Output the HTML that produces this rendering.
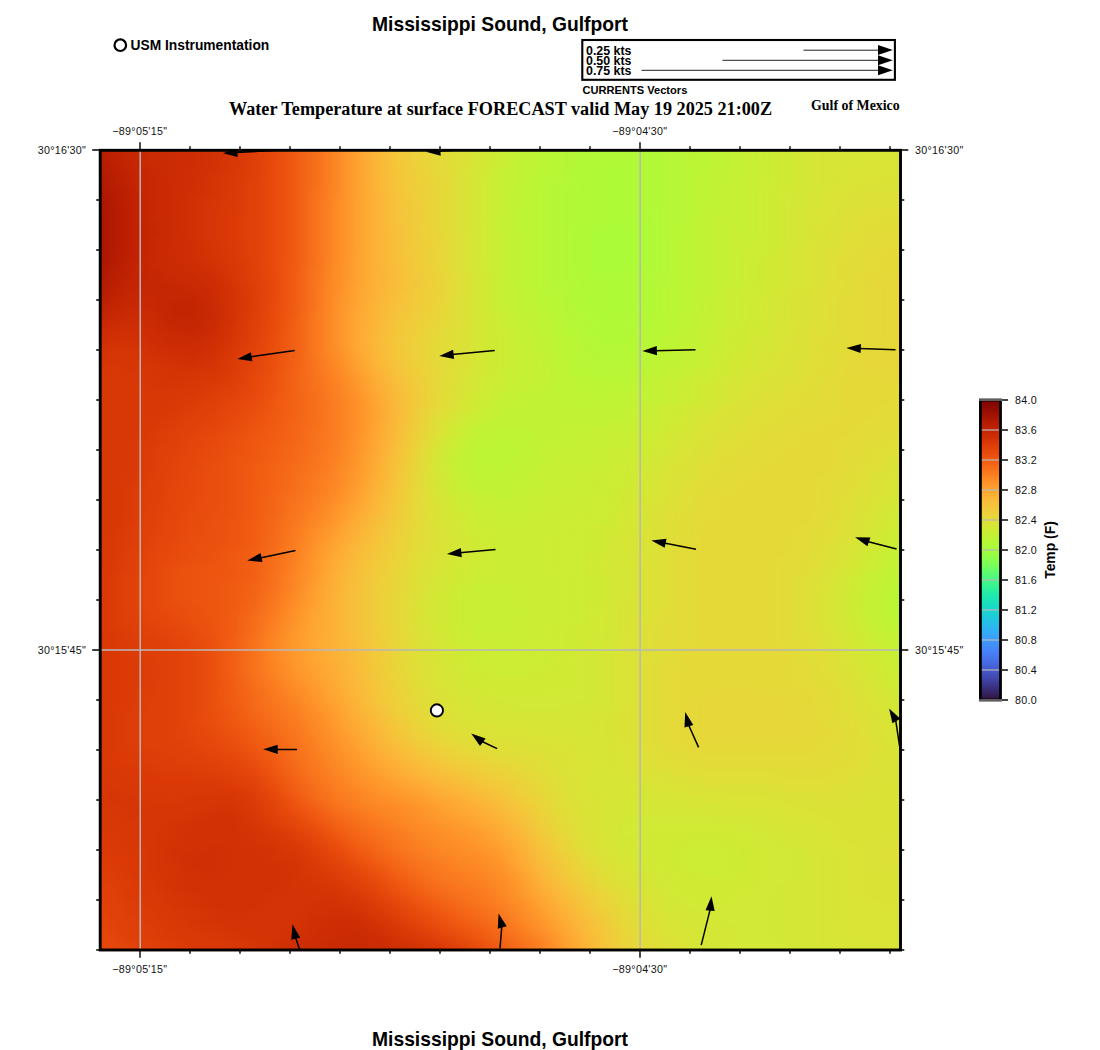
<!DOCTYPE html>
<html><head><meta charset="utf-8"><title>Mississippi Sound, Gulfport</title>
<style>
html,body{margin:0;padding:0;background:#fff}
body{width:1100px;height:1050px;overflow:hidden;position:relative;font-family:"Liberation Sans",sans-serif}
svg{position:absolute;left:0;top:0;display:block}
text{font-family:"Liberation Sans",sans-serif;fill:#000}
.ttl{font-weight:bold;font-size:19.3px;text-anchor:middle}
.usm{font-weight:bold;font-size:13.8px}
.kts{font-weight:bold;font-size:12.4px}
.cur{font-weight:bold;font-size:11.1px}
.sub{font-family:"Liberation Serif",serif;font-weight:bold;font-size:18.2px}
.gom{font-family:"Liberation Serif",serif;font-weight:bold;font-size:13.9px}
.ax{font-size:10.7px;fill:#111;letter-spacing:.3px}
.tmp{font-weight:bold;font-size:13.9px;text-anchor:middle}
</style></head>
<body>
<svg width="1100" height="1050" viewBox="0 0 1100 1050">
<defs>
<clipPath id="mc"><rect x="100" y="150" width="800.5" height="800"/></clipPath>
<filter id="vb" x="0" y="0" width="100%" height="100%" filterUnits="objectBoundingBox" color-interpolation-filters="sRGB"><feGaussianBlur stdDeviation="0 3"/></filter>
<linearGradient id="cbg" x1="0" y1="0" x2="0" y2="1"><stop offset="0" stop-color="#7a0403"/><stop offset="0.025" stop-color="#8e0a01"/><stop offset="0.05" stop-color="#a11201"/><stop offset="0.075" stop-color="#b41b01"/><stop offset="0.1" stop-color="#c32503"/><stop offset="0.125" stop-color="#d02f05"/><stop offset="0.15" stop-color="#dd3d08"/><stop offset="0.175" stop-color="#e7490c"/><stop offset="0.2" stop-color="#f05b12"/><stop offset="0.225" stop-color="#f66c19"/><stop offset="0.25" stop-color="#fb7e21"/><stop offset="0.275" stop-color="#fe932a"/><stop offset="0.3" stop-color="#fea431"/><stop offset="0.325" stop-color="#fbb637"/><stop offset="0.35" stop-color="#f6c33a"/><stop offset="0.375" stop-color="#eecf3a"/><stop offset="0.4" stop-color="#e1dd37"/><stop offset="0.425" stop-color="#d4e735"/><stop offset="0.45" stop-color="#c3f134"/><stop offset="0.475" stop-color="#b4f836"/><stop offset="0.5" stop-color="#a4fc3c"/><stop offset="0.525" stop-color="#8fff49"/><stop offset="0.55" stop-color="#79fe59"/><stop offset="0.575" stop-color="#5dfc6f"/><stop offset="0.6" stop-color="#46f884"/><stop offset="0.625" stop-color="#32f298"/><stop offset="0.65" stop-color="#20eaac"/><stop offset="0.675" stop-color="#19e2bb"/><stop offset="0.7" stop-color="#19d5cd"/><stop offset="0.725" stop-color="#1fc9dd"/><stop offset="0.75" stop-color="#28bceb"/><stop offset="0.775" stop-color="#35abf8"/><stop offset="0.8" stop-color="#3e9bfe"/><stop offset="0.825" stop-color="#458afc"/><stop offset="0.85" stop-color="#477bf2"/><stop offset="0.875" stop-color="#466be3"/><stop offset="0.9" stop-color="#4559cb"/><stop offset="0.925" stop-color="#4249b1"/><stop offset="0.95" stop-color="#3d358b"/><stop offset="0.975" stop-color="#372466"/><stop offset="1" stop-color="#30123b"/></linearGradient>
<linearGradient id="g0"><stop offset="0" stop-color="#af1801"/><stop offset="0.025" stop-color="#c12302"/><stop offset="0.05" stop-color="#c82803"/><stop offset="0.075" stop-color="#ca2a04"/><stop offset="0.1" stop-color="#cc2b04"/><stop offset="0.125" stop-color="#ce2d04"/><stop offset="0.15" stop-color="#d02f05"/><stop offset="0.175" stop-color="#d83706"/><stop offset="0.2" stop-color="#df3f08"/><stop offset="0.225" stop-color="#e7490c"/><stop offset="0.25" stop-color="#f05b12"/><stop offset="0.275" stop-color="#f76f1a"/><stop offset="0.3" stop-color="#fc8725"/><stop offset="0.325" stop-color="#fea130"/><stop offset="0.35" stop-color="#fbb838"/><stop offset="0.375" stop-color="#f2c93a"/><stop offset="0.4" stop-color="#ebd339"/><stop offset="0.425" stop-color="#e5d938"/><stop offset="0.45" stop-color="#dde037"/><stop offset="0.475" stop-color="#d4e735"/><stop offset="0.5" stop-color="#cdec34"/><stop offset="0.525" stop-color="#c3f134"/><stop offset="0.55" stop-color="#bef434"/><stop offset="0.575" stop-color="#b7f735"/><stop offset="0.6" stop-color="#b4f836"/><stop offset="0.625" stop-color="#b1f936"/><stop offset="0.65" stop-color="#b1f936"/><stop offset="0.675" stop-color="#b1f936"/><stop offset="0.7" stop-color="#b4f836"/><stop offset="0.725" stop-color="#b9f635"/><stop offset="0.75" stop-color="#bcf534"/><stop offset="0.775" stop-color="#c1f334"/><stop offset="0.8" stop-color="#c6f034"/><stop offset="0.825" stop-color="#cbed34"/><stop offset="0.85" stop-color="#d0ea34"/><stop offset="0.875" stop-color="#d4e735"/><stop offset="0.9" stop-color="#d7e535"/><stop offset="0.925" stop-color="#d7e535"/><stop offset="0.95" stop-color="#d7e535"/><stop offset="0.975" stop-color="#d7e535"/><stop offset="1" stop-color="#d9e436"/></linearGradient>
<linearGradient id="g1"><stop offset="0" stop-color="#af1801"/><stop offset="0.025" stop-color="#be2102"/><stop offset="0.05" stop-color="#c52603"/><stop offset="0.075" stop-color="#ca2a04"/><stop offset="0.1" stop-color="#cc2b04"/><stop offset="0.125" stop-color="#ce2d04"/><stop offset="0.15" stop-color="#d23105"/><stop offset="0.175" stop-color="#d83706"/><stop offset="0.2" stop-color="#df3f08"/><stop offset="0.225" stop-color="#e7490c"/><stop offset="0.25" stop-color="#f05b12"/><stop offset="0.275" stop-color="#f76f1a"/><stop offset="0.3" stop-color="#fc8725"/><stop offset="0.325" stop-color="#fea130"/><stop offset="0.35" stop-color="#fbb838"/><stop offset="0.375" stop-color="#f4c73a"/><stop offset="0.4" stop-color="#ecd13a"/><stop offset="0.425" stop-color="#e5d938"/><stop offset="0.45" stop-color="#dde037"/><stop offset="0.475" stop-color="#d4e735"/><stop offset="0.5" stop-color="#cbed34"/><stop offset="0.525" stop-color="#c3f134"/><stop offset="0.55" stop-color="#bcf534"/><stop offset="0.575" stop-color="#b7f735"/><stop offset="0.6" stop-color="#b4f836"/><stop offset="0.625" stop-color="#b1f936"/><stop offset="0.65" stop-color="#b1f936"/><stop offset="0.675" stop-color="#b1f936"/><stop offset="0.7" stop-color="#b4f836"/><stop offset="0.725" stop-color="#b9f635"/><stop offset="0.75" stop-color="#bcf534"/><stop offset="0.775" stop-color="#c1f334"/><stop offset="0.8" stop-color="#c6f034"/><stop offset="0.825" stop-color="#cbed34"/><stop offset="0.85" stop-color="#d0ea34"/><stop offset="0.875" stop-color="#d4e735"/><stop offset="0.9" stop-color="#d7e535"/><stop offset="0.925" stop-color="#d7e535"/><stop offset="0.95" stop-color="#d7e535"/><stop offset="0.975" stop-color="#d7e535"/><stop offset="1" stop-color="#d9e436"/></linearGradient>
<linearGradient id="g2"><stop offset="0" stop-color="#ac1701"/><stop offset="0.025" stop-color="#bc2002"/><stop offset="0.05" stop-color="#c52603"/><stop offset="0.075" stop-color="#ca2a04"/><stop offset="0.1" stop-color="#cc2b04"/><stop offset="0.125" stop-color="#ce2d04"/><stop offset="0.15" stop-color="#d23105"/><stop offset="0.175" stop-color="#d83706"/><stop offset="0.2" stop-color="#df3f08"/><stop offset="0.225" stop-color="#e84b0c"/><stop offset="0.25" stop-color="#f05b12"/><stop offset="0.275" stop-color="#f76f1a"/><stop offset="0.3" stop-color="#fc8725"/><stop offset="0.325" stop-color="#fea130"/><stop offset="0.35" stop-color="#fbb637"/><stop offset="0.375" stop-color="#f4c73a"/><stop offset="0.4" stop-color="#ecd13a"/><stop offset="0.425" stop-color="#e5d938"/><stop offset="0.45" stop-color="#dde037"/><stop offset="0.475" stop-color="#d4e735"/><stop offset="0.5" stop-color="#cbed34"/><stop offset="0.525" stop-color="#c1f334"/><stop offset="0.55" stop-color="#bcf534"/><stop offset="0.575" stop-color="#b7f735"/><stop offset="0.6" stop-color="#b1f936"/><stop offset="0.625" stop-color="#b1f936"/><stop offset="0.65" stop-color="#affa37"/><stop offset="0.675" stop-color="#b1f936"/><stop offset="0.7" stop-color="#b4f836"/><stop offset="0.725" stop-color="#b9f635"/><stop offset="0.75" stop-color="#bcf534"/><stop offset="0.775" stop-color="#c1f334"/><stop offset="0.8" stop-color="#c6f034"/><stop offset="0.825" stop-color="#cbed34"/><stop offset="0.85" stop-color="#d0ea34"/><stop offset="0.875" stop-color="#d4e735"/><stop offset="0.9" stop-color="#d7e535"/><stop offset="0.925" stop-color="#d7e535"/><stop offset="0.95" stop-color="#d9e436"/><stop offset="0.975" stop-color="#d9e436"/><stop offset="1" stop-color="#d9e436"/></linearGradient>
<linearGradient id="g3"><stop offset="0" stop-color="#a91601"/><stop offset="0.025" stop-color="#b91e02"/><stop offset="0.05" stop-color="#c32503"/><stop offset="0.075" stop-color="#c82803"/><stop offset="0.1" stop-color="#cc2b04"/><stop offset="0.125" stop-color="#d02f05"/><stop offset="0.15" stop-color="#d23105"/><stop offset="0.175" stop-color="#d83706"/><stop offset="0.2" stop-color="#df3f08"/><stop offset="0.225" stop-color="#e84b0c"/><stop offset="0.25" stop-color="#f05b12"/><stop offset="0.275" stop-color="#f76f1a"/><stop offset="0.3" stop-color="#fc8725"/><stop offset="0.325" stop-color="#fea130"/><stop offset="0.35" stop-color="#fbb637"/><stop offset="0.375" stop-color="#f5c53a"/><stop offset="0.4" stop-color="#ecd13a"/><stop offset="0.425" stop-color="#e5d938"/><stop offset="0.45" stop-color="#dde037"/><stop offset="0.475" stop-color="#d4e735"/><stop offset="0.5" stop-color="#c8ef34"/><stop offset="0.525" stop-color="#c1f334"/><stop offset="0.55" stop-color="#bcf534"/><stop offset="0.575" stop-color="#b7f735"/><stop offset="0.6" stop-color="#b1f936"/><stop offset="0.625" stop-color="#affa37"/><stop offset="0.65" stop-color="#affa37"/><stop offset="0.675" stop-color="#b1f936"/><stop offset="0.7" stop-color="#b4f836"/><stop offset="0.725" stop-color="#b9f635"/><stop offset="0.75" stop-color="#bef434"/><stop offset="0.775" stop-color="#c3f134"/><stop offset="0.8" stop-color="#c6f034"/><stop offset="0.825" stop-color="#cbed34"/><stop offset="0.85" stop-color="#d0ea34"/><stop offset="0.875" stop-color="#d4e735"/><stop offset="0.9" stop-color="#d7e535"/><stop offset="0.925" stop-color="#d9e436"/><stop offset="0.95" stop-color="#d9e436"/><stop offset="0.975" stop-color="#d9e436"/><stop offset="1" stop-color="#d9e436"/></linearGradient>
<linearGradient id="g4"><stop offset="0" stop-color="#a71401"/><stop offset="0.025" stop-color="#b71d02"/><stop offset="0.05" stop-color="#c12302"/><stop offset="0.075" stop-color="#c82803"/><stop offset="0.1" stop-color="#cc2b04"/><stop offset="0.125" stop-color="#d02f05"/><stop offset="0.15" stop-color="#d43305"/><stop offset="0.175" stop-color="#da3907"/><stop offset="0.2" stop-color="#df3f08"/><stop offset="0.225" stop-color="#e84b0c"/><stop offset="0.25" stop-color="#f05b12"/><stop offset="0.275" stop-color="#f76f1a"/><stop offset="0.3" stop-color="#fc8725"/><stop offset="0.325" stop-color="#fea130"/><stop offset="0.35" stop-color="#fbb637"/><stop offset="0.375" stop-color="#f5c53a"/><stop offset="0.4" stop-color="#eecf3a"/><stop offset="0.425" stop-color="#e7d739"/><stop offset="0.45" stop-color="#dde037"/><stop offset="0.475" stop-color="#d2e935"/><stop offset="0.5" stop-color="#c8ef34"/><stop offset="0.525" stop-color="#c1f334"/><stop offset="0.55" stop-color="#b9f635"/><stop offset="0.575" stop-color="#b7f735"/><stop offset="0.6" stop-color="#b1f936"/><stop offset="0.625" stop-color="#affa37"/><stop offset="0.65" stop-color="#affa37"/><stop offset="0.675" stop-color="#b1f936"/><stop offset="0.7" stop-color="#b4f836"/><stop offset="0.725" stop-color="#b9f635"/><stop offset="0.75" stop-color="#bef434"/><stop offset="0.775" stop-color="#c3f134"/><stop offset="0.8" stop-color="#c8ef34"/><stop offset="0.825" stop-color="#cbed34"/><stop offset="0.85" stop-color="#d0ea34"/><stop offset="0.875" stop-color="#d4e735"/><stop offset="0.9" stop-color="#d7e535"/><stop offset="0.925" stop-color="#d9e436"/><stop offset="0.95" stop-color="#d9e436"/><stop offset="0.975" stop-color="#dbe236"/><stop offset="1" stop-color="#dbe236"/></linearGradient>
<linearGradient id="g5"><stop offset="0" stop-color="#a71401"/><stop offset="0.025" stop-color="#b71d02"/><stop offset="0.05" stop-color="#c12302"/><stop offset="0.075" stop-color="#c82803"/><stop offset="0.1" stop-color="#cc2b04"/><stop offset="0.125" stop-color="#d02f05"/><stop offset="0.15" stop-color="#d43305"/><stop offset="0.175" stop-color="#da3907"/><stop offset="0.2" stop-color="#e14109"/><stop offset="0.225" stop-color="#e84b0c"/><stop offset="0.25" stop-color="#f05b12"/><stop offset="0.275" stop-color="#f76f1a"/><stop offset="0.3" stop-color="#fc8725"/><stop offset="0.325" stop-color="#fea130"/><stop offset="0.35" stop-color="#fbb637"/><stop offset="0.375" stop-color="#f5c53a"/><stop offset="0.4" stop-color="#eecf3a"/><stop offset="0.425" stop-color="#e7d739"/><stop offset="0.45" stop-color="#dde037"/><stop offset="0.475" stop-color="#d2e935"/><stop offset="0.5" stop-color="#c8ef34"/><stop offset="0.525" stop-color="#c1f334"/><stop offset="0.55" stop-color="#b9f635"/><stop offset="0.575" stop-color="#b4f836"/><stop offset="0.6" stop-color="#b1f936"/><stop offset="0.625" stop-color="#affa37"/><stop offset="0.65" stop-color="#affa37"/><stop offset="0.675" stop-color="#b1f936"/><stop offset="0.7" stop-color="#b4f836"/><stop offset="0.725" stop-color="#b9f635"/><stop offset="0.75" stop-color="#bef434"/><stop offset="0.775" stop-color="#c3f134"/><stop offset="0.8" stop-color="#c8ef34"/><stop offset="0.825" stop-color="#cdec34"/><stop offset="0.85" stop-color="#d0ea34"/><stop offset="0.875" stop-color="#d4e735"/><stop offset="0.9" stop-color="#d7e535"/><stop offset="0.925" stop-color="#d9e436"/><stop offset="0.95" stop-color="#dbe236"/><stop offset="0.975" stop-color="#dbe236"/><stop offset="1" stop-color="#dbe236"/></linearGradient>
<linearGradient id="g6"><stop offset="0" stop-color="#a41301"/><stop offset="0.025" stop-color="#b41b01"/><stop offset="0.05" stop-color="#be2102"/><stop offset="0.075" stop-color="#c82803"/><stop offset="0.1" stop-color="#cc2b04"/><stop offset="0.125" stop-color="#d02f05"/><stop offset="0.15" stop-color="#d43305"/><stop offset="0.175" stop-color="#da3907"/><stop offset="0.2" stop-color="#e14109"/><stop offset="0.225" stop-color="#e84b0c"/><stop offset="0.25" stop-color="#f05b12"/><stop offset="0.275" stop-color="#f8721c"/><stop offset="0.3" stop-color="#fc8725"/><stop offset="0.325" stop-color="#fea130"/><stop offset="0.35" stop-color="#fcb336"/><stop offset="0.375" stop-color="#f6c33a"/><stop offset="0.4" stop-color="#eecf3a"/><stop offset="0.425" stop-color="#e7d739"/><stop offset="0.45" stop-color="#dde037"/><stop offset="0.475" stop-color="#d2e935"/><stop offset="0.5" stop-color="#c8ef34"/><stop offset="0.525" stop-color="#bef434"/><stop offset="0.55" stop-color="#b9f635"/><stop offset="0.575" stop-color="#b4f836"/><stop offset="0.6" stop-color="#b1f936"/><stop offset="0.625" stop-color="#affa37"/><stop offset="0.65" stop-color="#affa37"/><stop offset="0.675" stop-color="#b1f936"/><stop offset="0.7" stop-color="#b4f836"/><stop offset="0.725" stop-color="#b9f635"/><stop offset="0.75" stop-color="#bef434"/><stop offset="0.775" stop-color="#c3f134"/><stop offset="0.8" stop-color="#c8ef34"/><stop offset="0.825" stop-color="#cdec34"/><stop offset="0.85" stop-color="#d2e935"/><stop offset="0.875" stop-color="#d4e735"/><stop offset="0.9" stop-color="#d9e436"/><stop offset="0.925" stop-color="#dbe236"/><stop offset="0.95" stop-color="#dde037"/><stop offset="0.975" stop-color="#dde037"/><stop offset="1" stop-color="#dde037"/></linearGradient>
<linearGradient id="g7"><stop offset="0" stop-color="#a11201"/><stop offset="0.025" stop-color="#b21a01"/><stop offset="0.05" stop-color="#be2102"/><stop offset="0.075" stop-color="#c82803"/><stop offset="0.1" stop-color="#cc2b04"/><stop offset="0.125" stop-color="#d23105"/><stop offset="0.15" stop-color="#d63506"/><stop offset="0.175" stop-color="#da3907"/><stop offset="0.2" stop-color="#e14109"/><stop offset="0.225" stop-color="#e84b0c"/><stop offset="0.25" stop-color="#f05b12"/><stop offset="0.275" stop-color="#f8721c"/><stop offset="0.3" stop-color="#fd8a26"/><stop offset="0.325" stop-color="#fea130"/><stop offset="0.35" stop-color="#fcb336"/><stop offset="0.375" stop-color="#f6c33a"/><stop offset="0.4" stop-color="#efcd3a"/><stop offset="0.425" stop-color="#e7d739"/><stop offset="0.45" stop-color="#dde037"/><stop offset="0.475" stop-color="#d2e935"/><stop offset="0.5" stop-color="#c8ef34"/><stop offset="0.525" stop-color="#bef434"/><stop offset="0.55" stop-color="#b9f635"/><stop offset="0.575" stop-color="#b4f836"/><stop offset="0.6" stop-color="#b1f936"/><stop offset="0.625" stop-color="#affa37"/><stop offset="0.65" stop-color="#affa37"/><stop offset="0.675" stop-color="#b1f936"/><stop offset="0.7" stop-color="#b4f836"/><stop offset="0.725" stop-color="#b9f635"/><stop offset="0.75" stop-color="#bef434"/><stop offset="0.775" stop-color="#c3f134"/><stop offset="0.8" stop-color="#c8ef34"/><stop offset="0.825" stop-color="#cdec34"/><stop offset="0.85" stop-color="#d2e935"/><stop offset="0.875" stop-color="#d4e735"/><stop offset="0.9" stop-color="#d9e436"/><stop offset="0.925" stop-color="#dbe236"/><stop offset="0.95" stop-color="#dde037"/><stop offset="0.975" stop-color="#dde037"/><stop offset="1" stop-color="#dde037"/></linearGradient>
<linearGradient id="g8"><stop offset="0" stop-color="#a11201"/><stop offset="0.025" stop-color="#b21a01"/><stop offset="0.05" stop-color="#be2102"/><stop offset="0.075" stop-color="#c82803"/><stop offset="0.1" stop-color="#cc2b04"/><stop offset="0.125" stop-color="#d23105"/><stop offset="0.15" stop-color="#d63506"/><stop offset="0.175" stop-color="#da3907"/><stop offset="0.2" stop-color="#e14109"/><stop offset="0.225" stop-color="#e84b0c"/><stop offset="0.25" stop-color="#f05b12"/><stop offset="0.275" stop-color="#f8721c"/><stop offset="0.3" stop-color="#fd8a26"/><stop offset="0.325" stop-color="#fea130"/><stop offset="0.35" stop-color="#fcb336"/><stop offset="0.375" stop-color="#f6c33a"/><stop offset="0.4" stop-color="#efcd3a"/><stop offset="0.425" stop-color="#e7d739"/><stop offset="0.45" stop-color="#dde037"/><stop offset="0.475" stop-color="#d2e935"/><stop offset="0.5" stop-color="#c8ef34"/><stop offset="0.525" stop-color="#bef434"/><stop offset="0.55" stop-color="#b9f635"/><stop offset="0.575" stop-color="#b4f836"/><stop offset="0.6" stop-color="#b1f936"/><stop offset="0.625" stop-color="#affa37"/><stop offset="0.65" stop-color="#affa37"/><stop offset="0.675" stop-color="#b1f936"/><stop offset="0.7" stop-color="#b4f836"/><stop offset="0.725" stop-color="#b9f635"/><stop offset="0.75" stop-color="#c1f334"/><stop offset="0.775" stop-color="#c3f134"/><stop offset="0.8" stop-color="#c8ef34"/><stop offset="0.825" stop-color="#cdec34"/><stop offset="0.85" stop-color="#d2e935"/><stop offset="0.875" stop-color="#d7e535"/><stop offset="0.9" stop-color="#d9e436"/><stop offset="0.925" stop-color="#dde037"/><stop offset="0.95" stop-color="#dfdf37"/><stop offset="0.975" stop-color="#dfdf37"/><stop offset="1" stop-color="#dfdf37"/></linearGradient>
<linearGradient id="g9"><stop offset="0" stop-color="#9e1001"/><stop offset="0.025" stop-color="#b21a01"/><stop offset="0.05" stop-color="#be2102"/><stop offset="0.075" stop-color="#c82803"/><stop offset="0.1" stop-color="#cc2b04"/><stop offset="0.125" stop-color="#d23105"/><stop offset="0.15" stop-color="#d63506"/><stop offset="0.175" stop-color="#dc3b07"/><stop offset="0.2" stop-color="#e14109"/><stop offset="0.225" stop-color="#e84b0c"/><stop offset="0.25" stop-color="#f05b12"/><stop offset="0.275" stop-color="#f8721c"/><stop offset="0.3" stop-color="#fd8a26"/><stop offset="0.325" stop-color="#fea130"/><stop offset="0.35" stop-color="#fcb336"/><stop offset="0.375" stop-color="#f6c33a"/><stop offset="0.4" stop-color="#efcd3a"/><stop offset="0.425" stop-color="#e7d739"/><stop offset="0.45" stop-color="#dde037"/><stop offset="0.475" stop-color="#d2e935"/><stop offset="0.5" stop-color="#c6f034"/><stop offset="0.525" stop-color="#bef434"/><stop offset="0.55" stop-color="#b9f635"/><stop offset="0.575" stop-color="#b4f836"/><stop offset="0.6" stop-color="#b1f936"/><stop offset="0.625" stop-color="#affa37"/><stop offset="0.65" stop-color="#affa37"/><stop offset="0.675" stop-color="#affa37"/><stop offset="0.7" stop-color="#b4f836"/><stop offset="0.725" stop-color="#b9f635"/><stop offset="0.75" stop-color="#c1f334"/><stop offset="0.775" stop-color="#c6f034"/><stop offset="0.8" stop-color="#c8ef34"/><stop offset="0.825" stop-color="#cdec34"/><stop offset="0.85" stop-color="#d2e935"/><stop offset="0.875" stop-color="#d7e535"/><stop offset="0.9" stop-color="#d9e436"/><stop offset="0.925" stop-color="#dde037"/><stop offset="0.95" stop-color="#dfdf37"/><stop offset="0.975" stop-color="#e1dd37"/><stop offset="1" stop-color="#e1dd37"/></linearGradient>
<linearGradient id="g10"><stop offset="0" stop-color="#9e1001"/><stop offset="0.025" stop-color="#b21a01"/><stop offset="0.05" stop-color="#be2102"/><stop offset="0.075" stop-color="#c52603"/><stop offset="0.1" stop-color="#cc2b04"/><stop offset="0.125" stop-color="#d23105"/><stop offset="0.15" stop-color="#d63506"/><stop offset="0.175" stop-color="#dc3b07"/><stop offset="0.2" stop-color="#e14109"/><stop offset="0.225" stop-color="#e84b0c"/><stop offset="0.25" stop-color="#f05b12"/><stop offset="0.275" stop-color="#f8721c"/><stop offset="0.3" stop-color="#fd8a26"/><stop offset="0.325" stop-color="#fea130"/><stop offset="0.35" stop-color="#fcb336"/><stop offset="0.375" stop-color="#f7c13a"/><stop offset="0.4" stop-color="#efcd3a"/><stop offset="0.425" stop-color="#e7d739"/><stop offset="0.45" stop-color="#dde037"/><stop offset="0.475" stop-color="#d2e935"/><stop offset="0.5" stop-color="#c6f034"/><stop offset="0.525" stop-color="#bef434"/><stop offset="0.55" stop-color="#b9f635"/><stop offset="0.575" stop-color="#b4f836"/><stop offset="0.6" stop-color="#b1f936"/><stop offset="0.625" stop-color="#affa37"/><stop offset="0.65" stop-color="#acfb38"/><stop offset="0.675" stop-color="#affa37"/><stop offset="0.7" stop-color="#b4f836"/><stop offset="0.725" stop-color="#b9f635"/><stop offset="0.75" stop-color="#c1f334"/><stop offset="0.775" stop-color="#c6f034"/><stop offset="0.8" stop-color="#c8ef34"/><stop offset="0.825" stop-color="#cdec34"/><stop offset="0.85" stop-color="#d2e935"/><stop offset="0.875" stop-color="#d7e535"/><stop offset="0.9" stop-color="#dbe236"/><stop offset="0.925" stop-color="#dde037"/><stop offset="0.95" stop-color="#e1dd37"/><stop offset="0.975" stop-color="#e1dd37"/><stop offset="1" stop-color="#e1dd37"/></linearGradient>
<linearGradient id="g11"><stop offset="0" stop-color="#9e1001"/><stop offset="0.025" stop-color="#b21a01"/><stop offset="0.05" stop-color="#be2102"/><stop offset="0.075" stop-color="#c52603"/><stop offset="0.1" stop-color="#cc2b04"/><stop offset="0.125" stop-color="#d23105"/><stop offset="0.15" stop-color="#d63506"/><stop offset="0.175" stop-color="#dc3b07"/><stop offset="0.2" stop-color="#e14109"/><stop offset="0.225" stop-color="#e84b0c"/><stop offset="0.25" stop-color="#f05b12"/><stop offset="0.275" stop-color="#f8721c"/><stop offset="0.3" stop-color="#fd8a26"/><stop offset="0.325" stop-color="#fea130"/><stop offset="0.35" stop-color="#fcb336"/><stop offset="0.375" stop-color="#f7c13a"/><stop offset="0.4" stop-color="#efcd3a"/><stop offset="0.425" stop-color="#e9d539"/><stop offset="0.45" stop-color="#dde037"/><stop offset="0.475" stop-color="#d2e935"/><stop offset="0.5" stop-color="#c8ef34"/><stop offset="0.525" stop-color="#bef434"/><stop offset="0.55" stop-color="#b9f635"/><stop offset="0.575" stop-color="#b4f836"/><stop offset="0.6" stop-color="#affa37"/><stop offset="0.625" stop-color="#acfb38"/><stop offset="0.65" stop-color="#acfb38"/><stop offset="0.675" stop-color="#affa37"/><stop offset="0.7" stop-color="#b4f836"/><stop offset="0.725" stop-color="#bcf534"/><stop offset="0.75" stop-color="#c1f334"/><stop offset="0.775" stop-color="#c6f034"/><stop offset="0.8" stop-color="#c8ef34"/><stop offset="0.825" stop-color="#cdec34"/><stop offset="0.85" stop-color="#d2e935"/><stop offset="0.875" stop-color="#d7e535"/><stop offset="0.9" stop-color="#dbe236"/><stop offset="0.925" stop-color="#dfdf37"/><stop offset="0.95" stop-color="#e1dd37"/><stop offset="0.975" stop-color="#e3db38"/><stop offset="1" stop-color="#e3db38"/></linearGradient>
<linearGradient id="g12"><stop offset="0" stop-color="#9e1001"/><stop offset="0.025" stop-color="#b21a01"/><stop offset="0.05" stop-color="#be2102"/><stop offset="0.075" stop-color="#c82803"/><stop offset="0.1" stop-color="#cc2b04"/><stop offset="0.125" stop-color="#d02f05"/><stop offset="0.15" stop-color="#d63506"/><stop offset="0.175" stop-color="#da3907"/><stop offset="0.2" stop-color="#e14109"/><stop offset="0.225" stop-color="#e84b0c"/><stop offset="0.25" stop-color="#f05b12"/><stop offset="0.275" stop-color="#f8721c"/><stop offset="0.3" stop-color="#fd8a26"/><stop offset="0.325" stop-color="#fea130"/><stop offset="0.35" stop-color="#fcb336"/><stop offset="0.375" stop-color="#f7c13a"/><stop offset="0.4" stop-color="#f1cb3a"/><stop offset="0.425" stop-color="#e9d539"/><stop offset="0.45" stop-color="#dfdf37"/><stop offset="0.475" stop-color="#d2e935"/><stop offset="0.5" stop-color="#c8ef34"/><stop offset="0.525" stop-color="#bef434"/><stop offset="0.55" stop-color="#b9f635"/><stop offset="0.575" stop-color="#b4f836"/><stop offset="0.6" stop-color="#affa37"/><stop offset="0.625" stop-color="#acfb38"/><stop offset="0.65" stop-color="#acfb38"/><stop offset="0.675" stop-color="#affa37"/><stop offset="0.7" stop-color="#b4f836"/><stop offset="0.725" stop-color="#bcf534"/><stop offset="0.75" stop-color="#c1f334"/><stop offset="0.775" stop-color="#c6f034"/><stop offset="0.8" stop-color="#c8ef34"/><stop offset="0.825" stop-color="#cdec34"/><stop offset="0.85" stop-color="#d2e935"/><stop offset="0.875" stop-color="#d7e535"/><stop offset="0.9" stop-color="#dbe236"/><stop offset="0.925" stop-color="#dfdf37"/><stop offset="0.95" stop-color="#e1dd37"/><stop offset="0.975" stop-color="#e3db38"/><stop offset="1" stop-color="#e5d938"/></linearGradient>
<linearGradient id="g13"><stop offset="0" stop-color="#9e1001"/><stop offset="0.025" stop-color="#b21a01"/><stop offset="0.05" stop-color="#be2102"/><stop offset="0.075" stop-color="#c82803"/><stop offset="0.1" stop-color="#cc2b04"/><stop offset="0.125" stop-color="#d02f05"/><stop offset="0.15" stop-color="#d43305"/><stop offset="0.175" stop-color="#da3907"/><stop offset="0.2" stop-color="#e14109"/><stop offset="0.225" stop-color="#e84b0c"/><stop offset="0.25" stop-color="#f05b12"/><stop offset="0.275" stop-color="#f8721c"/><stop offset="0.3" stop-color="#fd8a26"/><stop offset="0.325" stop-color="#fea130"/><stop offset="0.35" stop-color="#fcb336"/><stop offset="0.375" stop-color="#f7c13a"/><stop offset="0.4" stop-color="#f1cb3a"/><stop offset="0.425" stop-color="#e9d539"/><stop offset="0.45" stop-color="#dfdf37"/><stop offset="0.475" stop-color="#d2e935"/><stop offset="0.5" stop-color="#c8ef34"/><stop offset="0.525" stop-color="#bef434"/><stop offset="0.55" stop-color="#b9f635"/><stop offset="0.575" stop-color="#b4f836"/><stop offset="0.6" stop-color="#affa37"/><stop offset="0.625" stop-color="#acfb38"/><stop offset="0.65" stop-color="#acfb38"/><stop offset="0.675" stop-color="#affa37"/><stop offset="0.7" stop-color="#b4f836"/><stop offset="0.725" stop-color="#bcf534"/><stop offset="0.75" stop-color="#c1f334"/><stop offset="0.775" stop-color="#c6f034"/><stop offset="0.8" stop-color="#cbed34"/><stop offset="0.825" stop-color="#cdec34"/><stop offset="0.85" stop-color="#d4e735"/><stop offset="0.875" stop-color="#d9e436"/><stop offset="0.9" stop-color="#dde037"/><stop offset="0.925" stop-color="#dfdf37"/><stop offset="0.95" stop-color="#e3db38"/><stop offset="0.975" stop-color="#e5d938"/><stop offset="1" stop-color="#e5d938"/></linearGradient>
<linearGradient id="g14"><stop offset="0" stop-color="#9e1001"/><stop offset="0.025" stop-color="#b21a01"/><stop offset="0.05" stop-color="#be2102"/><stop offset="0.075" stop-color="#c82803"/><stop offset="0.1" stop-color="#cc2b04"/><stop offset="0.125" stop-color="#d02f05"/><stop offset="0.15" stop-color="#d43305"/><stop offset="0.175" stop-color="#da3907"/><stop offset="0.2" stop-color="#e14109"/><stop offset="0.225" stop-color="#e84b0c"/><stop offset="0.25" stop-color="#f05b12"/><stop offset="0.275" stop-color="#f8721c"/><stop offset="0.3" stop-color="#fd8a26"/><stop offset="0.325" stop-color="#fea130"/><stop offset="0.35" stop-color="#fcb336"/><stop offset="0.375" stop-color="#f7c13a"/><stop offset="0.4" stop-color="#f1cb3a"/><stop offset="0.425" stop-color="#e9d539"/><stop offset="0.45" stop-color="#dfdf37"/><stop offset="0.475" stop-color="#d2e935"/><stop offset="0.5" stop-color="#c8ef34"/><stop offset="0.525" stop-color="#bef434"/><stop offset="0.55" stop-color="#b9f635"/><stop offset="0.575" stop-color="#b4f836"/><stop offset="0.6" stop-color="#affa37"/><stop offset="0.625" stop-color="#acfb38"/><stop offset="0.65" stop-color="#acfb38"/><stop offset="0.675" stop-color="#affa37"/><stop offset="0.7" stop-color="#b4f836"/><stop offset="0.725" stop-color="#bcf534"/><stop offset="0.75" stop-color="#c1f334"/><stop offset="0.775" stop-color="#c6f034"/><stop offset="0.8" stop-color="#cbed34"/><stop offset="0.825" stop-color="#d0ea34"/><stop offset="0.85" stop-color="#d4e735"/><stop offset="0.875" stop-color="#d9e436"/><stop offset="0.9" stop-color="#dde037"/><stop offset="0.925" stop-color="#e1dd37"/><stop offset="0.95" stop-color="#e3db38"/><stop offset="0.975" stop-color="#e5d938"/><stop offset="1" stop-color="#e5d938"/></linearGradient>
<linearGradient id="g15"><stop offset="0" stop-color="#a11201"/><stop offset="0.025" stop-color="#b41b01"/><stop offset="0.05" stop-color="#c12302"/><stop offset="0.075" stop-color="#c82803"/><stop offset="0.1" stop-color="#ca2a04"/><stop offset="0.125" stop-color="#ce2d04"/><stop offset="0.15" stop-color="#d23105"/><stop offset="0.175" stop-color="#d83706"/><stop offset="0.2" stop-color="#df3f08"/><stop offset="0.225" stop-color="#e84b0c"/><stop offset="0.25" stop-color="#f05b12"/><stop offset="0.275" stop-color="#f8721c"/><stop offset="0.3" stop-color="#fd8d27"/><stop offset="0.325" stop-color="#fea130"/><stop offset="0.35" stop-color="#fcb336"/><stop offset="0.375" stop-color="#f8be39"/><stop offset="0.4" stop-color="#f1cb3a"/><stop offset="0.425" stop-color="#e9d539"/><stop offset="0.45" stop-color="#dfdf37"/><stop offset="0.475" stop-color="#d2e935"/><stop offset="0.5" stop-color="#c8ef34"/><stop offset="0.525" stop-color="#bef434"/><stop offset="0.55" stop-color="#b9f635"/><stop offset="0.575" stop-color="#b4f836"/><stop offset="0.6" stop-color="#affa37"/><stop offset="0.625" stop-color="#acfb38"/><stop offset="0.65" stop-color="#acfb38"/><stop offset="0.675" stop-color="#affa37"/><stop offset="0.7" stop-color="#b4f836"/><stop offset="0.725" stop-color="#bcf534"/><stop offset="0.75" stop-color="#c1f334"/><stop offset="0.775" stop-color="#c6f034"/><stop offset="0.8" stop-color="#cbed34"/><stop offset="0.825" stop-color="#d0ea34"/><stop offset="0.85" stop-color="#d4e735"/><stop offset="0.875" stop-color="#d9e436"/><stop offset="0.9" stop-color="#dde037"/><stop offset="0.925" stop-color="#e1dd37"/><stop offset="0.95" stop-color="#e3db38"/><stop offset="0.975" stop-color="#e5d938"/><stop offset="1" stop-color="#e5d938"/></linearGradient>
<linearGradient id="g16"><stop offset="0" stop-color="#a41301"/><stop offset="0.025" stop-color="#b71d02"/><stop offset="0.05" stop-color="#c12302"/><stop offset="0.075" stop-color="#c52603"/><stop offset="0.1" stop-color="#ca2a04"/><stop offset="0.125" stop-color="#cc2b04"/><stop offset="0.15" stop-color="#d02f05"/><stop offset="0.175" stop-color="#d83706"/><stop offset="0.2" stop-color="#df3f08"/><stop offset="0.225" stop-color="#e84b0c"/><stop offset="0.25" stop-color="#f15d13"/><stop offset="0.275" stop-color="#f9751d"/><stop offset="0.3" stop-color="#fd8d27"/><stop offset="0.325" stop-color="#fea130"/><stop offset="0.35" stop-color="#fcb336"/><stop offset="0.375" stop-color="#f8be39"/><stop offset="0.4" stop-color="#f2c93a"/><stop offset="0.425" stop-color="#ebd339"/><stop offset="0.45" stop-color="#dfdf37"/><stop offset="0.475" stop-color="#d4e735"/><stop offset="0.5" stop-color="#c8ef34"/><stop offset="0.525" stop-color="#bef434"/><stop offset="0.55" stop-color="#b9f635"/><stop offset="0.575" stop-color="#b4f836"/><stop offset="0.6" stop-color="#b1f936"/><stop offset="0.625" stop-color="#acfb38"/><stop offset="0.65" stop-color="#affa37"/><stop offset="0.675" stop-color="#b1f936"/><stop offset="0.7" stop-color="#b4f836"/><stop offset="0.725" stop-color="#bcf534"/><stop offset="0.75" stop-color="#c1f334"/><stop offset="0.775" stop-color="#c6f034"/><stop offset="0.8" stop-color="#cbed34"/><stop offset="0.825" stop-color="#d0ea34"/><stop offset="0.85" stop-color="#d4e735"/><stop offset="0.875" stop-color="#d9e436"/><stop offset="0.9" stop-color="#dde037"/><stop offset="0.925" stop-color="#e1dd37"/><stop offset="0.95" stop-color="#e5d938"/><stop offset="0.975" stop-color="#e5d938"/><stop offset="1" stop-color="#e7d739"/></linearGradient>
<linearGradient id="g17"><stop offset="0" stop-color="#a71401"/><stop offset="0.025" stop-color="#b91e02"/><stop offset="0.05" stop-color="#c32503"/><stop offset="0.075" stop-color="#c52603"/><stop offset="0.1" stop-color="#c82803"/><stop offset="0.125" stop-color="#ca2a04"/><stop offset="0.15" stop-color="#ce2d04"/><stop offset="0.175" stop-color="#d63506"/><stop offset="0.2" stop-color="#df3f08"/><stop offset="0.225" stop-color="#e7490c"/><stop offset="0.25" stop-color="#f15d13"/><stop offset="0.275" stop-color="#f9751d"/><stop offset="0.3" stop-color="#fd8d27"/><stop offset="0.325" stop-color="#fea130"/><stop offset="0.35" stop-color="#fcb336"/><stop offset="0.375" stop-color="#f8be39"/><stop offset="0.4" stop-color="#f2c93a"/><stop offset="0.425" stop-color="#ebd339"/><stop offset="0.45" stop-color="#dfdf37"/><stop offset="0.475" stop-color="#d4e735"/><stop offset="0.5" stop-color="#c8ef34"/><stop offset="0.525" stop-color="#bef434"/><stop offset="0.55" stop-color="#b9f635"/><stop offset="0.575" stop-color="#b4f836"/><stop offset="0.6" stop-color="#b1f936"/><stop offset="0.625" stop-color="#affa37"/><stop offset="0.65" stop-color="#affa37"/><stop offset="0.675" stop-color="#b1f936"/><stop offset="0.7" stop-color="#b7f735"/><stop offset="0.725" stop-color="#bcf534"/><stop offset="0.75" stop-color="#c1f334"/><stop offset="0.775" stop-color="#c6f034"/><stop offset="0.8" stop-color="#cbed34"/><stop offset="0.825" stop-color="#d0ea34"/><stop offset="0.85" stop-color="#d4e735"/><stop offset="0.875" stop-color="#d9e436"/><stop offset="0.9" stop-color="#dde037"/><stop offset="0.925" stop-color="#e1dd37"/><stop offset="0.95" stop-color="#e5d938"/><stop offset="0.975" stop-color="#e7d739"/><stop offset="1" stop-color="#e7d739"/></linearGradient>
<linearGradient id="g18"><stop offset="0" stop-color="#a91601"/><stop offset="0.025" stop-color="#bc2002"/><stop offset="0.05" stop-color="#c32503"/><stop offset="0.075" stop-color="#c52603"/><stop offset="0.1" stop-color="#c52603"/><stop offset="0.125" stop-color="#c82803"/><stop offset="0.15" stop-color="#cc2b04"/><stop offset="0.175" stop-color="#d43305"/><stop offset="0.2" stop-color="#dd3d08"/><stop offset="0.225" stop-color="#e7490c"/><stop offset="0.25" stop-color="#f15d13"/><stop offset="0.275" stop-color="#f9751d"/><stop offset="0.3" stop-color="#fd8d27"/><stop offset="0.325" stop-color="#fea431"/><stop offset="0.35" stop-color="#fcb336"/><stop offset="0.375" stop-color="#f8be39"/><stop offset="0.4" stop-color="#f2c93a"/><stop offset="0.425" stop-color="#ebd339"/><stop offset="0.45" stop-color="#dfdf37"/><stop offset="0.475" stop-color="#d4e735"/><stop offset="0.5" stop-color="#c8ef34"/><stop offset="0.525" stop-color="#c1f334"/><stop offset="0.55" stop-color="#b9f635"/><stop offset="0.575" stop-color="#b7f735"/><stop offset="0.6" stop-color="#b1f936"/><stop offset="0.625" stop-color="#affa37"/><stop offset="0.65" stop-color="#affa37"/><stop offset="0.675" stop-color="#b1f936"/><stop offset="0.7" stop-color="#b7f735"/><stop offset="0.725" stop-color="#bcf534"/><stop offset="0.75" stop-color="#c1f334"/><stop offset="0.775" stop-color="#c8ef34"/><stop offset="0.8" stop-color="#cdec34"/><stop offset="0.825" stop-color="#d0ea34"/><stop offset="0.85" stop-color="#d7e535"/><stop offset="0.875" stop-color="#dbe236"/><stop offset="0.9" stop-color="#dfdf37"/><stop offset="0.925" stop-color="#e1dd37"/><stop offset="0.95" stop-color="#e5d938"/><stop offset="0.975" stop-color="#e7d739"/><stop offset="1" stop-color="#e7d739"/></linearGradient>
<linearGradient id="g19"><stop offset="0" stop-color="#af1801"/><stop offset="0.025" stop-color="#be2102"/><stop offset="0.05" stop-color="#c52603"/><stop offset="0.075" stop-color="#c82803"/><stop offset="0.1" stop-color="#c52603"/><stop offset="0.125" stop-color="#c52603"/><stop offset="0.15" stop-color="#cc2b04"/><stop offset="0.175" stop-color="#d43305"/><stop offset="0.2" stop-color="#dd3d08"/><stop offset="0.225" stop-color="#e7490c"/><stop offset="0.25" stop-color="#f15d13"/><stop offset="0.275" stop-color="#f9751d"/><stop offset="0.3" stop-color="#fe9029"/><stop offset="0.325" stop-color="#fea431"/><stop offset="0.35" stop-color="#fcb336"/><stop offset="0.375" stop-color="#f7c13a"/><stop offset="0.4" stop-color="#f1cb3a"/><stop offset="0.425" stop-color="#ebd339"/><stop offset="0.45" stop-color="#dfdf37"/><stop offset="0.475" stop-color="#d4e735"/><stop offset="0.5" stop-color="#c8ef34"/><stop offset="0.525" stop-color="#c1f334"/><stop offset="0.55" stop-color="#bcf534"/><stop offset="0.575" stop-color="#b7f735"/><stop offset="0.6" stop-color="#b1f936"/><stop offset="0.625" stop-color="#affa37"/><stop offset="0.65" stop-color="#affa37"/><stop offset="0.675" stop-color="#b1f936"/><stop offset="0.7" stop-color="#b7f735"/><stop offset="0.725" stop-color="#bcf534"/><stop offset="0.75" stop-color="#c3f134"/><stop offset="0.775" stop-color="#c8ef34"/><stop offset="0.8" stop-color="#cdec34"/><stop offset="0.825" stop-color="#d2e935"/><stop offset="0.85" stop-color="#d7e535"/><stop offset="0.875" stop-color="#dbe236"/><stop offset="0.9" stop-color="#dfdf37"/><stop offset="0.925" stop-color="#e3db38"/><stop offset="0.95" stop-color="#e5d938"/><stop offset="0.975" stop-color="#e7d739"/><stop offset="1" stop-color="#e7d739"/></linearGradient>
<linearGradient id="g20"><stop offset="0" stop-color="#b41b01"/><stop offset="0.025" stop-color="#c32503"/><stop offset="0.05" stop-color="#c82803"/><stop offset="0.075" stop-color="#c82803"/><stop offset="0.1" stop-color="#c32503"/><stop offset="0.125" stop-color="#c32503"/><stop offset="0.15" stop-color="#ca2a04"/><stop offset="0.175" stop-color="#d43305"/><stop offset="0.2" stop-color="#dd3d08"/><stop offset="0.225" stop-color="#e84b0c"/><stop offset="0.25" stop-color="#f15d13"/><stop offset="0.275" stop-color="#f9751d"/><stop offset="0.3" stop-color="#fe9029"/><stop offset="0.325" stop-color="#fea431"/><stop offset="0.35" stop-color="#fbb637"/><stop offset="0.375" stop-color="#f7c13a"/><stop offset="0.4" stop-color="#f1cb3a"/><stop offset="0.425" stop-color="#e9d539"/><stop offset="0.45" stop-color="#dfdf37"/><stop offset="0.475" stop-color="#d4e735"/><stop offset="0.5" stop-color="#c8ef34"/><stop offset="0.525" stop-color="#c1f334"/><stop offset="0.55" stop-color="#bcf534"/><stop offset="0.575" stop-color="#b7f735"/><stop offset="0.6" stop-color="#b1f936"/><stop offset="0.625" stop-color="#affa37"/><stop offset="0.65" stop-color="#affa37"/><stop offset="0.675" stop-color="#b1f936"/><stop offset="0.7" stop-color="#b7f735"/><stop offset="0.725" stop-color="#bcf534"/><stop offset="0.75" stop-color="#c3f134"/><stop offset="0.775" stop-color="#c8ef34"/><stop offset="0.8" stop-color="#cdec34"/><stop offset="0.825" stop-color="#d2e935"/><stop offset="0.85" stop-color="#d7e535"/><stop offset="0.875" stop-color="#dbe236"/><stop offset="0.9" stop-color="#dfdf37"/><stop offset="0.925" stop-color="#e3db38"/><stop offset="0.95" stop-color="#e5d938"/><stop offset="0.975" stop-color="#e7d739"/><stop offset="1" stop-color="#e7d739"/></linearGradient>
<linearGradient id="g21"><stop offset="0" stop-color="#b91e02"/><stop offset="0.025" stop-color="#c52603"/><stop offset="0.05" stop-color="#ca2a04"/><stop offset="0.075" stop-color="#ca2a04"/><stop offset="0.1" stop-color="#c32503"/><stop offset="0.125" stop-color="#c32503"/><stop offset="0.15" stop-color="#ca2a04"/><stop offset="0.175" stop-color="#d43305"/><stop offset="0.2" stop-color="#dd3d08"/><stop offset="0.225" stop-color="#e84b0c"/><stop offset="0.25" stop-color="#f15d13"/><stop offset="0.275" stop-color="#f9781e"/><stop offset="0.3" stop-color="#fe9029"/><stop offset="0.325" stop-color="#fea732"/><stop offset="0.35" stop-color="#fbb637"/><stop offset="0.375" stop-color="#f6c33a"/><stop offset="0.4" stop-color="#efcd3a"/><stop offset="0.425" stop-color="#e9d539"/><stop offset="0.45" stop-color="#dfdf37"/><stop offset="0.475" stop-color="#d4e735"/><stop offset="0.5" stop-color="#cbed34"/><stop offset="0.525" stop-color="#c3f134"/><stop offset="0.55" stop-color="#bef434"/><stop offset="0.575" stop-color="#b7f735"/><stop offset="0.6" stop-color="#b4f836"/><stop offset="0.625" stop-color="#affa37"/><stop offset="0.65" stop-color="#affa37"/><stop offset="0.675" stop-color="#b4f836"/><stop offset="0.7" stop-color="#b7f735"/><stop offset="0.725" stop-color="#bef434"/><stop offset="0.75" stop-color="#c3f134"/><stop offset="0.775" stop-color="#c8ef34"/><stop offset="0.8" stop-color="#cdec34"/><stop offset="0.825" stop-color="#d2e935"/><stop offset="0.85" stop-color="#d7e535"/><stop offset="0.875" stop-color="#dbe236"/><stop offset="0.9" stop-color="#dfdf37"/><stop offset="0.925" stop-color="#e3db38"/><stop offset="0.95" stop-color="#e5d938"/><stop offset="0.975" stop-color="#e7d739"/><stop offset="1" stop-color="#e7d739"/></linearGradient>
<linearGradient id="g22"><stop offset="0" stop-color="#be2102"/><stop offset="0.025" stop-color="#ca2a04"/><stop offset="0.05" stop-color="#ce2d04"/><stop offset="0.075" stop-color="#ca2a04"/><stop offset="0.1" stop-color="#c52603"/><stop offset="0.125" stop-color="#c52603"/><stop offset="0.15" stop-color="#ca2a04"/><stop offset="0.175" stop-color="#d43305"/><stop offset="0.2" stop-color="#df3f08"/><stop offset="0.225" stop-color="#e84b0c"/><stop offset="0.25" stop-color="#f26014"/><stop offset="0.275" stop-color="#f9781e"/><stop offset="0.3" stop-color="#fe9029"/><stop offset="0.325" stop-color="#fea732"/><stop offset="0.35" stop-color="#fbb838"/><stop offset="0.375" stop-color="#f5c53a"/><stop offset="0.4" stop-color="#eecf3a"/><stop offset="0.425" stop-color="#e7d739"/><stop offset="0.45" stop-color="#dfdf37"/><stop offset="0.475" stop-color="#d4e735"/><stop offset="0.5" stop-color="#cbed34"/><stop offset="0.525" stop-color="#c3f134"/><stop offset="0.55" stop-color="#bef434"/><stop offset="0.575" stop-color="#b9f635"/><stop offset="0.6" stop-color="#b4f836"/><stop offset="0.625" stop-color="#b1f936"/><stop offset="0.65" stop-color="#b1f936"/><stop offset="0.675" stop-color="#b4f836"/><stop offset="0.7" stop-color="#b9f635"/><stop offset="0.725" stop-color="#bef434"/><stop offset="0.75" stop-color="#c3f134"/><stop offset="0.775" stop-color="#c8ef34"/><stop offset="0.8" stop-color="#cdec34"/><stop offset="0.825" stop-color="#d2e935"/><stop offset="0.85" stop-color="#d7e535"/><stop offset="0.875" stop-color="#dbe236"/><stop offset="0.9" stop-color="#dfdf37"/><stop offset="0.925" stop-color="#e3db38"/><stop offset="0.95" stop-color="#e5d938"/><stop offset="0.975" stop-color="#e7d739"/><stop offset="1" stop-color="#e7d739"/></linearGradient>
<linearGradient id="g23"><stop offset="0" stop-color="#c32503"/><stop offset="0.025" stop-color="#ce2d04"/><stop offset="0.05" stop-color="#d02f05"/><stop offset="0.075" stop-color="#cc2b04"/><stop offset="0.1" stop-color="#c82803"/><stop offset="0.125" stop-color="#c52603"/><stop offset="0.15" stop-color="#cc2b04"/><stop offset="0.175" stop-color="#d63506"/><stop offset="0.2" stop-color="#df3f08"/><stop offset="0.225" stop-color="#e84b0c"/><stop offset="0.25" stop-color="#f26014"/><stop offset="0.275" stop-color="#f9781e"/><stop offset="0.3" stop-color="#fe9029"/><stop offset="0.325" stop-color="#fea732"/><stop offset="0.35" stop-color="#fbb838"/><stop offset="0.375" stop-color="#f5c53a"/><stop offset="0.4" stop-color="#eecf3a"/><stop offset="0.425" stop-color="#e5d938"/><stop offset="0.45" stop-color="#dde037"/><stop offset="0.475" stop-color="#d4e735"/><stop offset="0.5" stop-color="#cdec34"/><stop offset="0.525" stop-color="#c6f034"/><stop offset="0.55" stop-color="#c1f334"/><stop offset="0.575" stop-color="#b9f635"/><stop offset="0.6" stop-color="#b4f836"/><stop offset="0.625" stop-color="#b1f936"/><stop offset="0.65" stop-color="#b1f936"/><stop offset="0.675" stop-color="#b4f836"/><stop offset="0.7" stop-color="#b9f635"/><stop offset="0.725" stop-color="#bef434"/><stop offset="0.75" stop-color="#c6f034"/><stop offset="0.775" stop-color="#cbed34"/><stop offset="0.8" stop-color="#d0ea34"/><stop offset="0.825" stop-color="#d4e735"/><stop offset="0.85" stop-color="#d9e436"/><stop offset="0.875" stop-color="#dde037"/><stop offset="0.9" stop-color="#dfdf37"/><stop offset="0.925" stop-color="#e3db38"/><stop offset="0.95" stop-color="#e5d938"/><stop offset="0.975" stop-color="#e7d739"/><stop offset="1" stop-color="#e7d739"/></linearGradient>
<linearGradient id="g24"><stop offset="0" stop-color="#c82803"/><stop offset="0.025" stop-color="#d02f05"/><stop offset="0.05" stop-color="#d23105"/><stop offset="0.075" stop-color="#ce2d04"/><stop offset="0.1" stop-color="#ca2a04"/><stop offset="0.125" stop-color="#ca2a04"/><stop offset="0.15" stop-color="#ce2d04"/><stop offset="0.175" stop-color="#d63506"/><stop offset="0.2" stop-color="#df3f08"/><stop offset="0.225" stop-color="#ea4e0d"/><stop offset="0.25" stop-color="#f26014"/><stop offset="0.275" stop-color="#f9781e"/><stop offset="0.3" stop-color="#fe9029"/><stop offset="0.325" stop-color="#fea732"/><stop offset="0.35" stop-color="#faba39"/><stop offset="0.375" stop-color="#f4c73a"/><stop offset="0.4" stop-color="#ecd13a"/><stop offset="0.425" stop-color="#e5d938"/><stop offset="0.45" stop-color="#dde037"/><stop offset="0.475" stop-color="#d4e735"/><stop offset="0.5" stop-color="#cdec34"/><stop offset="0.525" stop-color="#c6f034"/><stop offset="0.55" stop-color="#c1f334"/><stop offset="0.575" stop-color="#bcf534"/><stop offset="0.6" stop-color="#b7f735"/><stop offset="0.625" stop-color="#b1f936"/><stop offset="0.65" stop-color="#b1f936"/><stop offset="0.675" stop-color="#b7f735"/><stop offset="0.7" stop-color="#bcf534"/><stop offset="0.725" stop-color="#c1f334"/><stop offset="0.75" stop-color="#c6f034"/><stop offset="0.775" stop-color="#cbed34"/><stop offset="0.8" stop-color="#d0ea34"/><stop offset="0.825" stop-color="#d4e735"/><stop offset="0.85" stop-color="#d9e436"/><stop offset="0.875" stop-color="#dde037"/><stop offset="0.9" stop-color="#e1dd37"/><stop offset="0.925" stop-color="#e3db38"/><stop offset="0.95" stop-color="#e5d938"/><stop offset="0.975" stop-color="#e7d739"/><stop offset="1" stop-color="#e7d739"/></linearGradient>
<linearGradient id="g25"><stop offset="0" stop-color="#cc2b04"/><stop offset="0.025" stop-color="#d43305"/><stop offset="0.05" stop-color="#d43305"/><stop offset="0.075" stop-color="#d02f05"/><stop offset="0.1" stop-color="#cc2b04"/><stop offset="0.125" stop-color="#cc2b04"/><stop offset="0.15" stop-color="#d02f05"/><stop offset="0.175" stop-color="#d83706"/><stop offset="0.2" stop-color="#e14109"/><stop offset="0.225" stop-color="#ea4e0d"/><stop offset="0.25" stop-color="#f26014"/><stop offset="0.275" stop-color="#f9781e"/><stop offset="0.3" stop-color="#fe9029"/><stop offset="0.325" stop-color="#fea732"/><stop offset="0.35" stop-color="#fbb838"/><stop offset="0.375" stop-color="#f4c73a"/><stop offset="0.4" stop-color="#ecd13a"/><stop offset="0.425" stop-color="#e3db38"/><stop offset="0.45" stop-color="#dde037"/><stop offset="0.475" stop-color="#d4e735"/><stop offset="0.5" stop-color="#cdec34"/><stop offset="0.525" stop-color="#c8ef34"/><stop offset="0.55" stop-color="#c1f334"/><stop offset="0.575" stop-color="#bcf534"/><stop offset="0.6" stop-color="#b7f735"/><stop offset="0.625" stop-color="#b4f836"/><stop offset="0.65" stop-color="#b4f836"/><stop offset="0.675" stop-color="#b7f735"/><stop offset="0.7" stop-color="#bcf534"/><stop offset="0.725" stop-color="#c1f334"/><stop offset="0.75" stop-color="#c6f034"/><stop offset="0.775" stop-color="#cbed34"/><stop offset="0.8" stop-color="#d0ea34"/><stop offset="0.825" stop-color="#d4e735"/><stop offset="0.85" stop-color="#d9e436"/><stop offset="0.875" stop-color="#dde037"/><stop offset="0.9" stop-color="#e1dd37"/><stop offset="0.925" stop-color="#e3db38"/><stop offset="0.95" stop-color="#e5d938"/><stop offset="0.975" stop-color="#e7d739"/><stop offset="1" stop-color="#e7d739"/></linearGradient>
<linearGradient id="g26"><stop offset="0" stop-color="#d02f05"/><stop offset="0.025" stop-color="#d63506"/><stop offset="0.05" stop-color="#d63506"/><stop offset="0.075" stop-color="#d23105"/><stop offset="0.1" stop-color="#d02f05"/><stop offset="0.125" stop-color="#ce2d04"/><stop offset="0.15" stop-color="#d23105"/><stop offset="0.175" stop-color="#da3907"/><stop offset="0.2" stop-color="#e2430a"/><stop offset="0.225" stop-color="#eb500e"/><stop offset="0.25" stop-color="#f26014"/><stop offset="0.275" stop-color="#f9781e"/><stop offset="0.3" stop-color="#fd8d27"/><stop offset="0.325" stop-color="#fea431"/><stop offset="0.35" stop-color="#fbb838"/><stop offset="0.375" stop-color="#f4c73a"/><stop offset="0.4" stop-color="#ecd13a"/><stop offset="0.425" stop-color="#e3db38"/><stop offset="0.45" stop-color="#dde037"/><stop offset="0.475" stop-color="#d4e735"/><stop offset="0.5" stop-color="#cdec34"/><stop offset="0.525" stop-color="#c8ef34"/><stop offset="0.55" stop-color="#c3f134"/><stop offset="0.575" stop-color="#bcf534"/><stop offset="0.6" stop-color="#b7f735"/><stop offset="0.625" stop-color="#b4f836"/><stop offset="0.65" stop-color="#b4f836"/><stop offset="0.675" stop-color="#b9f635"/><stop offset="0.7" stop-color="#bef434"/><stop offset="0.725" stop-color="#c3f134"/><stop offset="0.75" stop-color="#c8ef34"/><stop offset="0.775" stop-color="#cdec34"/><stop offset="0.8" stop-color="#d2e935"/><stop offset="0.825" stop-color="#d7e535"/><stop offset="0.85" stop-color="#dbe236"/><stop offset="0.875" stop-color="#dde037"/><stop offset="0.9" stop-color="#e1dd37"/><stop offset="0.925" stop-color="#e3db38"/><stop offset="0.95" stop-color="#e7d739"/><stop offset="0.975" stop-color="#e7d739"/><stop offset="1" stop-color="#e7d739"/></linearGradient>
<linearGradient id="g27"><stop offset="0" stop-color="#d23105"/><stop offset="0.025" stop-color="#d63506"/><stop offset="0.05" stop-color="#d63506"/><stop offset="0.075" stop-color="#d43305"/><stop offset="0.1" stop-color="#d23105"/><stop offset="0.125" stop-color="#d02f05"/><stop offset="0.15" stop-color="#d43305"/><stop offset="0.175" stop-color="#dc3b07"/><stop offset="0.2" stop-color="#e2430a"/><stop offset="0.225" stop-color="#eb500e"/><stop offset="0.25" stop-color="#f26014"/><stop offset="0.275" stop-color="#f9751d"/><stop offset="0.3" stop-color="#fd8a26"/><stop offset="0.325" stop-color="#fea130"/><stop offset="0.35" stop-color="#fbb637"/><stop offset="0.375" stop-color="#f5c53a"/><stop offset="0.4" stop-color="#ecd13a"/><stop offset="0.425" stop-color="#e5d938"/><stop offset="0.45" stop-color="#dde037"/><stop offset="0.475" stop-color="#d4e735"/><stop offset="0.5" stop-color="#cdec34"/><stop offset="0.525" stop-color="#c8ef34"/><stop offset="0.55" stop-color="#c3f134"/><stop offset="0.575" stop-color="#bef434"/><stop offset="0.6" stop-color="#b9f635"/><stop offset="0.625" stop-color="#b7f735"/><stop offset="0.65" stop-color="#b7f735"/><stop offset="0.675" stop-color="#b9f635"/><stop offset="0.7" stop-color="#bef434"/><stop offset="0.725" stop-color="#c3f134"/><stop offset="0.75" stop-color="#c8ef34"/><stop offset="0.775" stop-color="#d0ea34"/><stop offset="0.8" stop-color="#d4e735"/><stop offset="0.825" stop-color="#d7e535"/><stop offset="0.85" stop-color="#dbe236"/><stop offset="0.875" stop-color="#dfdf37"/><stop offset="0.9" stop-color="#e1dd37"/><stop offset="0.925" stop-color="#e5d938"/><stop offset="0.95" stop-color="#e7d739"/><stop offset="0.975" stop-color="#e7d739"/><stop offset="1" stop-color="#e5d938"/></linearGradient>
<linearGradient id="g28"><stop offset="0" stop-color="#d43305"/><stop offset="0.025" stop-color="#d83706"/><stop offset="0.05" stop-color="#d63506"/><stop offset="0.075" stop-color="#d63506"/><stop offset="0.1" stop-color="#d43305"/><stop offset="0.125" stop-color="#d43305"/><stop offset="0.15" stop-color="#d63506"/><stop offset="0.175" stop-color="#dc3b07"/><stop offset="0.2" stop-color="#e4450a"/><stop offset="0.225" stop-color="#eb500e"/><stop offset="0.25" stop-color="#f36315"/><stop offset="0.275" stop-color="#f9751d"/><stop offset="0.3" stop-color="#fc8725"/><stop offset="0.325" stop-color="#fe9e2f"/><stop offset="0.35" stop-color="#fcb336"/><stop offset="0.375" stop-color="#f6c33a"/><stop offset="0.4" stop-color="#eecf3a"/><stop offset="0.425" stop-color="#e5d938"/><stop offset="0.45" stop-color="#dde037"/><stop offset="0.475" stop-color="#d4e735"/><stop offset="0.5" stop-color="#cdec34"/><stop offset="0.525" stop-color="#c8ef34"/><stop offset="0.55" stop-color="#c3f134"/><stop offset="0.575" stop-color="#bef434"/><stop offset="0.6" stop-color="#b9f635"/><stop offset="0.625" stop-color="#b7f735"/><stop offset="0.65" stop-color="#b9f635"/><stop offset="0.675" stop-color="#bcf534"/><stop offset="0.7" stop-color="#c1f334"/><stop offset="0.725" stop-color="#c6f034"/><stop offset="0.75" stop-color="#cbed34"/><stop offset="0.775" stop-color="#d0ea34"/><stop offset="0.8" stop-color="#d4e735"/><stop offset="0.825" stop-color="#d9e436"/><stop offset="0.85" stop-color="#dbe236"/><stop offset="0.875" stop-color="#dfdf37"/><stop offset="0.9" stop-color="#e1dd37"/><stop offset="0.925" stop-color="#e5d938"/><stop offset="0.95" stop-color="#e7d739"/><stop offset="0.975" stop-color="#e7d739"/><stop offset="1" stop-color="#e5d938"/></linearGradient>
<linearGradient id="g29"><stop offset="0" stop-color="#d63506"/><stop offset="0.025" stop-color="#d83706"/><stop offset="0.05" stop-color="#d83706"/><stop offset="0.075" stop-color="#d63506"/><stop offset="0.1" stop-color="#d43305"/><stop offset="0.125" stop-color="#d63506"/><stop offset="0.15" stop-color="#d83706"/><stop offset="0.175" stop-color="#dd3d08"/><stop offset="0.2" stop-color="#e5470b"/><stop offset="0.225" stop-color="#ec530f"/><stop offset="0.25" stop-color="#f36315"/><stop offset="0.275" stop-color="#f8721c"/><stop offset="0.3" stop-color="#fc8423"/><stop offset="0.325" stop-color="#fe992c"/><stop offset="0.35" stop-color="#fdae35"/><stop offset="0.375" stop-color="#f7c13a"/><stop offset="0.4" stop-color="#efcd3a"/><stop offset="0.425" stop-color="#e5d938"/><stop offset="0.45" stop-color="#dbe236"/><stop offset="0.475" stop-color="#d2e935"/><stop offset="0.5" stop-color="#cbed34"/><stop offset="0.525" stop-color="#c6f034"/><stop offset="0.55" stop-color="#c3f134"/><stop offset="0.575" stop-color="#bef434"/><stop offset="0.6" stop-color="#bcf534"/><stop offset="0.625" stop-color="#b9f635"/><stop offset="0.65" stop-color="#b9f635"/><stop offset="0.675" stop-color="#bef434"/><stop offset="0.7" stop-color="#c3f134"/><stop offset="0.725" stop-color="#c8ef34"/><stop offset="0.75" stop-color="#cdec34"/><stop offset="0.775" stop-color="#d2e935"/><stop offset="0.8" stop-color="#d7e535"/><stop offset="0.825" stop-color="#dbe236"/><stop offset="0.85" stop-color="#dde037"/><stop offset="0.875" stop-color="#dfdf37"/><stop offset="0.9" stop-color="#e3db38"/><stop offset="0.925" stop-color="#e5d938"/><stop offset="0.95" stop-color="#e5d938"/><stop offset="0.975" stop-color="#e7d739"/><stop offset="1" stop-color="#e5d938"/></linearGradient>
<linearGradient id="g30"><stop offset="0" stop-color="#d83706"/><stop offset="0.025" stop-color="#d83706"/><stop offset="0.05" stop-color="#d83706"/><stop offset="0.075" stop-color="#d63506"/><stop offset="0.1" stop-color="#d63506"/><stop offset="0.125" stop-color="#d83706"/><stop offset="0.15" stop-color="#dc3b07"/><stop offset="0.175" stop-color="#df3f08"/><stop offset="0.2" stop-color="#e5470b"/><stop offset="0.225" stop-color="#ec530f"/><stop offset="0.25" stop-color="#f36315"/><stop offset="0.275" stop-color="#f8721c"/><stop offset="0.3" stop-color="#fb8122"/><stop offset="0.325" stop-color="#fe962b"/><stop offset="0.35" stop-color="#fdac34"/><stop offset="0.375" stop-color="#f8be39"/><stop offset="0.4" stop-color="#efcd3a"/><stop offset="0.425" stop-color="#e5d938"/><stop offset="0.45" stop-color="#dbe236"/><stop offset="0.475" stop-color="#d2e935"/><stop offset="0.5" stop-color="#cbed34"/><stop offset="0.525" stop-color="#c6f034"/><stop offset="0.55" stop-color="#c3f134"/><stop offset="0.575" stop-color="#bef434"/><stop offset="0.6" stop-color="#bcf534"/><stop offset="0.625" stop-color="#bcf534"/><stop offset="0.65" stop-color="#bcf534"/><stop offset="0.675" stop-color="#c1f334"/><stop offset="0.7" stop-color="#c6f034"/><stop offset="0.725" stop-color="#cbed34"/><stop offset="0.75" stop-color="#d0ea34"/><stop offset="0.775" stop-color="#d4e735"/><stop offset="0.8" stop-color="#d9e436"/><stop offset="0.825" stop-color="#dbe236"/><stop offset="0.85" stop-color="#dde037"/><stop offset="0.875" stop-color="#dfdf37"/><stop offset="0.9" stop-color="#e3db38"/><stop offset="0.925" stop-color="#e5d938"/><stop offset="0.95" stop-color="#e5d938"/><stop offset="0.975" stop-color="#e5d938"/><stop offset="1" stop-color="#e3db38"/></linearGradient>
<linearGradient id="g31"><stop offset="0" stop-color="#d83706"/><stop offset="0.025" stop-color="#d83706"/><stop offset="0.05" stop-color="#d83706"/><stop offset="0.075" stop-color="#d83706"/><stop offset="0.1" stop-color="#d83706"/><stop offset="0.125" stop-color="#da3907"/><stop offset="0.15" stop-color="#dd3d08"/><stop offset="0.175" stop-color="#e14109"/><stop offset="0.2" stop-color="#e7490c"/><stop offset="0.225" stop-color="#ed5510"/><stop offset="0.25" stop-color="#f36315"/><stop offset="0.275" stop-color="#f76f1a"/><stop offset="0.3" stop-color="#fb8122"/><stop offset="0.325" stop-color="#fe932a"/><stop offset="0.35" stop-color="#fea933"/><stop offset="0.375" stop-color="#f9bc39"/><stop offset="0.4" stop-color="#f1cb3a"/><stop offset="0.425" stop-color="#e5d938"/><stop offset="0.45" stop-color="#dbe236"/><stop offset="0.475" stop-color="#d0ea34"/><stop offset="0.5" stop-color="#c8ef34"/><stop offset="0.525" stop-color="#c3f134"/><stop offset="0.55" stop-color="#c1f334"/><stop offset="0.575" stop-color="#bef434"/><stop offset="0.6" stop-color="#bef434"/><stop offset="0.625" stop-color="#bcf534"/><stop offset="0.65" stop-color="#bef434"/><stop offset="0.675" stop-color="#c1f334"/><stop offset="0.7" stop-color="#c6f034"/><stop offset="0.725" stop-color="#cbed34"/><stop offset="0.75" stop-color="#d0ea34"/><stop offset="0.775" stop-color="#d4e735"/><stop offset="0.8" stop-color="#d9e436"/><stop offset="0.825" stop-color="#dde037"/><stop offset="0.85" stop-color="#dfdf37"/><stop offset="0.875" stop-color="#e1dd37"/><stop offset="0.9" stop-color="#e3db38"/><stop offset="0.925" stop-color="#e5d938"/><stop offset="0.95" stop-color="#e5d938"/><stop offset="0.975" stop-color="#e5d938"/><stop offset="1" stop-color="#e3db38"/></linearGradient>
<linearGradient id="g32"><stop offset="0" stop-color="#d83706"/><stop offset="0.025" stop-color="#d83706"/><stop offset="0.05" stop-color="#d83706"/><stop offset="0.075" stop-color="#d83706"/><stop offset="0.1" stop-color="#da3907"/><stop offset="0.125" stop-color="#dc3b07"/><stop offset="0.15" stop-color="#df3f08"/><stop offset="0.175" stop-color="#e4450a"/><stop offset="0.2" stop-color="#e84b0c"/><stop offset="0.225" stop-color="#ef5811"/><stop offset="0.25" stop-color="#f36315"/><stop offset="0.275" stop-color="#f76f1a"/><stop offset="0.3" stop-color="#fb7e21"/><stop offset="0.325" stop-color="#fe9029"/><stop offset="0.35" stop-color="#fea732"/><stop offset="0.375" stop-color="#faba39"/><stop offset="0.4" stop-color="#f1cb3a"/><stop offset="0.425" stop-color="#e5d938"/><stop offset="0.45" stop-color="#d9e436"/><stop offset="0.475" stop-color="#cdec34"/><stop offset="0.5" stop-color="#c6f034"/><stop offset="0.525" stop-color="#c3f134"/><stop offset="0.55" stop-color="#c1f334"/><stop offset="0.575" stop-color="#c1f334"/><stop offset="0.6" stop-color="#bef434"/><stop offset="0.625" stop-color="#bef434"/><stop offset="0.65" stop-color="#c1f334"/><stop offset="0.675" stop-color="#c3f134"/><stop offset="0.7" stop-color="#c8ef34"/><stop offset="0.725" stop-color="#cdec34"/><stop offset="0.75" stop-color="#d2e935"/><stop offset="0.775" stop-color="#d7e535"/><stop offset="0.8" stop-color="#dbe236"/><stop offset="0.825" stop-color="#dde037"/><stop offset="0.85" stop-color="#dfdf37"/><stop offset="0.875" stop-color="#e1dd37"/><stop offset="0.9" stop-color="#e3db38"/><stop offset="0.925" stop-color="#e5d938"/><stop offset="0.95" stop-color="#e5d938"/><stop offset="0.975" stop-color="#e5d938"/><stop offset="1" stop-color="#e3db38"/></linearGradient>
<linearGradient id="g33"><stop offset="0" stop-color="#da3907"/><stop offset="0.025" stop-color="#d83706"/><stop offset="0.05" stop-color="#d83706"/><stop offset="0.075" stop-color="#d83706"/><stop offset="0.1" stop-color="#da3907"/><stop offset="0.125" stop-color="#dd3d08"/><stop offset="0.15" stop-color="#e14109"/><stop offset="0.175" stop-color="#e5470b"/><stop offset="0.2" stop-color="#ea4e0d"/><stop offset="0.225" stop-color="#ef5811"/><stop offset="0.25" stop-color="#f36315"/><stop offset="0.275" stop-color="#f76f1a"/><stop offset="0.3" stop-color="#fb7e21"/><stop offset="0.325" stop-color="#fe9029"/><stop offset="0.35" stop-color="#fea431"/><stop offset="0.375" stop-color="#faba39"/><stop offset="0.4" stop-color="#efcd3a"/><stop offset="0.425" stop-color="#e3db38"/><stop offset="0.45" stop-color="#d7e535"/><stop offset="0.475" stop-color="#cbed34"/><stop offset="0.5" stop-color="#c3f134"/><stop offset="0.525" stop-color="#c1f334"/><stop offset="0.55" stop-color="#c1f334"/><stop offset="0.575" stop-color="#c1f334"/><stop offset="0.6" stop-color="#c1f334"/><stop offset="0.625" stop-color="#c1f334"/><stop offset="0.65" stop-color="#c1f334"/><stop offset="0.675" stop-color="#c6f034"/><stop offset="0.7" stop-color="#cbed34"/><stop offset="0.725" stop-color="#d0ea34"/><stop offset="0.75" stop-color="#d4e735"/><stop offset="0.775" stop-color="#d9e436"/><stop offset="0.8" stop-color="#dde037"/><stop offset="0.825" stop-color="#dfdf37"/><stop offset="0.85" stop-color="#e1dd37"/><stop offset="0.875" stop-color="#e3db38"/><stop offset="0.9" stop-color="#e3db38"/><stop offset="0.925" stop-color="#e5d938"/><stop offset="0.95" stop-color="#e5d938"/><stop offset="0.975" stop-color="#e3db38"/><stop offset="1" stop-color="#e1dd37"/></linearGradient>
<linearGradient id="g34"><stop offset="0" stop-color="#da3907"/><stop offset="0.025" stop-color="#d83706"/><stop offset="0.05" stop-color="#d83706"/><stop offset="0.075" stop-color="#da3907"/><stop offset="0.1" stop-color="#dc3b07"/><stop offset="0.125" stop-color="#df3f08"/><stop offset="0.15" stop-color="#e2430a"/><stop offset="0.175" stop-color="#e7490c"/><stop offset="0.2" stop-color="#eb500e"/><stop offset="0.225" stop-color="#f05b12"/><stop offset="0.25" stop-color="#f36315"/><stop offset="0.275" stop-color="#f76f1a"/><stop offset="0.3" stop-color="#fb7e21"/><stop offset="0.325" stop-color="#fe9029"/><stop offset="0.35" stop-color="#fea431"/><stop offset="0.375" stop-color="#faba39"/><stop offset="0.4" stop-color="#efcd3a"/><stop offset="0.425" stop-color="#dfdf37"/><stop offset="0.45" stop-color="#d2e935"/><stop offset="0.475" stop-color="#c8ef34"/><stop offset="0.5" stop-color="#c3f134"/><stop offset="0.525" stop-color="#c1f334"/><stop offset="0.55" stop-color="#c1f334"/><stop offset="0.575" stop-color="#c1f334"/><stop offset="0.6" stop-color="#c1f334"/><stop offset="0.625" stop-color="#c1f334"/><stop offset="0.65" stop-color="#c3f134"/><stop offset="0.675" stop-color="#c8ef34"/><stop offset="0.7" stop-color="#cdec34"/><stop offset="0.725" stop-color="#d2e935"/><stop offset="0.75" stop-color="#d7e535"/><stop offset="0.775" stop-color="#dbe236"/><stop offset="0.8" stop-color="#dde037"/><stop offset="0.825" stop-color="#dfdf37"/><stop offset="0.85" stop-color="#e1dd37"/><stop offset="0.875" stop-color="#e3db38"/><stop offset="0.9" stop-color="#e3db38"/><stop offset="0.925" stop-color="#e5d938"/><stop offset="0.95" stop-color="#e5d938"/><stop offset="0.975" stop-color="#e3db38"/><stop offset="1" stop-color="#e1dd37"/></linearGradient>
<linearGradient id="g35"><stop offset="0" stop-color="#da3907"/><stop offset="0.025" stop-color="#d83706"/><stop offset="0.05" stop-color="#d83706"/><stop offset="0.075" stop-color="#da3907"/><stop offset="0.1" stop-color="#dd3d08"/><stop offset="0.125" stop-color="#e14109"/><stop offset="0.15" stop-color="#e4450a"/><stop offset="0.175" stop-color="#e84b0c"/><stop offset="0.2" stop-color="#ec530f"/><stop offset="0.225" stop-color="#f05b12"/><stop offset="0.25" stop-color="#f46617"/><stop offset="0.275" stop-color="#f76f1a"/><stop offset="0.3" stop-color="#fb7e21"/><stop offset="0.325" stop-color="#fe9029"/><stop offset="0.35" stop-color="#fea732"/><stop offset="0.375" stop-color="#f9bc39"/><stop offset="0.4" stop-color="#eecf3a"/><stop offset="0.425" stop-color="#dde037"/><stop offset="0.45" stop-color="#cdec34"/><stop offset="0.475" stop-color="#c3f134"/><stop offset="0.5" stop-color="#c1f334"/><stop offset="0.525" stop-color="#c1f334"/><stop offset="0.55" stop-color="#c1f334"/><stop offset="0.575" stop-color="#c3f134"/><stop offset="0.6" stop-color="#c3f134"/><stop offset="0.625" stop-color="#c3f134"/><stop offset="0.65" stop-color="#c6f034"/><stop offset="0.675" stop-color="#c8ef34"/><stop offset="0.7" stop-color="#cdec34"/><stop offset="0.725" stop-color="#d2e935"/><stop offset="0.75" stop-color="#d9e436"/><stop offset="0.775" stop-color="#dbe236"/><stop offset="0.8" stop-color="#dfdf37"/><stop offset="0.825" stop-color="#e1dd37"/><stop offset="0.85" stop-color="#e3db38"/><stop offset="0.875" stop-color="#e3db38"/><stop offset="0.9" stop-color="#e5d938"/><stop offset="0.925" stop-color="#e5d938"/><stop offset="0.95" stop-color="#e3db38"/><stop offset="0.975" stop-color="#e3db38"/><stop offset="1" stop-color="#dfdf37"/></linearGradient>
<linearGradient id="g36"><stop offset="0" stop-color="#da3907"/><stop offset="0.025" stop-color="#d83706"/><stop offset="0.05" stop-color="#d83706"/><stop offset="0.075" stop-color="#dc3b07"/><stop offset="0.1" stop-color="#df3f08"/><stop offset="0.125" stop-color="#e2430a"/><stop offset="0.15" stop-color="#e5470b"/><stop offset="0.175" stop-color="#ea4e0d"/><stop offset="0.2" stop-color="#ed5510"/><stop offset="0.225" stop-color="#f15d13"/><stop offset="0.25" stop-color="#f46617"/><stop offset="0.275" stop-color="#f8721c"/><stop offset="0.3" stop-color="#fb7e21"/><stop offset="0.325" stop-color="#fe9029"/><stop offset="0.35" stop-color="#fea732"/><stop offset="0.375" stop-color="#f9bc39"/><stop offset="0.4" stop-color="#ecd13a"/><stop offset="0.425" stop-color="#dbe236"/><stop offset="0.45" stop-color="#cbed34"/><stop offset="0.475" stop-color="#c1f334"/><stop offset="0.5" stop-color="#bef434"/><stop offset="0.525" stop-color="#bef434"/><stop offset="0.55" stop-color="#c1f334"/><stop offset="0.575" stop-color="#c3f134"/><stop offset="0.6" stop-color="#c3f134"/><stop offset="0.625" stop-color="#c6f034"/><stop offset="0.65" stop-color="#c8ef34"/><stop offset="0.675" stop-color="#cbed34"/><stop offset="0.7" stop-color="#d0ea34"/><stop offset="0.725" stop-color="#d4e735"/><stop offset="0.75" stop-color="#d9e436"/><stop offset="0.775" stop-color="#dde037"/><stop offset="0.8" stop-color="#dfdf37"/><stop offset="0.825" stop-color="#e1dd37"/><stop offset="0.85" stop-color="#e3db38"/><stop offset="0.875" stop-color="#e5d938"/><stop offset="0.9" stop-color="#e5d938"/><stop offset="0.925" stop-color="#e5d938"/><stop offset="0.95" stop-color="#e3db38"/><stop offset="0.975" stop-color="#e1dd37"/><stop offset="1" stop-color="#dfdf37"/></linearGradient>
<linearGradient id="g37"><stop offset="0" stop-color="#d83706"/><stop offset="0.025" stop-color="#d83706"/><stop offset="0.05" stop-color="#da3907"/><stop offset="0.075" stop-color="#dc3b07"/><stop offset="0.1" stop-color="#df3f08"/><stop offset="0.125" stop-color="#e4450a"/><stop offset="0.15" stop-color="#e7490c"/><stop offset="0.175" stop-color="#eb500e"/><stop offset="0.2" stop-color="#ef5811"/><stop offset="0.225" stop-color="#f15d13"/><stop offset="0.25" stop-color="#f46617"/><stop offset="0.275" stop-color="#f8721c"/><stop offset="0.3" stop-color="#fb7e21"/><stop offset="0.325" stop-color="#fe932a"/><stop offset="0.35" stop-color="#fea933"/><stop offset="0.375" stop-color="#f8be39"/><stop offset="0.4" stop-color="#ebd339"/><stop offset="0.425" stop-color="#d7e535"/><stop offset="0.45" stop-color="#c8ef34"/><stop offset="0.475" stop-color="#bef434"/><stop offset="0.5" stop-color="#bcf534"/><stop offset="0.525" stop-color="#bef434"/><stop offset="0.55" stop-color="#c1f334"/><stop offset="0.575" stop-color="#c3f134"/><stop offset="0.6" stop-color="#c6f034"/><stop offset="0.625" stop-color="#c6f034"/><stop offset="0.65" stop-color="#c8ef34"/><stop offset="0.675" stop-color="#cdec34"/><stop offset="0.7" stop-color="#d2e935"/><stop offset="0.725" stop-color="#d7e535"/><stop offset="0.75" stop-color="#dbe236"/><stop offset="0.775" stop-color="#dfdf37"/><stop offset="0.8" stop-color="#e1dd37"/><stop offset="0.825" stop-color="#e3db38"/><stop offset="0.85" stop-color="#e3db38"/><stop offset="0.875" stop-color="#e5d938"/><stop offset="0.9" stop-color="#e5d938"/><stop offset="0.925" stop-color="#e3db38"/><stop offset="0.95" stop-color="#e3db38"/><stop offset="0.975" stop-color="#e1dd37"/><stop offset="1" stop-color="#dde037"/></linearGradient>
<linearGradient id="g38"><stop offset="0" stop-color="#d83706"/><stop offset="0.025" stop-color="#d83706"/><stop offset="0.05" stop-color="#da3907"/><stop offset="0.075" stop-color="#dd3d08"/><stop offset="0.1" stop-color="#e14109"/><stop offset="0.125" stop-color="#e4450a"/><stop offset="0.15" stop-color="#e84b0c"/><stop offset="0.175" stop-color="#eb500e"/><stop offset="0.2" stop-color="#ef5811"/><stop offset="0.225" stop-color="#f26014"/><stop offset="0.25" stop-color="#f56918"/><stop offset="0.275" stop-color="#f8721c"/><stop offset="0.3" stop-color="#fb8122"/><stop offset="0.325" stop-color="#fe932a"/><stop offset="0.35" stop-color="#fea933"/><stop offset="0.375" stop-color="#f7c13a"/><stop offset="0.4" stop-color="#e9d539"/><stop offset="0.425" stop-color="#d4e735"/><stop offset="0.45" stop-color="#c6f034"/><stop offset="0.475" stop-color="#bef434"/><stop offset="0.5" stop-color="#bcf534"/><stop offset="0.525" stop-color="#bef434"/><stop offset="0.55" stop-color="#c3f134"/><stop offset="0.575" stop-color="#c6f034"/><stop offset="0.6" stop-color="#c6f034"/><stop offset="0.625" stop-color="#c8ef34"/><stop offset="0.65" stop-color="#cbed34"/><stop offset="0.675" stop-color="#cdec34"/><stop offset="0.7" stop-color="#d2e935"/><stop offset="0.725" stop-color="#d9e436"/><stop offset="0.75" stop-color="#dde037"/><stop offset="0.775" stop-color="#dfdf37"/><stop offset="0.8" stop-color="#e1dd37"/><stop offset="0.825" stop-color="#e3db38"/><stop offset="0.85" stop-color="#e5d938"/><stop offset="0.875" stop-color="#e5d938"/><stop offset="0.9" stop-color="#e5d938"/><stop offset="0.925" stop-color="#e3db38"/><stop offset="0.95" stop-color="#e1dd37"/><stop offset="0.975" stop-color="#dfdf37"/><stop offset="1" stop-color="#dde037"/></linearGradient>
<linearGradient id="g39"><stop offset="0" stop-color="#d83706"/><stop offset="0.025" stop-color="#d83706"/><stop offset="0.05" stop-color="#da3907"/><stop offset="0.075" stop-color="#dd3d08"/><stop offset="0.1" stop-color="#e14109"/><stop offset="0.125" stop-color="#e5470b"/><stop offset="0.15" stop-color="#e84b0c"/><stop offset="0.175" stop-color="#ec530f"/><stop offset="0.2" stop-color="#ef5811"/><stop offset="0.225" stop-color="#f26014"/><stop offset="0.25" stop-color="#f56918"/><stop offset="0.275" stop-color="#f9751d"/><stop offset="0.3" stop-color="#fb8122"/><stop offset="0.325" stop-color="#fe962b"/><stop offset="0.35" stop-color="#fdac34"/><stop offset="0.375" stop-color="#f7c13a"/><stop offset="0.4" stop-color="#e7d739"/><stop offset="0.425" stop-color="#d4e735"/><stop offset="0.45" stop-color="#c3f134"/><stop offset="0.475" stop-color="#bcf534"/><stop offset="0.5" stop-color="#bcf534"/><stop offset="0.525" stop-color="#bef434"/><stop offset="0.55" stop-color="#c3f134"/><stop offset="0.575" stop-color="#c6f034"/><stop offset="0.6" stop-color="#c6f034"/><stop offset="0.625" stop-color="#c8ef34"/><stop offset="0.65" stop-color="#cbed34"/><stop offset="0.675" stop-color="#d0ea34"/><stop offset="0.7" stop-color="#d4e735"/><stop offset="0.725" stop-color="#d9e436"/><stop offset="0.75" stop-color="#dde037"/><stop offset="0.775" stop-color="#e1dd37"/><stop offset="0.8" stop-color="#e3db38"/><stop offset="0.825" stop-color="#e3db38"/><stop offset="0.85" stop-color="#e5d938"/><stop offset="0.875" stop-color="#e5d938"/><stop offset="0.9" stop-color="#e5d938"/><stop offset="0.925" stop-color="#e3db38"/><stop offset="0.95" stop-color="#e1dd37"/><stop offset="0.975" stop-color="#dde037"/><stop offset="1" stop-color="#dbe236"/></linearGradient>
<linearGradient id="g40"><stop offset="0" stop-color="#d83706"/><stop offset="0.025" stop-color="#d83706"/><stop offset="0.05" stop-color="#da3907"/><stop offset="0.075" stop-color="#dd3d08"/><stop offset="0.1" stop-color="#e2430a"/><stop offset="0.125" stop-color="#e5470b"/><stop offset="0.15" stop-color="#ea4e0d"/><stop offset="0.175" stop-color="#ec530f"/><stop offset="0.2" stop-color="#f05b12"/><stop offset="0.225" stop-color="#f36315"/><stop offset="0.25" stop-color="#f66c19"/><stop offset="0.275" stop-color="#f9751d"/><stop offset="0.3" stop-color="#fc8423"/><stop offset="0.325" stop-color="#fe962b"/><stop offset="0.35" stop-color="#fdae35"/><stop offset="0.375" stop-color="#f6c33a"/><stop offset="0.4" stop-color="#e7d739"/><stop offset="0.425" stop-color="#d2e935"/><stop offset="0.45" stop-color="#c3f134"/><stop offset="0.475" stop-color="#bef434"/><stop offset="0.5" stop-color="#bcf534"/><stop offset="0.525" stop-color="#c1f334"/><stop offset="0.55" stop-color="#c3f134"/><stop offset="0.575" stop-color="#c6f034"/><stop offset="0.6" stop-color="#c8ef34"/><stop offset="0.625" stop-color="#c8ef34"/><stop offset="0.65" stop-color="#cdec34"/><stop offset="0.675" stop-color="#d2e935"/><stop offset="0.7" stop-color="#d7e535"/><stop offset="0.725" stop-color="#dbe236"/><stop offset="0.75" stop-color="#dfdf37"/><stop offset="0.775" stop-color="#e1dd37"/><stop offset="0.8" stop-color="#e3db38"/><stop offset="0.825" stop-color="#e5d938"/><stop offset="0.85" stop-color="#e5d938"/><stop offset="0.875" stop-color="#e5d938"/><stop offset="0.9" stop-color="#e5d938"/><stop offset="0.925" stop-color="#e3db38"/><stop offset="0.95" stop-color="#dfdf37"/><stop offset="0.975" stop-color="#dde037"/><stop offset="1" stop-color="#d9e436"/></linearGradient>
<linearGradient id="g41"><stop offset="0" stop-color="#d83706"/><stop offset="0.025" stop-color="#d83706"/><stop offset="0.05" stop-color="#da3907"/><stop offset="0.075" stop-color="#dd3d08"/><stop offset="0.1" stop-color="#e2430a"/><stop offset="0.125" stop-color="#e7490c"/><stop offset="0.15" stop-color="#ea4e0d"/><stop offset="0.175" stop-color="#ec530f"/><stop offset="0.2" stop-color="#f05b12"/><stop offset="0.225" stop-color="#f36315"/><stop offset="0.25" stop-color="#f66c19"/><stop offset="0.275" stop-color="#f9781e"/><stop offset="0.3" stop-color="#fc8725"/><stop offset="0.325" stop-color="#fe992c"/><stop offset="0.35" stop-color="#fdae35"/><stop offset="0.375" stop-color="#f5c53a"/><stop offset="0.4" stop-color="#e5d938"/><stop offset="0.425" stop-color="#d4e735"/><stop offset="0.45" stop-color="#c6f034"/><stop offset="0.475" stop-color="#bef434"/><stop offset="0.5" stop-color="#bef434"/><stop offset="0.525" stop-color="#c1f334"/><stop offset="0.55" stop-color="#c6f034"/><stop offset="0.575" stop-color="#c8ef34"/><stop offset="0.6" stop-color="#c8ef34"/><stop offset="0.625" stop-color="#cbed34"/><stop offset="0.65" stop-color="#cdec34"/><stop offset="0.675" stop-color="#d2e935"/><stop offset="0.7" stop-color="#d7e535"/><stop offset="0.725" stop-color="#dbe236"/><stop offset="0.75" stop-color="#dfdf37"/><stop offset="0.775" stop-color="#e3db38"/><stop offset="0.8" stop-color="#e3db38"/><stop offset="0.825" stop-color="#e5d938"/><stop offset="0.85" stop-color="#e5d938"/><stop offset="0.875" stop-color="#e5d938"/><stop offset="0.9" stop-color="#e5d938"/><stop offset="0.925" stop-color="#e1dd37"/><stop offset="0.95" stop-color="#dfdf37"/><stop offset="0.975" stop-color="#dbe236"/><stop offset="1" stop-color="#d7e535"/></linearGradient>
<linearGradient id="g42"><stop offset="0" stop-color="#d83706"/><stop offset="0.025" stop-color="#d83706"/><stop offset="0.05" stop-color="#da3907"/><stop offset="0.075" stop-color="#df3f08"/><stop offset="0.1" stop-color="#e2430a"/><stop offset="0.125" stop-color="#e7490c"/><stop offset="0.15" stop-color="#ea4e0d"/><stop offset="0.175" stop-color="#ec530f"/><stop offset="0.2" stop-color="#f05b12"/><stop offset="0.225" stop-color="#f36315"/><stop offset="0.25" stop-color="#f76f1a"/><stop offset="0.275" stop-color="#fa7b1f"/><stop offset="0.3" stop-color="#fc8725"/><stop offset="0.325" stop-color="#fe9b2d"/><stop offset="0.35" stop-color="#fcb136"/><stop offset="0.375" stop-color="#f5c53a"/><stop offset="0.4" stop-color="#e5d938"/><stop offset="0.425" stop-color="#d4e735"/><stop offset="0.45" stop-color="#c6f034"/><stop offset="0.475" stop-color="#c1f334"/><stop offset="0.5" stop-color="#c1f334"/><stop offset="0.525" stop-color="#c3f134"/><stop offset="0.55" stop-color="#c6f034"/><stop offset="0.575" stop-color="#c8ef34"/><stop offset="0.6" stop-color="#c8ef34"/><stop offset="0.625" stop-color="#cbed34"/><stop offset="0.65" stop-color="#cdec34"/><stop offset="0.675" stop-color="#d2e935"/><stop offset="0.7" stop-color="#d9e436"/><stop offset="0.725" stop-color="#dde037"/><stop offset="0.75" stop-color="#e1dd37"/><stop offset="0.775" stop-color="#e3db38"/><stop offset="0.8" stop-color="#e5d938"/><stop offset="0.825" stop-color="#e5d938"/><stop offset="0.85" stop-color="#e5d938"/><stop offset="0.875" stop-color="#e5d938"/><stop offset="0.9" stop-color="#e3db38"/><stop offset="0.925" stop-color="#e1dd37"/><stop offset="0.95" stop-color="#dde037"/><stop offset="0.975" stop-color="#d9e436"/><stop offset="1" stop-color="#d4e735"/></linearGradient>
<linearGradient id="g43"><stop offset="0" stop-color="#d83706"/><stop offset="0.025" stop-color="#d83706"/><stop offset="0.05" stop-color="#dc3b07"/><stop offset="0.075" stop-color="#df3f08"/><stop offset="0.1" stop-color="#e4450a"/><stop offset="0.125" stop-color="#e7490c"/><stop offset="0.15" stop-color="#ea4e0d"/><stop offset="0.175" stop-color="#ec530f"/><stop offset="0.2" stop-color="#f05b12"/><stop offset="0.225" stop-color="#f36315"/><stop offset="0.25" stop-color="#f76f1a"/><stop offset="0.275" stop-color="#fa7b1f"/><stop offset="0.3" stop-color="#fd8a26"/><stop offset="0.325" stop-color="#fe9e2f"/><stop offset="0.35" stop-color="#fcb336"/><stop offset="0.375" stop-color="#f4c73a"/><stop offset="0.4" stop-color="#e5d938"/><stop offset="0.425" stop-color="#d4e735"/><stop offset="0.45" stop-color="#c8ef34"/><stop offset="0.475" stop-color="#c3f134"/><stop offset="0.5" stop-color="#c1f334"/><stop offset="0.525" stop-color="#c3f134"/><stop offset="0.55" stop-color="#c6f034"/><stop offset="0.575" stop-color="#c8ef34"/><stop offset="0.6" stop-color="#c8ef34"/><stop offset="0.625" stop-color="#cbed34"/><stop offset="0.65" stop-color="#d0ea34"/><stop offset="0.675" stop-color="#d4e735"/><stop offset="0.7" stop-color="#d9e436"/><stop offset="0.725" stop-color="#dfdf37"/><stop offset="0.75" stop-color="#e1dd37"/><stop offset="0.775" stop-color="#e3db38"/><stop offset="0.8" stop-color="#e5d938"/><stop offset="0.825" stop-color="#e5d938"/><stop offset="0.85" stop-color="#e5d938"/><stop offset="0.875" stop-color="#e5d938"/><stop offset="0.9" stop-color="#e3db38"/><stop offset="0.925" stop-color="#e1dd37"/><stop offset="0.95" stop-color="#dde037"/><stop offset="0.975" stop-color="#d9e436"/><stop offset="1" stop-color="#d2e935"/></linearGradient>
<linearGradient id="g44"><stop offset="0" stop-color="#d83706"/><stop offset="0.025" stop-color="#d83706"/><stop offset="0.05" stop-color="#dc3b07"/><stop offset="0.075" stop-color="#df3f08"/><stop offset="0.1" stop-color="#e4450a"/><stop offset="0.125" stop-color="#e7490c"/><stop offset="0.15" stop-color="#ea4e0d"/><stop offset="0.175" stop-color="#ec530f"/><stop offset="0.2" stop-color="#f05b12"/><stop offset="0.225" stop-color="#f46617"/><stop offset="0.25" stop-color="#f8721c"/><stop offset="0.275" stop-color="#fb7e21"/><stop offset="0.3" stop-color="#fd8d27"/><stop offset="0.325" stop-color="#fea130"/><stop offset="0.35" stop-color="#fbb637"/><stop offset="0.375" stop-color="#f4c73a"/><stop offset="0.4" stop-color="#e5d938"/><stop offset="0.425" stop-color="#d7e535"/><stop offset="0.45" stop-color="#cbed34"/><stop offset="0.475" stop-color="#c6f034"/><stop offset="0.5" stop-color="#c3f134"/><stop offset="0.525" stop-color="#c6f034"/><stop offset="0.55" stop-color="#c8ef34"/><stop offset="0.575" stop-color="#c8ef34"/><stop offset="0.6" stop-color="#cbed34"/><stop offset="0.625" stop-color="#cbed34"/><stop offset="0.65" stop-color="#d0ea34"/><stop offset="0.675" stop-color="#d4e735"/><stop offset="0.7" stop-color="#dbe236"/><stop offset="0.725" stop-color="#dfdf37"/><stop offset="0.75" stop-color="#e3db38"/><stop offset="0.775" stop-color="#e5d938"/><stop offset="0.8" stop-color="#e5d938"/><stop offset="0.825" stop-color="#e5d938"/><stop offset="0.85" stop-color="#e5d938"/><stop offset="0.875" stop-color="#e5d938"/><stop offset="0.9" stop-color="#e3db38"/><stop offset="0.925" stop-color="#dfdf37"/><stop offset="0.95" stop-color="#dbe236"/><stop offset="0.975" stop-color="#d7e535"/><stop offset="1" stop-color="#d2e935"/></linearGradient>
<linearGradient id="g45"><stop offset="0" stop-color="#d83706"/><stop offset="0.025" stop-color="#d83706"/><stop offset="0.05" stop-color="#dc3b07"/><stop offset="0.075" stop-color="#df3f08"/><stop offset="0.1" stop-color="#e4450a"/><stop offset="0.125" stop-color="#e7490c"/><stop offset="0.15" stop-color="#ea4e0d"/><stop offset="0.175" stop-color="#ec530f"/><stop offset="0.2" stop-color="#f05b12"/><stop offset="0.225" stop-color="#f46617"/><stop offset="0.25" stop-color="#f9751d"/><stop offset="0.275" stop-color="#fb8122"/><stop offset="0.3" stop-color="#fe932a"/><stop offset="0.325" stop-color="#fea431"/><stop offset="0.35" stop-color="#fbb838"/><stop offset="0.375" stop-color="#f2c93a"/><stop offset="0.4" stop-color="#e5d938"/><stop offset="0.425" stop-color="#d9e436"/><stop offset="0.45" stop-color="#cdec34"/><stop offset="0.475" stop-color="#c8ef34"/><stop offset="0.5" stop-color="#c6f034"/><stop offset="0.525" stop-color="#c6f034"/><stop offset="0.55" stop-color="#c8ef34"/><stop offset="0.575" stop-color="#cbed34"/><stop offset="0.6" stop-color="#cbed34"/><stop offset="0.625" stop-color="#cdec34"/><stop offset="0.65" stop-color="#d0ea34"/><stop offset="0.675" stop-color="#d7e535"/><stop offset="0.7" stop-color="#dbe236"/><stop offset="0.725" stop-color="#dfdf37"/><stop offset="0.75" stop-color="#e3db38"/><stop offset="0.775" stop-color="#e5d938"/><stop offset="0.8" stop-color="#e5d938"/><stop offset="0.825" stop-color="#e5d938"/><stop offset="0.85" stop-color="#e5d938"/><stop offset="0.875" stop-color="#e5d938"/><stop offset="0.9" stop-color="#e3db38"/><stop offset="0.925" stop-color="#dfdf37"/><stop offset="0.95" stop-color="#dbe236"/><stop offset="0.975" stop-color="#d4e735"/><stop offset="1" stop-color="#d0ea34"/></linearGradient>
<linearGradient id="g46"><stop offset="0" stop-color="#d63506"/><stop offset="0.025" stop-color="#d83706"/><stop offset="0.05" stop-color="#dc3b07"/><stop offset="0.075" stop-color="#e14109"/><stop offset="0.1" stop-color="#e4450a"/><stop offset="0.125" stop-color="#e84b0c"/><stop offset="0.15" stop-color="#ea4e0d"/><stop offset="0.175" stop-color="#ec530f"/><stop offset="0.2" stop-color="#f05b12"/><stop offset="0.225" stop-color="#f46617"/><stop offset="0.25" stop-color="#f9751d"/><stop offset="0.275" stop-color="#fc8423"/><stop offset="0.3" stop-color="#fe962b"/><stop offset="0.325" stop-color="#fea933"/><stop offset="0.35" stop-color="#faba39"/><stop offset="0.375" stop-color="#f1cb3a"/><stop offset="0.4" stop-color="#e5d938"/><stop offset="0.425" stop-color="#d9e436"/><stop offset="0.45" stop-color="#d0ea34"/><stop offset="0.475" stop-color="#cbed34"/><stop offset="0.5" stop-color="#c8ef34"/><stop offset="0.525" stop-color="#c8ef34"/><stop offset="0.55" stop-color="#c8ef34"/><stop offset="0.575" stop-color="#cbed34"/><stop offset="0.6" stop-color="#cbed34"/><stop offset="0.625" stop-color="#cdec34"/><stop offset="0.65" stop-color="#d2e935"/><stop offset="0.675" stop-color="#d7e535"/><stop offset="0.7" stop-color="#dde037"/><stop offset="0.725" stop-color="#e1dd37"/><stop offset="0.75" stop-color="#e3db38"/><stop offset="0.775" stop-color="#e5d938"/><stop offset="0.8" stop-color="#e5d938"/><stop offset="0.825" stop-color="#e5d938"/><stop offset="0.85" stop-color="#e5d938"/><stop offset="0.875" stop-color="#e5d938"/><stop offset="0.9" stop-color="#e3db38"/><stop offset="0.925" stop-color="#dfdf37"/><stop offset="0.95" stop-color="#d9e436"/><stop offset="0.975" stop-color="#d2e935"/><stop offset="1" stop-color="#cdec34"/></linearGradient>
<linearGradient id="g47"><stop offset="0" stop-color="#d63506"/><stop offset="0.025" stop-color="#d83706"/><stop offset="0.05" stop-color="#dc3b07"/><stop offset="0.075" stop-color="#e14109"/><stop offset="0.1" stop-color="#e5470b"/><stop offset="0.125" stop-color="#e84b0c"/><stop offset="0.15" stop-color="#eb500e"/><stop offset="0.175" stop-color="#ed5510"/><stop offset="0.2" stop-color="#f15d13"/><stop offset="0.225" stop-color="#f56918"/><stop offset="0.25" stop-color="#f9781e"/><stop offset="0.275" stop-color="#fc8725"/><stop offset="0.3" stop-color="#fe992c"/><stop offset="0.325" stop-color="#fdac34"/><stop offset="0.35" stop-color="#f8be39"/><stop offset="0.375" stop-color="#efcd3a"/><stop offset="0.4" stop-color="#e5d938"/><stop offset="0.425" stop-color="#d9e436"/><stop offset="0.45" stop-color="#d2e935"/><stop offset="0.475" stop-color="#cbed34"/><stop offset="0.5" stop-color="#c8ef34"/><stop offset="0.525" stop-color="#c8ef34"/><stop offset="0.55" stop-color="#cbed34"/><stop offset="0.575" stop-color="#cbed34"/><stop offset="0.6" stop-color="#cdec34"/><stop offset="0.625" stop-color="#cdec34"/><stop offset="0.65" stop-color="#d2e935"/><stop offset="0.675" stop-color="#d7e535"/><stop offset="0.7" stop-color="#dde037"/><stop offset="0.725" stop-color="#e1dd37"/><stop offset="0.75" stop-color="#e5d938"/><stop offset="0.775" stop-color="#e5d938"/><stop offset="0.8" stop-color="#e5d938"/><stop offset="0.825" stop-color="#e5d938"/><stop offset="0.85" stop-color="#e5d938"/><stop offset="0.875" stop-color="#e5d938"/><stop offset="0.9" stop-color="#e1dd37"/><stop offset="0.925" stop-color="#dde037"/><stop offset="0.95" stop-color="#d7e535"/><stop offset="0.975" stop-color="#d2e935"/><stop offset="1" stop-color="#cbed34"/></linearGradient>
<linearGradient id="g48"><stop offset="0" stop-color="#d63506"/><stop offset="0.025" stop-color="#d83706"/><stop offset="0.05" stop-color="#dd3d08"/><stop offset="0.075" stop-color="#e14109"/><stop offset="0.1" stop-color="#e5470b"/><stop offset="0.125" stop-color="#e84b0c"/><stop offset="0.15" stop-color="#eb500e"/><stop offset="0.175" stop-color="#ed5510"/><stop offset="0.2" stop-color="#f15d13"/><stop offset="0.225" stop-color="#f56918"/><stop offset="0.25" stop-color="#fa7b1f"/><stop offset="0.275" stop-color="#fd8d27"/><stop offset="0.3" stop-color="#fe9e2f"/><stop offset="0.325" stop-color="#fcb136"/><stop offset="0.35" stop-color="#f7c13a"/><stop offset="0.375" stop-color="#eecf3a"/><stop offset="0.4" stop-color="#e3db38"/><stop offset="0.425" stop-color="#dbe236"/><stop offset="0.45" stop-color="#d2e935"/><stop offset="0.475" stop-color="#cdec34"/><stop offset="0.5" stop-color="#cbed34"/><stop offset="0.525" stop-color="#cbed34"/><stop offset="0.55" stop-color="#cbed34"/><stop offset="0.575" stop-color="#cbed34"/><stop offset="0.6" stop-color="#cdec34"/><stop offset="0.625" stop-color="#d0ea34"/><stop offset="0.65" stop-color="#d4e735"/><stop offset="0.675" stop-color="#d9e436"/><stop offset="0.7" stop-color="#dde037"/><stop offset="0.725" stop-color="#e1dd37"/><stop offset="0.75" stop-color="#e5d938"/><stop offset="0.775" stop-color="#e5d938"/><stop offset="0.8" stop-color="#e5d938"/><stop offset="0.825" stop-color="#e5d938"/><stop offset="0.85" stop-color="#e5d938"/><stop offset="0.875" stop-color="#e3db38"/><stop offset="0.9" stop-color="#e1dd37"/><stop offset="0.925" stop-color="#dde037"/><stop offset="0.95" stop-color="#d7e535"/><stop offset="0.975" stop-color="#d0ea34"/><stop offset="1" stop-color="#cbed34"/></linearGradient>
<linearGradient id="g49"><stop offset="0" stop-color="#d63506"/><stop offset="0.025" stop-color="#da3907"/><stop offset="0.05" stop-color="#dd3d08"/><stop offset="0.075" stop-color="#e2430a"/><stop offset="0.1" stop-color="#e5470b"/><stop offset="0.125" stop-color="#ea4e0d"/><stop offset="0.15" stop-color="#eb500e"/><stop offset="0.175" stop-color="#ed5510"/><stop offset="0.2" stop-color="#f15d13"/><stop offset="0.225" stop-color="#f66c19"/><stop offset="0.25" stop-color="#fa7b1f"/><stop offset="0.275" stop-color="#fe9029"/><stop offset="0.3" stop-color="#fea130"/><stop offset="0.325" stop-color="#fcb336"/><stop offset="0.35" stop-color="#f6c33a"/><stop offset="0.375" stop-color="#ecd13a"/><stop offset="0.4" stop-color="#e3db38"/><stop offset="0.425" stop-color="#dbe236"/><stop offset="0.45" stop-color="#d4e735"/><stop offset="0.475" stop-color="#cdec34"/><stop offset="0.5" stop-color="#cbed34"/><stop offset="0.525" stop-color="#cbed34"/><stop offset="0.55" stop-color="#cbed34"/><stop offset="0.575" stop-color="#cdec34"/><stop offset="0.6" stop-color="#cdec34"/><stop offset="0.625" stop-color="#d0ea34"/><stop offset="0.65" stop-color="#d4e735"/><stop offset="0.675" stop-color="#d9e436"/><stop offset="0.7" stop-color="#dde037"/><stop offset="0.725" stop-color="#e1dd37"/><stop offset="0.75" stop-color="#e5d938"/><stop offset="0.775" stop-color="#e5d938"/><stop offset="0.8" stop-color="#e5d938"/><stop offset="0.825" stop-color="#e5d938"/><stop offset="0.85" stop-color="#e5d938"/><stop offset="0.875" stop-color="#e3db38"/><stop offset="0.9" stop-color="#dfdf37"/><stop offset="0.925" stop-color="#dbe236"/><stop offset="0.95" stop-color="#d4e735"/><stop offset="0.975" stop-color="#cdec34"/><stop offset="1" stop-color="#c8ef34"/></linearGradient>
<linearGradient id="g50"><stop offset="0" stop-color="#d63506"/><stop offset="0.025" stop-color="#da3907"/><stop offset="0.05" stop-color="#dd3d08"/><stop offset="0.075" stop-color="#e2430a"/><stop offset="0.1" stop-color="#e7490c"/><stop offset="0.125" stop-color="#ea4e0d"/><stop offset="0.15" stop-color="#eb500e"/><stop offset="0.175" stop-color="#ed5510"/><stop offset="0.2" stop-color="#f15d13"/><stop offset="0.225" stop-color="#f66c19"/><stop offset="0.25" stop-color="#fb7e21"/><stop offset="0.275" stop-color="#fe932a"/><stop offset="0.3" stop-color="#fea732"/><stop offset="0.325" stop-color="#fbb838"/><stop offset="0.35" stop-color="#f5c53a"/><stop offset="0.375" stop-color="#ecd13a"/><stop offset="0.4" stop-color="#e3db38"/><stop offset="0.425" stop-color="#dbe236"/><stop offset="0.45" stop-color="#d4e735"/><stop offset="0.475" stop-color="#d0ea34"/><stop offset="0.5" stop-color="#cbed34"/><stop offset="0.525" stop-color="#cbed34"/><stop offset="0.55" stop-color="#cbed34"/><stop offset="0.575" stop-color="#cdec34"/><stop offset="0.6" stop-color="#cdec34"/><stop offset="0.625" stop-color="#d0ea34"/><stop offset="0.65" stop-color="#d4e735"/><stop offset="0.675" stop-color="#d9e436"/><stop offset="0.7" stop-color="#dfdf37"/><stop offset="0.725" stop-color="#e3db38"/><stop offset="0.75" stop-color="#e5d938"/><stop offset="0.775" stop-color="#e5d938"/><stop offset="0.8" stop-color="#e5d938"/><stop offset="0.825" stop-color="#e5d938"/><stop offset="0.85" stop-color="#e5d938"/><stop offset="0.875" stop-color="#e3db38"/><stop offset="0.9" stop-color="#dfdf37"/><stop offset="0.925" stop-color="#d9e436"/><stop offset="0.95" stop-color="#d2e935"/><stop offset="0.975" stop-color="#cbed34"/><stop offset="1" stop-color="#c6f034"/></linearGradient>
<linearGradient id="g51"><stop offset="0" stop-color="#d63506"/><stop offset="0.025" stop-color="#da3907"/><stop offset="0.05" stop-color="#df3f08"/><stop offset="0.075" stop-color="#e4450a"/><stop offset="0.1" stop-color="#e7490c"/><stop offset="0.125" stop-color="#ea4e0d"/><stop offset="0.15" stop-color="#ec530f"/><stop offset="0.175" stop-color="#ef5811"/><stop offset="0.2" stop-color="#f26014"/><stop offset="0.225" stop-color="#f76f1a"/><stop offset="0.25" stop-color="#fb8122"/><stop offset="0.275" stop-color="#fe962b"/><stop offset="0.3" stop-color="#fea933"/><stop offset="0.325" stop-color="#faba39"/><stop offset="0.35" stop-color="#f4c73a"/><stop offset="0.375" stop-color="#ebd339"/><stop offset="0.4" stop-color="#e1dd37"/><stop offset="0.425" stop-color="#d9e436"/><stop offset="0.45" stop-color="#d4e735"/><stop offset="0.475" stop-color="#d0ea34"/><stop offset="0.5" stop-color="#cbed34"/><stop offset="0.525" stop-color="#cbed34"/><stop offset="0.55" stop-color="#cbed34"/><stop offset="0.575" stop-color="#cdec34"/><stop offset="0.6" stop-color="#cdec34"/><stop offset="0.625" stop-color="#d0ea34"/><stop offset="0.65" stop-color="#d4e735"/><stop offset="0.675" stop-color="#d9e436"/><stop offset="0.7" stop-color="#dfdf37"/><stop offset="0.725" stop-color="#e3db38"/><stop offset="0.75" stop-color="#e5d938"/><stop offset="0.775" stop-color="#e5d938"/><stop offset="0.8" stop-color="#e5d938"/><stop offset="0.825" stop-color="#e5d938"/><stop offset="0.85" stop-color="#e5d938"/><stop offset="0.875" stop-color="#e3db38"/><stop offset="0.9" stop-color="#dde037"/><stop offset="0.925" stop-color="#d9e436"/><stop offset="0.95" stop-color="#d0ea34"/><stop offset="0.975" stop-color="#c8ef34"/><stop offset="1" stop-color="#c3f134"/></linearGradient>
<linearGradient id="g52"><stop offset="0" stop-color="#d63506"/><stop offset="0.025" stop-color="#da3907"/><stop offset="0.05" stop-color="#df3f08"/><stop offset="0.075" stop-color="#e4450a"/><stop offset="0.1" stop-color="#e84b0c"/><stop offset="0.125" stop-color="#eb500e"/><stop offset="0.15" stop-color="#ec530f"/><stop offset="0.175" stop-color="#ef5811"/><stop offset="0.2" stop-color="#f26014"/><stop offset="0.225" stop-color="#f76f1a"/><stop offset="0.25" stop-color="#fb8122"/><stop offset="0.275" stop-color="#fe992c"/><stop offset="0.3" stop-color="#fdac34"/><stop offset="0.325" stop-color="#f9bc39"/><stop offset="0.35" stop-color="#f2c93a"/><stop offset="0.375" stop-color="#e9d539"/><stop offset="0.4" stop-color="#e1dd37"/><stop offset="0.425" stop-color="#d9e436"/><stop offset="0.45" stop-color="#d2e935"/><stop offset="0.475" stop-color="#cdec34"/><stop offset="0.5" stop-color="#cbed34"/><stop offset="0.525" stop-color="#cbed34"/><stop offset="0.55" stop-color="#cbed34"/><stop offset="0.575" stop-color="#cdec34"/><stop offset="0.6" stop-color="#cdec34"/><stop offset="0.625" stop-color="#d2e935"/><stop offset="0.65" stop-color="#d4e735"/><stop offset="0.675" stop-color="#dbe236"/><stop offset="0.7" stop-color="#dfdf37"/><stop offset="0.725" stop-color="#e3db38"/><stop offset="0.75" stop-color="#e5d938"/><stop offset="0.775" stop-color="#e5d938"/><stop offset="0.8" stop-color="#e5d938"/><stop offset="0.825" stop-color="#e5d938"/><stop offset="0.85" stop-color="#e3db38"/><stop offset="0.875" stop-color="#e1dd37"/><stop offset="0.9" stop-color="#dde037"/><stop offset="0.925" stop-color="#d7e535"/><stop offset="0.95" stop-color="#cdec34"/><stop offset="0.975" stop-color="#c6f034"/><stop offset="1" stop-color="#c1f334"/></linearGradient>
<linearGradient id="g53"><stop offset="0" stop-color="#d63506"/><stop offset="0.025" stop-color="#da3907"/><stop offset="0.05" stop-color="#df3f08"/><stop offset="0.075" stop-color="#e5470b"/><stop offset="0.1" stop-color="#ea4e0d"/><stop offset="0.125" stop-color="#ec530f"/><stop offset="0.15" stop-color="#ed5510"/><stop offset="0.175" stop-color="#ef5811"/><stop offset="0.2" stop-color="#f26014"/><stop offset="0.225" stop-color="#f76f1a"/><stop offset="0.25" stop-color="#fc8423"/><stop offset="0.275" stop-color="#fe992c"/><stop offset="0.3" stop-color="#fdae35"/><stop offset="0.325" stop-color="#f8be39"/><stop offset="0.35" stop-color="#f1cb3a"/><stop offset="0.375" stop-color="#e9d539"/><stop offset="0.4" stop-color="#dfdf37"/><stop offset="0.425" stop-color="#d7e535"/><stop offset="0.45" stop-color="#d0ea34"/><stop offset="0.475" stop-color="#cdec34"/><stop offset="0.5" stop-color="#cbed34"/><stop offset="0.525" stop-color="#cbed34"/><stop offset="0.55" stop-color="#cbed34"/><stop offset="0.575" stop-color="#cdec34"/><stop offset="0.6" stop-color="#cdec34"/><stop offset="0.625" stop-color="#d0ea34"/><stop offset="0.65" stop-color="#d4e735"/><stop offset="0.675" stop-color="#dbe236"/><stop offset="0.7" stop-color="#dfdf37"/><stop offset="0.725" stop-color="#e3db38"/><stop offset="0.75" stop-color="#e5d938"/><stop offset="0.775" stop-color="#e5d938"/><stop offset="0.8" stop-color="#e5d938"/><stop offset="0.825" stop-color="#e5d938"/><stop offset="0.85" stop-color="#e3db38"/><stop offset="0.875" stop-color="#e1dd37"/><stop offset="0.9" stop-color="#dbe236"/><stop offset="0.925" stop-color="#d4e735"/><stop offset="0.95" stop-color="#cbed34"/><stop offset="0.975" stop-color="#c3f134"/><stop offset="1" stop-color="#bef434"/></linearGradient>
<linearGradient id="g54"><stop offset="0" stop-color="#d63506"/><stop offset="0.025" stop-color="#dc3b07"/><stop offset="0.05" stop-color="#e14109"/><stop offset="0.075" stop-color="#e5470b"/><stop offset="0.1" stop-color="#ea4e0d"/><stop offset="0.125" stop-color="#ec530f"/><stop offset="0.15" stop-color="#ed5510"/><stop offset="0.175" stop-color="#ef5811"/><stop offset="0.2" stop-color="#f26014"/><stop offset="0.225" stop-color="#f8721c"/><stop offset="0.25" stop-color="#fc8725"/><stop offset="0.275" stop-color="#fe9b2d"/><stop offset="0.3" stop-color="#fcb136"/><stop offset="0.325" stop-color="#f8be39"/><stop offset="0.35" stop-color="#f1cb3a"/><stop offset="0.375" stop-color="#e7d739"/><stop offset="0.4" stop-color="#dde037"/><stop offset="0.425" stop-color="#d4e735"/><stop offset="0.45" stop-color="#d0ea34"/><stop offset="0.475" stop-color="#cbed34"/><stop offset="0.5" stop-color="#cbed34"/><stop offset="0.525" stop-color="#cbed34"/><stop offset="0.55" stop-color="#cbed34"/><stop offset="0.575" stop-color="#cbed34"/><stop offset="0.6" stop-color="#cdec34"/><stop offset="0.625" stop-color="#d0ea34"/><stop offset="0.65" stop-color="#d4e735"/><stop offset="0.675" stop-color="#dbe236"/><stop offset="0.7" stop-color="#dfdf37"/><stop offset="0.725" stop-color="#e3db38"/><stop offset="0.75" stop-color="#e5d938"/><stop offset="0.775" stop-color="#e5d938"/><stop offset="0.8" stop-color="#e5d938"/><stop offset="0.825" stop-color="#e5d938"/><stop offset="0.85" stop-color="#e3db38"/><stop offset="0.875" stop-color="#dfdf37"/><stop offset="0.9" stop-color="#dbe236"/><stop offset="0.925" stop-color="#d2e935"/><stop offset="0.95" stop-color="#c8ef34"/><stop offset="0.975" stop-color="#c1f334"/><stop offset="1" stop-color="#bcf534"/></linearGradient>
<linearGradient id="g55"><stop offset="0" stop-color="#d63506"/><stop offset="0.025" stop-color="#dc3b07"/><stop offset="0.05" stop-color="#e14109"/><stop offset="0.075" stop-color="#e5470b"/><stop offset="0.1" stop-color="#ea4e0d"/><stop offset="0.125" stop-color="#ec530f"/><stop offset="0.15" stop-color="#ed5510"/><stop offset="0.175" stop-color="#f05b12"/><stop offset="0.2" stop-color="#f36315"/><stop offset="0.225" stop-color="#f8721c"/><stop offset="0.25" stop-color="#fc8725"/><stop offset="0.275" stop-color="#fe9e2f"/><stop offset="0.3" stop-color="#fcb136"/><stop offset="0.325" stop-color="#f7c13a"/><stop offset="0.35" stop-color="#efcd3a"/><stop offset="0.375" stop-color="#e7d739"/><stop offset="0.4" stop-color="#dde037"/><stop offset="0.425" stop-color="#d4e735"/><stop offset="0.45" stop-color="#cdec34"/><stop offset="0.475" stop-color="#c8ef34"/><stop offset="0.5" stop-color="#c8ef34"/><stop offset="0.525" stop-color="#c8ef34"/><stop offset="0.55" stop-color="#cbed34"/><stop offset="0.575" stop-color="#cbed34"/><stop offset="0.6" stop-color="#cdec34"/><stop offset="0.625" stop-color="#d0ea34"/><stop offset="0.65" stop-color="#d4e735"/><stop offset="0.675" stop-color="#dbe236"/><stop offset="0.7" stop-color="#dfdf37"/><stop offset="0.725" stop-color="#e3db38"/><stop offset="0.75" stop-color="#e5d938"/><stop offset="0.775" stop-color="#e5d938"/><stop offset="0.8" stop-color="#e5d938"/><stop offset="0.825" stop-color="#e5d938"/><stop offset="0.85" stop-color="#e3db38"/><stop offset="0.875" stop-color="#dfdf37"/><stop offset="0.9" stop-color="#d9e436"/><stop offset="0.925" stop-color="#d0ea34"/><stop offset="0.95" stop-color="#c8ef34"/><stop offset="0.975" stop-color="#bef434"/><stop offset="1" stop-color="#b9f635"/></linearGradient>
<linearGradient id="g56"><stop offset="0" stop-color="#d63506"/><stop offset="0.025" stop-color="#dc3b07"/><stop offset="0.05" stop-color="#e14109"/><stop offset="0.075" stop-color="#e5470b"/><stop offset="0.1" stop-color="#ea4e0d"/><stop offset="0.125" stop-color="#ec530f"/><stop offset="0.15" stop-color="#ed5510"/><stop offset="0.175" stop-color="#f05b12"/><stop offset="0.2" stop-color="#f36315"/><stop offset="0.225" stop-color="#f9751d"/><stop offset="0.25" stop-color="#fd8a26"/><stop offset="0.275" stop-color="#fea130"/><stop offset="0.3" stop-color="#fcb336"/><stop offset="0.325" stop-color="#f7c13a"/><stop offset="0.35" stop-color="#efcd3a"/><stop offset="0.375" stop-color="#e7d739"/><stop offset="0.4" stop-color="#dde037"/><stop offset="0.425" stop-color="#d2e935"/><stop offset="0.45" stop-color="#cbed34"/><stop offset="0.475" stop-color="#c8ef34"/><stop offset="0.5" stop-color="#c8ef34"/><stop offset="0.525" stop-color="#c8ef34"/><stop offset="0.55" stop-color="#cbed34"/><stop offset="0.575" stop-color="#cbed34"/><stop offset="0.6" stop-color="#cdec34"/><stop offset="0.625" stop-color="#d0ea34"/><stop offset="0.65" stop-color="#d4e735"/><stop offset="0.675" stop-color="#dbe236"/><stop offset="0.7" stop-color="#dfdf37"/><stop offset="0.725" stop-color="#e3db38"/><stop offset="0.75" stop-color="#e5d938"/><stop offset="0.775" stop-color="#e5d938"/><stop offset="0.8" stop-color="#e5d938"/><stop offset="0.825" stop-color="#e5d938"/><stop offset="0.85" stop-color="#e3db38"/><stop offset="0.875" stop-color="#dfdf37"/><stop offset="0.9" stop-color="#d9e436"/><stop offset="0.925" stop-color="#d0ea34"/><stop offset="0.95" stop-color="#c6f034"/><stop offset="0.975" stop-color="#bef434"/><stop offset="1" stop-color="#b7f735"/></linearGradient>
<linearGradient id="g57"><stop offset="0" stop-color="#d63506"/><stop offset="0.025" stop-color="#dc3b07"/><stop offset="0.05" stop-color="#e14109"/><stop offset="0.075" stop-color="#e5470b"/><stop offset="0.1" stop-color="#ea4e0d"/><stop offset="0.125" stop-color="#ec530f"/><stop offset="0.15" stop-color="#ed5510"/><stop offset="0.175" stop-color="#f05b12"/><stop offset="0.2" stop-color="#f46617"/><stop offset="0.225" stop-color="#f9781e"/><stop offset="0.25" stop-color="#fd8d27"/><stop offset="0.275" stop-color="#fea130"/><stop offset="0.3" stop-color="#fcb336"/><stop offset="0.325" stop-color="#f7c13a"/><stop offset="0.35" stop-color="#efcd3a"/><stop offset="0.375" stop-color="#e7d739"/><stop offset="0.4" stop-color="#dbe236"/><stop offset="0.425" stop-color="#d2e935"/><stop offset="0.45" stop-color="#cbed34"/><stop offset="0.475" stop-color="#c8ef34"/><stop offset="0.5" stop-color="#c8ef34"/><stop offset="0.525" stop-color="#c8ef34"/><stop offset="0.55" stop-color="#cbed34"/><stop offset="0.575" stop-color="#cbed34"/><stop offset="0.6" stop-color="#cdec34"/><stop offset="0.625" stop-color="#d0ea34"/><stop offset="0.65" stop-color="#d7e535"/><stop offset="0.675" stop-color="#dbe236"/><stop offset="0.7" stop-color="#dfdf37"/><stop offset="0.725" stop-color="#e3db38"/><stop offset="0.75" stop-color="#e5d938"/><stop offset="0.775" stop-color="#e5d938"/><stop offset="0.8" stop-color="#e5d938"/><stop offset="0.825" stop-color="#e5d938"/><stop offset="0.85" stop-color="#e3db38"/><stop offset="0.875" stop-color="#dfdf37"/><stop offset="0.9" stop-color="#d9e436"/><stop offset="0.925" stop-color="#d0ea34"/><stop offset="0.95" stop-color="#c6f034"/><stop offset="0.975" stop-color="#bcf534"/><stop offset="1" stop-color="#b7f735"/></linearGradient>
<linearGradient id="g58"><stop offset="0" stop-color="#d63506"/><stop offset="0.025" stop-color="#dc3b07"/><stop offset="0.05" stop-color="#e14109"/><stop offset="0.075" stop-color="#e5470b"/><stop offset="0.1" stop-color="#e84b0c"/><stop offset="0.125" stop-color="#eb500e"/><stop offset="0.15" stop-color="#ed5510"/><stop offset="0.175" stop-color="#f05b12"/><stop offset="0.2" stop-color="#f56918"/><stop offset="0.225" stop-color="#fa7b1f"/><stop offset="0.25" stop-color="#fe9029"/><stop offset="0.275" stop-color="#fea431"/><stop offset="0.3" stop-color="#fcb336"/><stop offset="0.325" stop-color="#f7c13a"/><stop offset="0.35" stop-color="#efcd3a"/><stop offset="0.375" stop-color="#e7d739"/><stop offset="0.4" stop-color="#dbe236"/><stop offset="0.425" stop-color="#d2e935"/><stop offset="0.45" stop-color="#cbed34"/><stop offset="0.475" stop-color="#c8ef34"/><stop offset="0.5" stop-color="#c6f034"/><stop offset="0.525" stop-color="#c8ef34"/><stop offset="0.55" stop-color="#cbed34"/><stop offset="0.575" stop-color="#cbed34"/><stop offset="0.6" stop-color="#cdec34"/><stop offset="0.625" stop-color="#d2e935"/><stop offset="0.65" stop-color="#d7e535"/><stop offset="0.675" stop-color="#dbe236"/><stop offset="0.7" stop-color="#dfdf37"/><stop offset="0.725" stop-color="#e3db38"/><stop offset="0.75" stop-color="#e5d938"/><stop offset="0.775" stop-color="#e5d938"/><stop offset="0.8" stop-color="#e5d938"/><stop offset="0.825" stop-color="#e5d938"/><stop offset="0.85" stop-color="#e3db38"/><stop offset="0.875" stop-color="#dfdf37"/><stop offset="0.9" stop-color="#d9e436"/><stop offset="0.925" stop-color="#d0ea34"/><stop offset="0.95" stop-color="#c6f034"/><stop offset="0.975" stop-color="#bef434"/><stop offset="1" stop-color="#b7f735"/></linearGradient>
<linearGradient id="g59"><stop offset="0" stop-color="#d63506"/><stop offset="0.025" stop-color="#dc3b07"/><stop offset="0.05" stop-color="#df3f08"/><stop offset="0.075" stop-color="#e4450a"/><stop offset="0.1" stop-color="#e7490c"/><stop offset="0.125" stop-color="#eb500e"/><stop offset="0.15" stop-color="#ed5510"/><stop offset="0.175" stop-color="#f15d13"/><stop offset="0.2" stop-color="#f66c19"/><stop offset="0.225" stop-color="#fb7e21"/><stop offset="0.25" stop-color="#fe932a"/><stop offset="0.275" stop-color="#fea732"/><stop offset="0.3" stop-color="#fcb336"/><stop offset="0.325" stop-color="#f7c13a"/><stop offset="0.35" stop-color="#efcd3a"/><stop offset="0.375" stop-color="#e7d739"/><stop offset="0.4" stop-color="#dbe236"/><stop offset="0.425" stop-color="#d2e935"/><stop offset="0.45" stop-color="#cbed34"/><stop offset="0.475" stop-color="#c8ef34"/><stop offset="0.5" stop-color="#c8ef34"/><stop offset="0.525" stop-color="#c8ef34"/><stop offset="0.55" stop-color="#cbed34"/><stop offset="0.575" stop-color="#cbed34"/><stop offset="0.6" stop-color="#cdec34"/><stop offset="0.625" stop-color="#d2e935"/><stop offset="0.65" stop-color="#d7e535"/><stop offset="0.675" stop-color="#dbe236"/><stop offset="0.7" stop-color="#e1dd37"/><stop offset="0.725" stop-color="#e3db38"/><stop offset="0.75" stop-color="#e5d938"/><stop offset="0.775" stop-color="#e5d938"/><stop offset="0.8" stop-color="#e5d938"/><stop offset="0.825" stop-color="#e5d938"/><stop offset="0.85" stop-color="#e3db38"/><stop offset="0.875" stop-color="#dfdf37"/><stop offset="0.9" stop-color="#d9e436"/><stop offset="0.925" stop-color="#d0ea34"/><stop offset="0.95" stop-color="#c8ef34"/><stop offset="0.975" stop-color="#bef434"/><stop offset="1" stop-color="#b9f635"/></linearGradient>
<linearGradient id="g60"><stop offset="0" stop-color="#d63506"/><stop offset="0.025" stop-color="#dc3b07"/><stop offset="0.05" stop-color="#df3f08"/><stop offset="0.075" stop-color="#e2430a"/><stop offset="0.1" stop-color="#e5470b"/><stop offset="0.125" stop-color="#ea4e0d"/><stop offset="0.15" stop-color="#ec530f"/><stop offset="0.175" stop-color="#f15d13"/><stop offset="0.2" stop-color="#f66c19"/><stop offset="0.225" stop-color="#fb8122"/><stop offset="0.25" stop-color="#fe962b"/><stop offset="0.275" stop-color="#fea732"/><stop offset="0.3" stop-color="#fcb336"/><stop offset="0.325" stop-color="#f7c13a"/><stop offset="0.35" stop-color="#efcd3a"/><stop offset="0.375" stop-color="#e7d739"/><stop offset="0.4" stop-color="#dbe236"/><stop offset="0.425" stop-color="#d2e935"/><stop offset="0.45" stop-color="#cbed34"/><stop offset="0.475" stop-color="#c8ef34"/><stop offset="0.5" stop-color="#c8ef34"/><stop offset="0.525" stop-color="#c8ef34"/><stop offset="0.55" stop-color="#cbed34"/><stop offset="0.575" stop-color="#cdec34"/><stop offset="0.6" stop-color="#d0ea34"/><stop offset="0.625" stop-color="#d2e935"/><stop offset="0.65" stop-color="#d7e535"/><stop offset="0.675" stop-color="#dde037"/><stop offset="0.7" stop-color="#e1dd37"/><stop offset="0.725" stop-color="#e3db38"/><stop offset="0.75" stop-color="#e5d938"/><stop offset="0.775" stop-color="#e5d938"/><stop offset="0.8" stop-color="#e5d938"/><stop offset="0.825" stop-color="#e5d938"/><stop offset="0.85" stop-color="#e3db38"/><stop offset="0.875" stop-color="#dfdf37"/><stop offset="0.9" stop-color="#d9e436"/><stop offset="0.925" stop-color="#d2e935"/><stop offset="0.95" stop-color="#c8ef34"/><stop offset="0.975" stop-color="#c1f334"/><stop offset="1" stop-color="#b9f635"/></linearGradient>
<linearGradient id="g61"><stop offset="0" stop-color="#d63506"/><stop offset="0.025" stop-color="#da3907"/><stop offset="0.05" stop-color="#dd3d08"/><stop offset="0.075" stop-color="#e14109"/><stop offset="0.1" stop-color="#e4450a"/><stop offset="0.125" stop-color="#e84b0c"/><stop offset="0.15" stop-color="#ec530f"/><stop offset="0.175" stop-color="#f15d13"/><stop offset="0.2" stop-color="#f76f1a"/><stop offset="0.225" stop-color="#fc8423"/><stop offset="0.25" stop-color="#fe992c"/><stop offset="0.275" stop-color="#fea732"/><stop offset="0.3" stop-color="#fcb336"/><stop offset="0.325" stop-color="#f7c13a"/><stop offset="0.35" stop-color="#f1cb3a"/><stop offset="0.375" stop-color="#e7d739"/><stop offset="0.4" stop-color="#dde037"/><stop offset="0.425" stop-color="#d4e735"/><stop offset="0.45" stop-color="#cdec34"/><stop offset="0.475" stop-color="#c8ef34"/><stop offset="0.5" stop-color="#c8ef34"/><stop offset="0.525" stop-color="#c8ef34"/><stop offset="0.55" stop-color="#cbed34"/><stop offset="0.575" stop-color="#cdec34"/><stop offset="0.6" stop-color="#d0ea34"/><stop offset="0.625" stop-color="#d2e935"/><stop offset="0.65" stop-color="#d7e535"/><stop offset="0.675" stop-color="#dde037"/><stop offset="0.7" stop-color="#e1dd37"/><stop offset="0.725" stop-color="#e3db38"/><stop offset="0.75" stop-color="#e5d938"/><stop offset="0.775" stop-color="#e5d938"/><stop offset="0.8" stop-color="#e5d938"/><stop offset="0.825" stop-color="#e5d938"/><stop offset="0.85" stop-color="#e3db38"/><stop offset="0.875" stop-color="#dfdf37"/><stop offset="0.9" stop-color="#dbe236"/><stop offset="0.925" stop-color="#d4e735"/><stop offset="0.95" stop-color="#cbed34"/><stop offset="0.975" stop-color="#c3f134"/><stop offset="1" stop-color="#bcf534"/></linearGradient>
<linearGradient id="g62"><stop offset="0" stop-color="#d63506"/><stop offset="0.025" stop-color="#da3907"/><stop offset="0.05" stop-color="#dd3d08"/><stop offset="0.075" stop-color="#df3f08"/><stop offset="0.1" stop-color="#e2430a"/><stop offset="0.125" stop-color="#e7490c"/><stop offset="0.15" stop-color="#eb500e"/><stop offset="0.175" stop-color="#f26014"/><stop offset="0.2" stop-color="#f8721c"/><stop offset="0.225" stop-color="#fc8725"/><stop offset="0.25" stop-color="#fe992c"/><stop offset="0.275" stop-color="#fea933"/><stop offset="0.3" stop-color="#fcb336"/><stop offset="0.325" stop-color="#f8be39"/><stop offset="0.35" stop-color="#f1cb3a"/><stop offset="0.375" stop-color="#e7d739"/><stop offset="0.4" stop-color="#dde037"/><stop offset="0.425" stop-color="#d4e735"/><stop offset="0.45" stop-color="#cdec34"/><stop offset="0.475" stop-color="#cbed34"/><stop offset="0.5" stop-color="#c8ef34"/><stop offset="0.525" stop-color="#cbed34"/><stop offset="0.55" stop-color="#cbed34"/><stop offset="0.575" stop-color="#cdec34"/><stop offset="0.6" stop-color="#d0ea34"/><stop offset="0.625" stop-color="#d2e935"/><stop offset="0.65" stop-color="#d9e436"/><stop offset="0.675" stop-color="#dde037"/><stop offset="0.7" stop-color="#e1dd37"/><stop offset="0.725" stop-color="#e3db38"/><stop offset="0.75" stop-color="#e5d938"/><stop offset="0.775" stop-color="#e5d938"/><stop offset="0.8" stop-color="#e5d938"/><stop offset="0.825" stop-color="#e5d938"/><stop offset="0.85" stop-color="#e3db38"/><stop offset="0.875" stop-color="#e1dd37"/><stop offset="0.9" stop-color="#dbe236"/><stop offset="0.925" stop-color="#d4e735"/><stop offset="0.95" stop-color="#cdec34"/><stop offset="0.975" stop-color="#c6f034"/><stop offset="1" stop-color="#bef434"/></linearGradient>
<linearGradient id="g63"><stop offset="0" stop-color="#d63506"/><stop offset="0.025" stop-color="#da3907"/><stop offset="0.05" stop-color="#dc3b07"/><stop offset="0.075" stop-color="#df3f08"/><stop offset="0.1" stop-color="#e14109"/><stop offset="0.125" stop-color="#e5470b"/><stop offset="0.15" stop-color="#eb500e"/><stop offset="0.175" stop-color="#f26014"/><stop offset="0.2" stop-color="#f8721c"/><stop offset="0.225" stop-color="#fc8725"/><stop offset="0.25" stop-color="#fe992c"/><stop offset="0.275" stop-color="#fea732"/><stop offset="0.3" stop-color="#fcb336"/><stop offset="0.325" stop-color="#f8be39"/><stop offset="0.35" stop-color="#f1cb3a"/><stop offset="0.375" stop-color="#e7d739"/><stop offset="0.4" stop-color="#dde037"/><stop offset="0.425" stop-color="#d7e535"/><stop offset="0.45" stop-color="#d0ea34"/><stop offset="0.475" stop-color="#cbed34"/><stop offset="0.5" stop-color="#cbed34"/><stop offset="0.525" stop-color="#cbed34"/><stop offset="0.55" stop-color="#cdec34"/><stop offset="0.575" stop-color="#cdec34"/><stop offset="0.6" stop-color="#d0ea34"/><stop offset="0.625" stop-color="#d4e735"/><stop offset="0.65" stop-color="#d9e436"/><stop offset="0.675" stop-color="#dde037"/><stop offset="0.7" stop-color="#e1dd37"/><stop offset="0.725" stop-color="#e3db38"/><stop offset="0.75" stop-color="#e5d938"/><stop offset="0.775" stop-color="#e5d938"/><stop offset="0.8" stop-color="#e5d938"/><stop offset="0.825" stop-color="#e5d938"/><stop offset="0.85" stop-color="#e3db38"/><stop offset="0.875" stop-color="#e1dd37"/><stop offset="0.9" stop-color="#dde037"/><stop offset="0.925" stop-color="#d7e535"/><stop offset="0.95" stop-color="#d0ea34"/><stop offset="0.975" stop-color="#c8ef34"/><stop offset="1" stop-color="#c1f334"/></linearGradient>
<linearGradient id="g64"><stop offset="0" stop-color="#d63506"/><stop offset="0.025" stop-color="#da3907"/><stop offset="0.05" stop-color="#dc3b07"/><stop offset="0.075" stop-color="#dd3d08"/><stop offset="0.1" stop-color="#e14109"/><stop offset="0.125" stop-color="#e5470b"/><stop offset="0.15" stop-color="#eb500e"/><stop offset="0.175" stop-color="#f26014"/><stop offset="0.2" stop-color="#f8721c"/><stop offset="0.225" stop-color="#fc8725"/><stop offset="0.25" stop-color="#fe992c"/><stop offset="0.275" stop-color="#fea732"/><stop offset="0.3" stop-color="#fcb136"/><stop offset="0.325" stop-color="#f9bc39"/><stop offset="0.35" stop-color="#f2c93a"/><stop offset="0.375" stop-color="#e9d539"/><stop offset="0.4" stop-color="#dfdf37"/><stop offset="0.425" stop-color="#d7e535"/><stop offset="0.45" stop-color="#d0ea34"/><stop offset="0.475" stop-color="#cdec34"/><stop offset="0.5" stop-color="#cbed34"/><stop offset="0.525" stop-color="#cbed34"/><stop offset="0.55" stop-color="#cdec34"/><stop offset="0.575" stop-color="#d0ea34"/><stop offset="0.6" stop-color="#d2e935"/><stop offset="0.625" stop-color="#d4e735"/><stop offset="0.65" stop-color="#d9e436"/><stop offset="0.675" stop-color="#dfdf37"/><stop offset="0.7" stop-color="#e1dd37"/><stop offset="0.725" stop-color="#e5d938"/><stop offset="0.75" stop-color="#e5d938"/><stop offset="0.775" stop-color="#e5d938"/><stop offset="0.8" stop-color="#e5d938"/><stop offset="0.825" stop-color="#e5d938"/><stop offset="0.85" stop-color="#e5d938"/><stop offset="0.875" stop-color="#e1dd37"/><stop offset="0.9" stop-color="#dfdf37"/><stop offset="0.925" stop-color="#d9e436"/><stop offset="0.95" stop-color="#d2e935"/><stop offset="0.975" stop-color="#cbed34"/><stop offset="1" stop-color="#c3f134"/></linearGradient>
<linearGradient id="g65"><stop offset="0" stop-color="#d63506"/><stop offset="0.025" stop-color="#da3907"/><stop offset="0.05" stop-color="#dc3b07"/><stop offset="0.075" stop-color="#dd3d08"/><stop offset="0.1" stop-color="#e14109"/><stop offset="0.125" stop-color="#e5470b"/><stop offset="0.15" stop-color="#eb500e"/><stop offset="0.175" stop-color="#f26014"/><stop offset="0.2" stop-color="#f8721c"/><stop offset="0.225" stop-color="#fc8423"/><stop offset="0.25" stop-color="#fe962b"/><stop offset="0.275" stop-color="#fea431"/><stop offset="0.3" stop-color="#fdae35"/><stop offset="0.325" stop-color="#f9bc39"/><stop offset="0.35" stop-color="#f2c93a"/><stop offset="0.375" stop-color="#e9d539"/><stop offset="0.4" stop-color="#dfdf37"/><stop offset="0.425" stop-color="#d7e535"/><stop offset="0.45" stop-color="#d2e935"/><stop offset="0.475" stop-color="#cdec34"/><stop offset="0.5" stop-color="#cdec34"/><stop offset="0.525" stop-color="#cdec34"/><stop offset="0.55" stop-color="#cdec34"/><stop offset="0.575" stop-color="#d0ea34"/><stop offset="0.6" stop-color="#d2e935"/><stop offset="0.625" stop-color="#d4e735"/><stop offset="0.65" stop-color="#d9e436"/><stop offset="0.675" stop-color="#dfdf37"/><stop offset="0.7" stop-color="#e3db38"/><stop offset="0.725" stop-color="#e5d938"/><stop offset="0.75" stop-color="#e5d938"/><stop offset="0.775" stop-color="#e5d938"/><stop offset="0.8" stop-color="#e5d938"/><stop offset="0.825" stop-color="#e5d938"/><stop offset="0.85" stop-color="#e5d938"/><stop offset="0.875" stop-color="#e3db38"/><stop offset="0.9" stop-color="#dfdf37"/><stop offset="0.925" stop-color="#dbe236"/><stop offset="0.95" stop-color="#d4e735"/><stop offset="0.975" stop-color="#cdec34"/><stop offset="1" stop-color="#c6f034"/></linearGradient>
<linearGradient id="g66"><stop offset="0" stop-color="#d63506"/><stop offset="0.025" stop-color="#da3907"/><stop offset="0.05" stop-color="#dc3b07"/><stop offset="0.075" stop-color="#dd3d08"/><stop offset="0.1" stop-color="#e14109"/><stop offset="0.125" stop-color="#e5470b"/><stop offset="0.15" stop-color="#eb500e"/><stop offset="0.175" stop-color="#f26014"/><stop offset="0.2" stop-color="#f8721c"/><stop offset="0.225" stop-color="#fc8423"/><stop offset="0.25" stop-color="#fe932a"/><stop offset="0.275" stop-color="#fea130"/><stop offset="0.3" stop-color="#fdae35"/><stop offset="0.325" stop-color="#faba39"/><stop offset="0.35" stop-color="#f2c93a"/><stop offset="0.375" stop-color="#e9d539"/><stop offset="0.4" stop-color="#dfdf37"/><stop offset="0.425" stop-color="#d9e436"/><stop offset="0.45" stop-color="#d2e935"/><stop offset="0.475" stop-color="#d0ea34"/><stop offset="0.5" stop-color="#cdec34"/><stop offset="0.525" stop-color="#cdec34"/><stop offset="0.55" stop-color="#d0ea34"/><stop offset="0.575" stop-color="#d0ea34"/><stop offset="0.6" stop-color="#d2e935"/><stop offset="0.625" stop-color="#d4e735"/><stop offset="0.65" stop-color="#d9e436"/><stop offset="0.675" stop-color="#dfdf37"/><stop offset="0.7" stop-color="#e3db38"/><stop offset="0.725" stop-color="#e5d938"/><stop offset="0.75" stop-color="#e5d938"/><stop offset="0.775" stop-color="#e5d938"/><stop offset="0.8" stop-color="#e5d938"/><stop offset="0.825" stop-color="#e5d938"/><stop offset="0.85" stop-color="#e5d938"/><stop offset="0.875" stop-color="#e3db38"/><stop offset="0.9" stop-color="#dfdf37"/><stop offset="0.925" stop-color="#dbe236"/><stop offset="0.95" stop-color="#d4e735"/><stop offset="0.975" stop-color="#cdec34"/><stop offset="1" stop-color="#c8ef34"/></linearGradient>
<linearGradient id="g67"><stop offset="0" stop-color="#d63506"/><stop offset="0.025" stop-color="#da3907"/><stop offset="0.05" stop-color="#dc3b07"/><stop offset="0.075" stop-color="#dd3d08"/><stop offset="0.1" stop-color="#e14109"/><stop offset="0.125" stop-color="#e5470b"/><stop offset="0.15" stop-color="#eb500e"/><stop offset="0.175" stop-color="#f15d13"/><stop offset="0.2" stop-color="#f76f1a"/><stop offset="0.225" stop-color="#fb7e21"/><stop offset="0.25" stop-color="#fe9029"/><stop offset="0.275" stop-color="#fe9e2f"/><stop offset="0.3" stop-color="#fdac34"/><stop offset="0.325" stop-color="#faba39"/><stop offset="0.35" stop-color="#f4c73a"/><stop offset="0.375" stop-color="#ebd339"/><stop offset="0.4" stop-color="#e1dd37"/><stop offset="0.425" stop-color="#d9e436"/><stop offset="0.45" stop-color="#d4e735"/><stop offset="0.475" stop-color="#d0ea34"/><stop offset="0.5" stop-color="#d0ea34"/><stop offset="0.525" stop-color="#d0ea34"/><stop offset="0.55" stop-color="#d0ea34"/><stop offset="0.575" stop-color="#d0ea34"/><stop offset="0.6" stop-color="#d2e935"/><stop offset="0.625" stop-color="#d4e735"/><stop offset="0.65" stop-color="#d9e436"/><stop offset="0.675" stop-color="#dfdf37"/><stop offset="0.7" stop-color="#e3db38"/><stop offset="0.725" stop-color="#e5d938"/><stop offset="0.75" stop-color="#e5d938"/><stop offset="0.775" stop-color="#e5d938"/><stop offset="0.8" stop-color="#e5d938"/><stop offset="0.825" stop-color="#e5d938"/><stop offset="0.85" stop-color="#e5d938"/><stop offset="0.875" stop-color="#e3db38"/><stop offset="0.9" stop-color="#e1dd37"/><stop offset="0.925" stop-color="#dde037"/><stop offset="0.95" stop-color="#d7e535"/><stop offset="0.975" stop-color="#d0ea34"/><stop offset="1" stop-color="#c8ef34"/></linearGradient>
<linearGradient id="g68"><stop offset="0" stop-color="#d63506"/><stop offset="0.025" stop-color="#da3907"/><stop offset="0.05" stop-color="#dc3b07"/><stop offset="0.075" stop-color="#dd3d08"/><stop offset="0.1" stop-color="#e14109"/><stop offset="0.125" stop-color="#e5470b"/><stop offset="0.15" stop-color="#eb500e"/><stop offset="0.175" stop-color="#f15d13"/><stop offset="0.2" stop-color="#f66c19"/><stop offset="0.225" stop-color="#fa7b1f"/><stop offset="0.25" stop-color="#fd8a26"/><stop offset="0.275" stop-color="#fe992c"/><stop offset="0.3" stop-color="#fea933"/><stop offset="0.325" stop-color="#fbb838"/><stop offset="0.35" stop-color="#f5c53a"/><stop offset="0.375" stop-color="#ecd13a"/><stop offset="0.4" stop-color="#e3db38"/><stop offset="0.425" stop-color="#dbe236"/><stop offset="0.45" stop-color="#d4e735"/><stop offset="0.475" stop-color="#d2e935"/><stop offset="0.5" stop-color="#d0ea34"/><stop offset="0.525" stop-color="#d0ea34"/><stop offset="0.55" stop-color="#d0ea34"/><stop offset="0.575" stop-color="#d2e935"/><stop offset="0.6" stop-color="#d2e935"/><stop offset="0.625" stop-color="#d4e735"/><stop offset="0.65" stop-color="#d9e436"/><stop offset="0.675" stop-color="#dfdf37"/><stop offset="0.7" stop-color="#e3db38"/><stop offset="0.725" stop-color="#e5d938"/><stop offset="0.75" stop-color="#e5d938"/><stop offset="0.775" stop-color="#e7d739"/><stop offset="0.8" stop-color="#e7d739"/><stop offset="0.825" stop-color="#e5d938"/><stop offset="0.85" stop-color="#e5d938"/><stop offset="0.875" stop-color="#e5d938"/><stop offset="0.9" stop-color="#e1dd37"/><stop offset="0.925" stop-color="#dde037"/><stop offset="0.95" stop-color="#d9e436"/><stop offset="0.975" stop-color="#d2e935"/><stop offset="1" stop-color="#cbed34"/></linearGradient>
<linearGradient id="g69"><stop offset="0" stop-color="#d63506"/><stop offset="0.025" stop-color="#da3907"/><stop offset="0.05" stop-color="#dc3b07"/><stop offset="0.075" stop-color="#df3f08"/><stop offset="0.1" stop-color="#e14109"/><stop offset="0.125" stop-color="#e5470b"/><stop offset="0.15" stop-color="#eb500e"/><stop offset="0.175" stop-color="#f15d13"/><stop offset="0.2" stop-color="#f56918"/><stop offset="0.225" stop-color="#f9781e"/><stop offset="0.25" stop-color="#fc8725"/><stop offset="0.275" stop-color="#fe962b"/><stop offset="0.3" stop-color="#fea732"/><stop offset="0.325" stop-color="#fbb637"/><stop offset="0.35" stop-color="#f5c53a"/><stop offset="0.375" stop-color="#ecd13a"/><stop offset="0.4" stop-color="#e3db38"/><stop offset="0.425" stop-color="#dde037"/><stop offset="0.45" stop-color="#d7e535"/><stop offset="0.475" stop-color="#d4e735"/><stop offset="0.5" stop-color="#d2e935"/><stop offset="0.525" stop-color="#d2e935"/><stop offset="0.55" stop-color="#d2e935"/><stop offset="0.575" stop-color="#d2e935"/><stop offset="0.6" stop-color="#d2e935"/><stop offset="0.625" stop-color="#d4e735"/><stop offset="0.65" stop-color="#d9e436"/><stop offset="0.675" stop-color="#dfdf37"/><stop offset="0.7" stop-color="#e3db38"/><stop offset="0.725" stop-color="#e5d938"/><stop offset="0.75" stop-color="#e7d739"/><stop offset="0.775" stop-color="#e7d739"/><stop offset="0.8" stop-color="#e7d739"/><stop offset="0.825" stop-color="#e7d739"/><stop offset="0.85" stop-color="#e7d739"/><stop offset="0.875" stop-color="#e5d938"/><stop offset="0.9" stop-color="#e3db38"/><stop offset="0.925" stop-color="#dfdf37"/><stop offset="0.95" stop-color="#d9e436"/><stop offset="0.975" stop-color="#d4e735"/><stop offset="1" stop-color="#cdec34"/></linearGradient>
<linearGradient id="g70"><stop offset="0" stop-color="#d63506"/><stop offset="0.025" stop-color="#da3907"/><stop offset="0.05" stop-color="#dc3b07"/><stop offset="0.075" stop-color="#df3f08"/><stop offset="0.1" stop-color="#e14109"/><stop offset="0.125" stop-color="#e5470b"/><stop offset="0.15" stop-color="#eb500e"/><stop offset="0.175" stop-color="#f05b12"/><stop offset="0.2" stop-color="#f56918"/><stop offset="0.225" stop-color="#f9751d"/><stop offset="0.25" stop-color="#fb8122"/><stop offset="0.275" stop-color="#fe932a"/><stop offset="0.3" stop-color="#fea130"/><stop offset="0.325" stop-color="#fcb336"/><stop offset="0.35" stop-color="#f6c33a"/><stop offset="0.375" stop-color="#eecf3a"/><stop offset="0.4" stop-color="#e5d938"/><stop offset="0.425" stop-color="#dde037"/><stop offset="0.45" stop-color="#d9e436"/><stop offset="0.475" stop-color="#d4e735"/><stop offset="0.5" stop-color="#d4e735"/><stop offset="0.525" stop-color="#d2e935"/><stop offset="0.55" stop-color="#d2e935"/><stop offset="0.575" stop-color="#d2e935"/><stop offset="0.6" stop-color="#d4e735"/><stop offset="0.625" stop-color="#d4e735"/><stop offset="0.65" stop-color="#d9e436"/><stop offset="0.675" stop-color="#dfdf37"/><stop offset="0.7" stop-color="#e3db38"/><stop offset="0.725" stop-color="#e5d938"/><stop offset="0.75" stop-color="#e7d739"/><stop offset="0.775" stop-color="#e7d739"/><stop offset="0.8" stop-color="#e7d739"/><stop offset="0.825" stop-color="#e7d739"/><stop offset="0.85" stop-color="#e7d739"/><stop offset="0.875" stop-color="#e5d938"/><stop offset="0.9" stop-color="#e3db38"/><stop offset="0.925" stop-color="#dfdf37"/><stop offset="0.95" stop-color="#dbe236"/><stop offset="0.975" stop-color="#d4e735"/><stop offset="1" stop-color="#d0ea34"/></linearGradient>
<linearGradient id="g71"><stop offset="0" stop-color="#d63506"/><stop offset="0.025" stop-color="#da3907"/><stop offset="0.05" stop-color="#dd3d08"/><stop offset="0.075" stop-color="#df3f08"/><stop offset="0.1" stop-color="#e14109"/><stop offset="0.125" stop-color="#e5470b"/><stop offset="0.15" stop-color="#ea4e0d"/><stop offset="0.175" stop-color="#ef5811"/><stop offset="0.2" stop-color="#f46617"/><stop offset="0.225" stop-color="#f8721c"/><stop offset="0.25" stop-color="#fb7e21"/><stop offset="0.275" stop-color="#fd8d27"/><stop offset="0.3" stop-color="#fe9e2f"/><stop offset="0.325" stop-color="#fcb136"/><stop offset="0.35" stop-color="#f8be39"/><stop offset="0.375" stop-color="#efcd3a"/><stop offset="0.4" stop-color="#e7d739"/><stop offset="0.425" stop-color="#dfdf37"/><stop offset="0.45" stop-color="#d9e436"/><stop offset="0.475" stop-color="#d7e535"/><stop offset="0.5" stop-color="#d4e735"/><stop offset="0.525" stop-color="#d4e735"/><stop offset="0.55" stop-color="#d4e735"/><stop offset="0.575" stop-color="#d4e735"/><stop offset="0.6" stop-color="#d4e735"/><stop offset="0.625" stop-color="#d7e535"/><stop offset="0.65" stop-color="#dbe236"/><stop offset="0.675" stop-color="#dfdf37"/><stop offset="0.7" stop-color="#e3db38"/><stop offset="0.725" stop-color="#e5d938"/><stop offset="0.75" stop-color="#e7d739"/><stop offset="0.775" stop-color="#e7d739"/><stop offset="0.8" stop-color="#e7d739"/><stop offset="0.825" stop-color="#e7d739"/><stop offset="0.85" stop-color="#e7d739"/><stop offset="0.875" stop-color="#e5d938"/><stop offset="0.9" stop-color="#e3db38"/><stop offset="0.925" stop-color="#dfdf37"/><stop offset="0.95" stop-color="#dbe236"/><stop offset="0.975" stop-color="#d7e535"/><stop offset="1" stop-color="#d0ea34"/></linearGradient>
<linearGradient id="g72"><stop offset="0" stop-color="#d63506"/><stop offset="0.025" stop-color="#da3907"/><stop offset="0.05" stop-color="#dd3d08"/><stop offset="0.075" stop-color="#df3f08"/><stop offset="0.1" stop-color="#e14109"/><stop offset="0.125" stop-color="#e5470b"/><stop offset="0.15" stop-color="#ea4e0d"/><stop offset="0.175" stop-color="#ef5811"/><stop offset="0.2" stop-color="#f36315"/><stop offset="0.225" stop-color="#f76f1a"/><stop offset="0.25" stop-color="#fa7b1f"/><stop offset="0.275" stop-color="#fd8a26"/><stop offset="0.3" stop-color="#fe9b2d"/><stop offset="0.325" stop-color="#fdac34"/><stop offset="0.35" stop-color="#f9bc39"/><stop offset="0.375" stop-color="#f2c93a"/><stop offset="0.4" stop-color="#e9d539"/><stop offset="0.425" stop-color="#e1dd37"/><stop offset="0.45" stop-color="#dbe236"/><stop offset="0.475" stop-color="#d9e436"/><stop offset="0.5" stop-color="#d7e535"/><stop offset="0.525" stop-color="#d7e535"/><stop offset="0.55" stop-color="#d7e535"/><stop offset="0.575" stop-color="#d4e735"/><stop offset="0.6" stop-color="#d4e735"/><stop offset="0.625" stop-color="#d7e535"/><stop offset="0.65" stop-color="#dbe236"/><stop offset="0.675" stop-color="#dfdf37"/><stop offset="0.7" stop-color="#e3db38"/><stop offset="0.725" stop-color="#e5d938"/><stop offset="0.75" stop-color="#e7d739"/><stop offset="0.775" stop-color="#e7d739"/><stop offset="0.8" stop-color="#e7d739"/><stop offset="0.825" stop-color="#e7d739"/><stop offset="0.85" stop-color="#e7d739"/><stop offset="0.875" stop-color="#e7d739"/><stop offset="0.9" stop-color="#e3db38"/><stop offset="0.925" stop-color="#e1dd37"/><stop offset="0.95" stop-color="#dde037"/><stop offset="0.975" stop-color="#d7e535"/><stop offset="1" stop-color="#d2e935"/></linearGradient>
<linearGradient id="g73"><stop offset="0" stop-color="#d63506"/><stop offset="0.025" stop-color="#da3907"/><stop offset="0.05" stop-color="#dd3d08"/><stop offset="0.075" stop-color="#df3f08"/><stop offset="0.1" stop-color="#e14109"/><stop offset="0.125" stop-color="#e4450a"/><stop offset="0.15" stop-color="#e84b0c"/><stop offset="0.175" stop-color="#ed5510"/><stop offset="0.2" stop-color="#f15d13"/><stop offset="0.225" stop-color="#f66c19"/><stop offset="0.25" stop-color="#f9781e"/><stop offset="0.275" stop-color="#fc8725"/><stop offset="0.3" stop-color="#fe992c"/><stop offset="0.325" stop-color="#fea933"/><stop offset="0.35" stop-color="#fbb838"/><stop offset="0.375" stop-color="#f4c73a"/><stop offset="0.4" stop-color="#ecd13a"/><stop offset="0.425" stop-color="#e3db38"/><stop offset="0.45" stop-color="#dfdf37"/><stop offset="0.475" stop-color="#dbe236"/><stop offset="0.5" stop-color="#d9e436"/><stop offset="0.525" stop-color="#d9e436"/><stop offset="0.55" stop-color="#d7e535"/><stop offset="0.575" stop-color="#d7e535"/><stop offset="0.6" stop-color="#d4e735"/><stop offset="0.625" stop-color="#d7e535"/><stop offset="0.65" stop-color="#dbe236"/><stop offset="0.675" stop-color="#dfdf37"/><stop offset="0.7" stop-color="#e3db38"/><stop offset="0.725" stop-color="#e5d938"/><stop offset="0.75" stop-color="#e7d739"/><stop offset="0.775" stop-color="#e7d739"/><stop offset="0.8" stop-color="#e7d739"/><stop offset="0.825" stop-color="#e7d739"/><stop offset="0.85" stop-color="#e7d739"/><stop offset="0.875" stop-color="#e7d739"/><stop offset="0.9" stop-color="#e5d938"/><stop offset="0.925" stop-color="#e1dd37"/><stop offset="0.95" stop-color="#dde037"/><stop offset="0.975" stop-color="#d9e436"/><stop offset="1" stop-color="#d2e935"/></linearGradient>
<linearGradient id="g74"><stop offset="0" stop-color="#d63506"/><stop offset="0.025" stop-color="#da3907"/><stop offset="0.05" stop-color="#dd3d08"/><stop offset="0.075" stop-color="#df3f08"/><stop offset="0.1" stop-color="#e14109"/><stop offset="0.125" stop-color="#e4450a"/><stop offset="0.15" stop-color="#e7490c"/><stop offset="0.175" stop-color="#eb500e"/><stop offset="0.2" stop-color="#f05b12"/><stop offset="0.225" stop-color="#f46617"/><stop offset="0.25" stop-color="#f9751d"/><stop offset="0.275" stop-color="#fc8423"/><stop offset="0.3" stop-color="#fe932a"/><stop offset="0.325" stop-color="#fea431"/><stop offset="0.35" stop-color="#fbb637"/><stop offset="0.375" stop-color="#f6c33a"/><stop offset="0.4" stop-color="#eecf3a"/><stop offset="0.425" stop-color="#e7d739"/><stop offset="0.45" stop-color="#e1dd37"/><stop offset="0.475" stop-color="#dde037"/><stop offset="0.5" stop-color="#dbe236"/><stop offset="0.525" stop-color="#dbe236"/><stop offset="0.55" stop-color="#d9e436"/><stop offset="0.575" stop-color="#d7e535"/><stop offset="0.6" stop-color="#d7e535"/><stop offset="0.625" stop-color="#d7e535"/><stop offset="0.65" stop-color="#dbe236"/><stop offset="0.675" stop-color="#dfdf37"/><stop offset="0.7" stop-color="#e3db38"/><stop offset="0.725" stop-color="#e5d938"/><stop offset="0.75" stop-color="#e7d739"/><stop offset="0.775" stop-color="#e7d739"/><stop offset="0.8" stop-color="#e7d739"/><stop offset="0.825" stop-color="#e7d739"/><stop offset="0.85" stop-color="#e7d739"/><stop offset="0.875" stop-color="#e5d938"/><stop offset="0.9" stop-color="#e5d938"/><stop offset="0.925" stop-color="#e1dd37"/><stop offset="0.95" stop-color="#dde037"/><stop offset="0.975" stop-color="#d9e436"/><stop offset="1" stop-color="#d4e735"/></linearGradient>
<linearGradient id="g75"><stop offset="0" stop-color="#d63506"/><stop offset="0.025" stop-color="#da3907"/><stop offset="0.05" stop-color="#dd3d08"/><stop offset="0.075" stop-color="#df3f08"/><stop offset="0.1" stop-color="#df3f08"/><stop offset="0.125" stop-color="#e2430a"/><stop offset="0.15" stop-color="#e5470b"/><stop offset="0.175" stop-color="#ea4e0d"/><stop offset="0.2" stop-color="#ef5811"/><stop offset="0.225" stop-color="#f36315"/><stop offset="0.25" stop-color="#f8721c"/><stop offset="0.275" stop-color="#fb8122"/><stop offset="0.3" stop-color="#fe9029"/><stop offset="0.325" stop-color="#fea130"/><stop offset="0.35" stop-color="#fcb136"/><stop offset="0.375" stop-color="#f8be39"/><stop offset="0.4" stop-color="#f2c93a"/><stop offset="0.425" stop-color="#ebd339"/><stop offset="0.45" stop-color="#e5d938"/><stop offset="0.475" stop-color="#e1dd37"/><stop offset="0.5" stop-color="#dfdf37"/><stop offset="0.525" stop-color="#dde037"/><stop offset="0.55" stop-color="#dbe236"/><stop offset="0.575" stop-color="#d9e436"/><stop offset="0.6" stop-color="#d7e535"/><stop offset="0.625" stop-color="#d7e535"/><stop offset="0.65" stop-color="#d9e436"/><stop offset="0.675" stop-color="#dfdf37"/><stop offset="0.7" stop-color="#e3db38"/><stop offset="0.725" stop-color="#e5d938"/><stop offset="0.75" stop-color="#e5d938"/><stop offset="0.775" stop-color="#e5d938"/><stop offset="0.8" stop-color="#e5d938"/><stop offset="0.825" stop-color="#e5d938"/><stop offset="0.85" stop-color="#e5d938"/><stop offset="0.875" stop-color="#e5d938"/><stop offset="0.9" stop-color="#e3db38"/><stop offset="0.925" stop-color="#e1dd37"/><stop offset="0.95" stop-color="#dfdf37"/><stop offset="0.975" stop-color="#dbe236"/><stop offset="1" stop-color="#d4e735"/></linearGradient>
<linearGradient id="g76"><stop offset="0" stop-color="#d63506"/><stop offset="0.025" stop-color="#da3907"/><stop offset="0.05" stop-color="#dc3b07"/><stop offset="0.075" stop-color="#dd3d08"/><stop offset="0.1" stop-color="#df3f08"/><stop offset="0.125" stop-color="#e14109"/><stop offset="0.15" stop-color="#e4450a"/><stop offset="0.175" stop-color="#e7490c"/><stop offset="0.2" stop-color="#ec530f"/><stop offset="0.225" stop-color="#f26014"/><stop offset="0.25" stop-color="#f76f1a"/><stop offset="0.275" stop-color="#fb7e21"/><stop offset="0.3" stop-color="#fd8d27"/><stop offset="0.325" stop-color="#fe9b2d"/><stop offset="0.35" stop-color="#fdac34"/><stop offset="0.375" stop-color="#faba39"/><stop offset="0.4" stop-color="#f5c53a"/><stop offset="0.425" stop-color="#efcd3a"/><stop offset="0.45" stop-color="#e9d539"/><stop offset="0.475" stop-color="#e5d938"/><stop offset="0.5" stop-color="#e1dd37"/><stop offset="0.525" stop-color="#dfdf37"/><stop offset="0.55" stop-color="#dde037"/><stop offset="0.575" stop-color="#dbe236"/><stop offset="0.6" stop-color="#d7e535"/><stop offset="0.625" stop-color="#d7e535"/><stop offset="0.65" stop-color="#d9e436"/><stop offset="0.675" stop-color="#dde037"/><stop offset="0.7" stop-color="#e1dd37"/><stop offset="0.725" stop-color="#e3db38"/><stop offset="0.75" stop-color="#e5d938"/><stop offset="0.775" stop-color="#e5d938"/><stop offset="0.8" stop-color="#e5d938"/><stop offset="0.825" stop-color="#e5d938"/><stop offset="0.85" stop-color="#e5d938"/><stop offset="0.875" stop-color="#e5d938"/><stop offset="0.9" stop-color="#e3db38"/><stop offset="0.925" stop-color="#e1dd37"/><stop offset="0.95" stop-color="#dfdf37"/><stop offset="0.975" stop-color="#dbe236"/><stop offset="1" stop-color="#d4e735"/></linearGradient>
<linearGradient id="g77"><stop offset="0" stop-color="#d63506"/><stop offset="0.025" stop-color="#da3907"/><stop offset="0.05" stop-color="#dc3b07"/><stop offset="0.075" stop-color="#dd3d08"/><stop offset="0.1" stop-color="#dd3d08"/><stop offset="0.125" stop-color="#df3f08"/><stop offset="0.15" stop-color="#e14109"/><stop offset="0.175" stop-color="#e4450a"/><stop offset="0.2" stop-color="#ea4e0d"/><stop offset="0.225" stop-color="#f05b12"/><stop offset="0.25" stop-color="#f66c19"/><stop offset="0.275" stop-color="#fa7b1f"/><stop offset="0.3" stop-color="#fd8a26"/><stop offset="0.325" stop-color="#fe992c"/><stop offset="0.35" stop-color="#fea732"/><stop offset="0.375" stop-color="#fcb336"/><stop offset="0.4" stop-color="#f8be39"/><stop offset="0.425" stop-color="#f4c73a"/><stop offset="0.45" stop-color="#eecf3a"/><stop offset="0.475" stop-color="#ebd339"/><stop offset="0.5" stop-color="#e5d938"/><stop offset="0.525" stop-color="#e3db38"/><stop offset="0.55" stop-color="#dfdf37"/><stop offset="0.575" stop-color="#dbe236"/><stop offset="0.6" stop-color="#d9e436"/><stop offset="0.625" stop-color="#d7e535"/><stop offset="0.65" stop-color="#d9e436"/><stop offset="0.675" stop-color="#dde037"/><stop offset="0.7" stop-color="#dfdf37"/><stop offset="0.725" stop-color="#e1dd37"/><stop offset="0.75" stop-color="#e3db38"/><stop offset="0.775" stop-color="#e3db38"/><stop offset="0.8" stop-color="#e3db38"/><stop offset="0.825" stop-color="#e3db38"/><stop offset="0.85" stop-color="#e3db38"/><stop offset="0.875" stop-color="#e3db38"/><stop offset="0.9" stop-color="#e3db38"/><stop offset="0.925" stop-color="#e1dd37"/><stop offset="0.95" stop-color="#dde037"/><stop offset="0.975" stop-color="#dbe236"/><stop offset="1" stop-color="#d7e535"/></linearGradient>
<linearGradient id="g78"><stop offset="0" stop-color="#d63506"/><stop offset="0.025" stop-color="#d83706"/><stop offset="0.05" stop-color="#da3907"/><stop offset="0.075" stop-color="#dc3b07"/><stop offset="0.1" stop-color="#dd3d08"/><stop offset="0.125" stop-color="#dd3d08"/><stop offset="0.15" stop-color="#df3f08"/><stop offset="0.175" stop-color="#e2430a"/><stop offset="0.2" stop-color="#e7490c"/><stop offset="0.225" stop-color="#ef5811"/><stop offset="0.25" stop-color="#f56918"/><stop offset="0.275" stop-color="#f9781e"/><stop offset="0.3" stop-color="#fc8725"/><stop offset="0.325" stop-color="#fe932a"/><stop offset="0.35" stop-color="#fea130"/><stop offset="0.375" stop-color="#fdae35"/><stop offset="0.4" stop-color="#fbb838"/><stop offset="0.425" stop-color="#f7c13a"/><stop offset="0.45" stop-color="#f2c93a"/><stop offset="0.475" stop-color="#eecf3a"/><stop offset="0.5" stop-color="#ebd339"/><stop offset="0.525" stop-color="#e5d938"/><stop offset="0.55" stop-color="#e1dd37"/><stop offset="0.575" stop-color="#dbe236"/><stop offset="0.6" stop-color="#d9e436"/><stop offset="0.625" stop-color="#d7e535"/><stop offset="0.65" stop-color="#d9e436"/><stop offset="0.675" stop-color="#dbe236"/><stop offset="0.7" stop-color="#dde037"/><stop offset="0.725" stop-color="#dfdf37"/><stop offset="0.75" stop-color="#e1dd37"/><stop offset="0.775" stop-color="#e1dd37"/><stop offset="0.8" stop-color="#e1dd37"/><stop offset="0.825" stop-color="#e1dd37"/><stop offset="0.85" stop-color="#e1dd37"/><stop offset="0.875" stop-color="#e3db38"/><stop offset="0.9" stop-color="#e1dd37"/><stop offset="0.925" stop-color="#dfdf37"/><stop offset="0.95" stop-color="#dde037"/><stop offset="0.975" stop-color="#dbe236"/><stop offset="1" stop-color="#d7e535"/></linearGradient>
<linearGradient id="g79"><stop offset="0" stop-color="#d63506"/><stop offset="0.025" stop-color="#d83706"/><stop offset="0.05" stop-color="#da3907"/><stop offset="0.075" stop-color="#da3907"/><stop offset="0.1" stop-color="#dc3b07"/><stop offset="0.125" stop-color="#dc3b07"/><stop offset="0.15" stop-color="#dc3b07"/><stop offset="0.175" stop-color="#df3f08"/><stop offset="0.2" stop-color="#e4450a"/><stop offset="0.225" stop-color="#ec530f"/><stop offset="0.25" stop-color="#f36315"/><stop offset="0.275" stop-color="#f9751d"/><stop offset="0.3" stop-color="#fb8122"/><stop offset="0.325" stop-color="#fe9029"/><stop offset="0.35" stop-color="#fe9b2d"/><stop offset="0.375" stop-color="#fea732"/><stop offset="0.4" stop-color="#fcb136"/><stop offset="0.425" stop-color="#faba39"/><stop offset="0.45" stop-color="#f7c13a"/><stop offset="0.475" stop-color="#f2c93a"/><stop offset="0.5" stop-color="#eecf3a"/><stop offset="0.525" stop-color="#e9d539"/><stop offset="0.55" stop-color="#e3db38"/><stop offset="0.575" stop-color="#dde037"/><stop offset="0.6" stop-color="#d9e436"/><stop offset="0.625" stop-color="#d7e535"/><stop offset="0.65" stop-color="#d7e535"/><stop offset="0.675" stop-color="#d9e436"/><stop offset="0.7" stop-color="#dbe236"/><stop offset="0.725" stop-color="#dde037"/><stop offset="0.75" stop-color="#dfdf37"/><stop offset="0.775" stop-color="#dfdf37"/><stop offset="0.8" stop-color="#dfdf37"/><stop offset="0.825" stop-color="#dfdf37"/><stop offset="0.85" stop-color="#e1dd37"/><stop offset="0.875" stop-color="#e1dd37"/><stop offset="0.9" stop-color="#e1dd37"/><stop offset="0.925" stop-color="#dfdf37"/><stop offset="0.95" stop-color="#dde037"/><stop offset="0.975" stop-color="#dbe236"/><stop offset="1" stop-color="#d7e535"/></linearGradient>
<linearGradient id="g80"><stop offset="0" stop-color="#d63506"/><stop offset="0.025" stop-color="#d83706"/><stop offset="0.05" stop-color="#d83706"/><stop offset="0.075" stop-color="#da3907"/><stop offset="0.1" stop-color="#da3907"/><stop offset="0.125" stop-color="#da3907"/><stop offset="0.15" stop-color="#da3907"/><stop offset="0.175" stop-color="#dc3b07"/><stop offset="0.2" stop-color="#e14109"/><stop offset="0.225" stop-color="#ea4e0d"/><stop offset="0.25" stop-color="#f26014"/><stop offset="0.275" stop-color="#f76f1a"/><stop offset="0.3" stop-color="#fb7e21"/><stop offset="0.325" stop-color="#fd8a26"/><stop offset="0.35" stop-color="#fe962b"/><stop offset="0.375" stop-color="#fe9e2f"/><stop offset="0.4" stop-color="#fea933"/><stop offset="0.425" stop-color="#fcb336"/><stop offset="0.45" stop-color="#faba39"/><stop offset="0.475" stop-color="#f6c33a"/><stop offset="0.5" stop-color="#f2c93a"/><stop offset="0.525" stop-color="#ecd13a"/><stop offset="0.55" stop-color="#e5d938"/><stop offset="0.575" stop-color="#dde037"/><stop offset="0.6" stop-color="#d9e436"/><stop offset="0.625" stop-color="#d7e535"/><stop offset="0.65" stop-color="#d7e535"/><stop offset="0.675" stop-color="#d7e535"/><stop offset="0.7" stop-color="#d9e436"/><stop offset="0.725" stop-color="#dbe236"/><stop offset="0.75" stop-color="#dde037"/><stop offset="0.775" stop-color="#dde037"/><stop offset="0.8" stop-color="#dde037"/><stop offset="0.825" stop-color="#dde037"/><stop offset="0.85" stop-color="#dfdf37"/><stop offset="0.875" stop-color="#dfdf37"/><stop offset="0.9" stop-color="#dfdf37"/><stop offset="0.925" stop-color="#dde037"/><stop offset="0.95" stop-color="#dde037"/><stop offset="0.975" stop-color="#dbe236"/><stop offset="1" stop-color="#d7e535"/></linearGradient>
<linearGradient id="g81"><stop offset="0" stop-color="#d83706"/><stop offset="0.025" stop-color="#d63506"/><stop offset="0.05" stop-color="#d83706"/><stop offset="0.075" stop-color="#d83706"/><stop offset="0.1" stop-color="#da3907"/><stop offset="0.125" stop-color="#d83706"/><stop offset="0.15" stop-color="#d83706"/><stop offset="0.175" stop-color="#d83706"/><stop offset="0.2" stop-color="#dd3d08"/><stop offset="0.225" stop-color="#e7490c"/><stop offset="0.25" stop-color="#f05b12"/><stop offset="0.275" stop-color="#f66c19"/><stop offset="0.3" stop-color="#fa7b1f"/><stop offset="0.325" stop-color="#fc8423"/><stop offset="0.35" stop-color="#fe9029"/><stop offset="0.375" stop-color="#fe992c"/><stop offset="0.4" stop-color="#fea130"/><stop offset="0.425" stop-color="#fdac34"/><stop offset="0.45" stop-color="#fcb336"/><stop offset="0.475" stop-color="#f9bc39"/><stop offset="0.5" stop-color="#f5c53a"/><stop offset="0.525" stop-color="#eecf3a"/><stop offset="0.55" stop-color="#e7d739"/><stop offset="0.575" stop-color="#dfdf37"/><stop offset="0.6" stop-color="#d9e436"/><stop offset="0.625" stop-color="#d7e535"/><stop offset="0.65" stop-color="#d7e535"/><stop offset="0.675" stop-color="#d7e535"/><stop offset="0.7" stop-color="#d7e535"/><stop offset="0.725" stop-color="#d9e436"/><stop offset="0.75" stop-color="#d9e436"/><stop offset="0.775" stop-color="#dbe236"/><stop offset="0.8" stop-color="#dbe236"/><stop offset="0.825" stop-color="#dbe236"/><stop offset="0.85" stop-color="#dde037"/><stop offset="0.875" stop-color="#dde037"/><stop offset="0.9" stop-color="#dde037"/><stop offset="0.925" stop-color="#dde037"/><stop offset="0.95" stop-color="#dbe236"/><stop offset="0.975" stop-color="#dbe236"/><stop offset="1" stop-color="#d7e535"/></linearGradient>
<linearGradient id="g82"><stop offset="0" stop-color="#d83706"/><stop offset="0.025" stop-color="#d63506"/><stop offset="0.05" stop-color="#d63506"/><stop offset="0.075" stop-color="#d83706"/><stop offset="0.1" stop-color="#d83706"/><stop offset="0.125" stop-color="#d63506"/><stop offset="0.15" stop-color="#d63506"/><stop offset="0.175" stop-color="#d63506"/><stop offset="0.2" stop-color="#dc3b07"/><stop offset="0.225" stop-color="#e4450a"/><stop offset="0.25" stop-color="#ed5510"/><stop offset="0.275" stop-color="#f46617"/><stop offset="0.3" stop-color="#f9751d"/><stop offset="0.325" stop-color="#fb8122"/><stop offset="0.35" stop-color="#fd8a26"/><stop offset="0.375" stop-color="#fe9029"/><stop offset="0.4" stop-color="#fe992c"/><stop offset="0.425" stop-color="#fea431"/><stop offset="0.45" stop-color="#fdac34"/><stop offset="0.475" stop-color="#fbb637"/><stop offset="0.5" stop-color="#f8be39"/><stop offset="0.525" stop-color="#f1cb3a"/><stop offset="0.55" stop-color="#e9d539"/><stop offset="0.575" stop-color="#e1dd37"/><stop offset="0.6" stop-color="#dbe236"/><stop offset="0.625" stop-color="#d7e535"/><stop offset="0.65" stop-color="#d4e735"/><stop offset="0.675" stop-color="#d4e735"/><stop offset="0.7" stop-color="#d4e735"/><stop offset="0.725" stop-color="#d7e535"/><stop offset="0.75" stop-color="#d7e535"/><stop offset="0.775" stop-color="#d9e436"/><stop offset="0.8" stop-color="#d9e436"/><stop offset="0.825" stop-color="#d9e436"/><stop offset="0.85" stop-color="#dbe236"/><stop offset="0.875" stop-color="#dbe236"/><stop offset="0.9" stop-color="#dde037"/><stop offset="0.925" stop-color="#dde037"/><stop offset="0.95" stop-color="#dbe236"/><stop offset="0.975" stop-color="#dbe236"/><stop offset="1" stop-color="#d9e436"/></linearGradient>
<linearGradient id="g83"><stop offset="0" stop-color="#d83706"/><stop offset="0.025" stop-color="#d83706"/><stop offset="0.05" stop-color="#d63506"/><stop offset="0.075" stop-color="#d63506"/><stop offset="0.1" stop-color="#d63506"/><stop offset="0.125" stop-color="#d63506"/><stop offset="0.15" stop-color="#d43305"/><stop offset="0.175" stop-color="#d43305"/><stop offset="0.2" stop-color="#da3907"/><stop offset="0.225" stop-color="#e2430a"/><stop offset="0.25" stop-color="#eb500e"/><stop offset="0.275" stop-color="#f15d13"/><stop offset="0.3" stop-color="#f76f1a"/><stop offset="0.325" stop-color="#fa7b1f"/><stop offset="0.35" stop-color="#fc8423"/><stop offset="0.375" stop-color="#fd8a26"/><stop offset="0.4" stop-color="#fe932a"/><stop offset="0.425" stop-color="#fe9e2f"/><stop offset="0.45" stop-color="#fea732"/><stop offset="0.475" stop-color="#fdae35"/><stop offset="0.5" stop-color="#faba39"/><stop offset="0.525" stop-color="#f5c53a"/><stop offset="0.55" stop-color="#ebd339"/><stop offset="0.575" stop-color="#e1dd37"/><stop offset="0.6" stop-color="#dbe236"/><stop offset="0.625" stop-color="#d7e535"/><stop offset="0.65" stop-color="#d4e735"/><stop offset="0.675" stop-color="#d4e735"/><stop offset="0.7" stop-color="#d4e735"/><stop offset="0.725" stop-color="#d4e735"/><stop offset="0.75" stop-color="#d4e735"/><stop offset="0.775" stop-color="#d7e535"/><stop offset="0.8" stop-color="#d7e535"/><stop offset="0.825" stop-color="#d7e535"/><stop offset="0.85" stop-color="#d9e436"/><stop offset="0.875" stop-color="#dbe236"/><stop offset="0.9" stop-color="#dbe236"/><stop offset="0.925" stop-color="#dbe236"/><stop offset="0.95" stop-color="#dbe236"/><stop offset="0.975" stop-color="#dbe236"/><stop offset="1" stop-color="#d9e436"/></linearGradient>
<linearGradient id="g84"><stop offset="0" stop-color="#d83706"/><stop offset="0.025" stop-color="#d83706"/><stop offset="0.05" stop-color="#d63506"/><stop offset="0.075" stop-color="#d63506"/><stop offset="0.1" stop-color="#d63506"/><stop offset="0.125" stop-color="#d43305"/><stop offset="0.15" stop-color="#d23105"/><stop offset="0.175" stop-color="#d23105"/><stop offset="0.2" stop-color="#d83706"/><stop offset="0.225" stop-color="#df3f08"/><stop offset="0.25" stop-color="#e7490c"/><stop offset="0.275" stop-color="#ef5811"/><stop offset="0.3" stop-color="#f46617"/><stop offset="0.325" stop-color="#f8721c"/><stop offset="0.35" stop-color="#fb7e21"/><stop offset="0.375" stop-color="#fc8725"/><stop offset="0.4" stop-color="#fe9029"/><stop offset="0.425" stop-color="#fe992c"/><stop offset="0.45" stop-color="#fea130"/><stop offset="0.475" stop-color="#fea933"/><stop offset="0.5" stop-color="#fcb336"/><stop offset="0.525" stop-color="#f7c13a"/><stop offset="0.55" stop-color="#eecf3a"/><stop offset="0.575" stop-color="#e3db38"/><stop offset="0.6" stop-color="#dbe236"/><stop offset="0.625" stop-color="#d7e535"/><stop offset="0.65" stop-color="#d4e735"/><stop offset="0.675" stop-color="#d2e935"/><stop offset="0.7" stop-color="#d2e935"/><stop offset="0.725" stop-color="#d2e935"/><stop offset="0.75" stop-color="#d2e935"/><stop offset="0.775" stop-color="#d4e735"/><stop offset="0.8" stop-color="#d4e735"/><stop offset="0.825" stop-color="#d7e535"/><stop offset="0.85" stop-color="#d7e535"/><stop offset="0.875" stop-color="#d9e436"/><stop offset="0.9" stop-color="#dbe236"/><stop offset="0.925" stop-color="#dbe236"/><stop offset="0.95" stop-color="#dbe236"/><stop offset="0.975" stop-color="#dbe236"/><stop offset="1" stop-color="#d9e436"/></linearGradient>
<linearGradient id="g85"><stop offset="0" stop-color="#d83706"/><stop offset="0.025" stop-color="#d83706"/><stop offset="0.05" stop-color="#d83706"/><stop offset="0.075" stop-color="#d63506"/><stop offset="0.1" stop-color="#d43305"/><stop offset="0.125" stop-color="#d23105"/><stop offset="0.15" stop-color="#d23105"/><stop offset="0.175" stop-color="#d23105"/><stop offset="0.2" stop-color="#d63506"/><stop offset="0.225" stop-color="#dc3b07"/><stop offset="0.25" stop-color="#e4450a"/><stop offset="0.275" stop-color="#eb500e"/><stop offset="0.3" stop-color="#f26014"/><stop offset="0.325" stop-color="#f66c19"/><stop offset="0.35" stop-color="#f9781e"/><stop offset="0.375" stop-color="#fb8122"/><stop offset="0.4" stop-color="#fd8a26"/><stop offset="0.425" stop-color="#fe932a"/><stop offset="0.45" stop-color="#fe9b2d"/><stop offset="0.475" stop-color="#fea431"/><stop offset="0.5" stop-color="#fdae35"/><stop offset="0.525" stop-color="#f9bc39"/><stop offset="0.55" stop-color="#efcd3a"/><stop offset="0.575" stop-color="#e5d938"/><stop offset="0.6" stop-color="#dde037"/><stop offset="0.625" stop-color="#d7e535"/><stop offset="0.65" stop-color="#d2e935"/><stop offset="0.675" stop-color="#d2e935"/><stop offset="0.7" stop-color="#d2e935"/><stop offset="0.725" stop-color="#d2e935"/><stop offset="0.75" stop-color="#d2e935"/><stop offset="0.775" stop-color="#d2e935"/><stop offset="0.8" stop-color="#d2e935"/><stop offset="0.825" stop-color="#d4e735"/><stop offset="0.85" stop-color="#d7e535"/><stop offset="0.875" stop-color="#d7e535"/><stop offset="0.9" stop-color="#d9e436"/><stop offset="0.925" stop-color="#dbe236"/><stop offset="0.95" stop-color="#dbe236"/><stop offset="0.975" stop-color="#dbe236"/><stop offset="1" stop-color="#dbe236"/></linearGradient>
<linearGradient id="g86"><stop offset="0" stop-color="#da3907"/><stop offset="0.025" stop-color="#da3907"/><stop offset="0.05" stop-color="#d83706"/><stop offset="0.075" stop-color="#d63506"/><stop offset="0.1" stop-color="#d43305"/><stop offset="0.125" stop-color="#d23105"/><stop offset="0.15" stop-color="#d23105"/><stop offset="0.175" stop-color="#d23105"/><stop offset="0.2" stop-color="#d43305"/><stop offset="0.225" stop-color="#d83706"/><stop offset="0.25" stop-color="#df3f08"/><stop offset="0.275" stop-color="#e7490c"/><stop offset="0.3" stop-color="#ef5811"/><stop offset="0.325" stop-color="#f46617"/><stop offset="0.35" stop-color="#f8721c"/><stop offset="0.375" stop-color="#fa7b1f"/><stop offset="0.4" stop-color="#fc8725"/><stop offset="0.425" stop-color="#fd8d27"/><stop offset="0.45" stop-color="#fe962b"/><stop offset="0.475" stop-color="#fe9b2d"/><stop offset="0.5" stop-color="#fea933"/><stop offset="0.525" stop-color="#fbb838"/><stop offset="0.55" stop-color="#f2c93a"/><stop offset="0.575" stop-color="#e7d739"/><stop offset="0.6" stop-color="#dde037"/><stop offset="0.625" stop-color="#d7e535"/><stop offset="0.65" stop-color="#d2e935"/><stop offset="0.675" stop-color="#d2e935"/><stop offset="0.7" stop-color="#d0ea34"/><stop offset="0.725" stop-color="#d0ea34"/><stop offset="0.75" stop-color="#d0ea34"/><stop offset="0.775" stop-color="#d0ea34"/><stop offset="0.8" stop-color="#d2e935"/><stop offset="0.825" stop-color="#d2e935"/><stop offset="0.85" stop-color="#d4e735"/><stop offset="0.875" stop-color="#d7e535"/><stop offset="0.9" stop-color="#d9e436"/><stop offset="0.925" stop-color="#dbe236"/><stop offset="0.95" stop-color="#dbe236"/><stop offset="0.975" stop-color="#dbe236"/><stop offset="1" stop-color="#dbe236"/></linearGradient>
<linearGradient id="g87"><stop offset="0" stop-color="#da3907"/><stop offset="0.025" stop-color="#da3907"/><stop offset="0.05" stop-color="#d83706"/><stop offset="0.075" stop-color="#d63506"/><stop offset="0.1" stop-color="#d43305"/><stop offset="0.125" stop-color="#d23105"/><stop offset="0.15" stop-color="#d23105"/><stop offset="0.175" stop-color="#d23105"/><stop offset="0.2" stop-color="#d43305"/><stop offset="0.225" stop-color="#d63506"/><stop offset="0.25" stop-color="#dc3b07"/><stop offset="0.275" stop-color="#e4450a"/><stop offset="0.3" stop-color="#eb500e"/><stop offset="0.325" stop-color="#f26014"/><stop offset="0.35" stop-color="#f66c19"/><stop offset="0.375" stop-color="#f9781e"/><stop offset="0.4" stop-color="#fb8122"/><stop offset="0.425" stop-color="#fd8a26"/><stop offset="0.45" stop-color="#fe9029"/><stop offset="0.475" stop-color="#fe992c"/><stop offset="0.5" stop-color="#fea431"/><stop offset="0.525" stop-color="#fcb336"/><stop offset="0.55" stop-color="#f5c53a"/><stop offset="0.575" stop-color="#ebd339"/><stop offset="0.6" stop-color="#dfdf37"/><stop offset="0.625" stop-color="#d9e436"/><stop offset="0.65" stop-color="#d4e735"/><stop offset="0.675" stop-color="#d2e935"/><stop offset="0.7" stop-color="#d0ea34"/><stop offset="0.725" stop-color="#d0ea34"/><stop offset="0.75" stop-color="#cdec34"/><stop offset="0.775" stop-color="#d0ea34"/><stop offset="0.8" stop-color="#d0ea34"/><stop offset="0.825" stop-color="#d2e935"/><stop offset="0.85" stop-color="#d4e735"/><stop offset="0.875" stop-color="#d7e535"/><stop offset="0.9" stop-color="#d9e436"/><stop offset="0.925" stop-color="#dbe236"/><stop offset="0.95" stop-color="#dbe236"/><stop offset="0.975" stop-color="#dde037"/><stop offset="1" stop-color="#dbe236"/></linearGradient>
<linearGradient id="g88"><stop offset="0" stop-color="#dc3b07"/><stop offset="0.025" stop-color="#da3907"/><stop offset="0.05" stop-color="#d83706"/><stop offset="0.075" stop-color="#d63506"/><stop offset="0.1" stop-color="#d23105"/><stop offset="0.125" stop-color="#d23105"/><stop offset="0.15" stop-color="#d02f05"/><stop offset="0.175" stop-color="#d23105"/><stop offset="0.2" stop-color="#d23105"/><stop offset="0.225" stop-color="#d43305"/><stop offset="0.25" stop-color="#d83706"/><stop offset="0.275" stop-color="#df3f08"/><stop offset="0.3" stop-color="#e84b0c"/><stop offset="0.325" stop-color="#ef5811"/><stop offset="0.35" stop-color="#f46617"/><stop offset="0.375" stop-color="#f8721c"/><stop offset="0.4" stop-color="#fb7e21"/><stop offset="0.425" stop-color="#fc8725"/><stop offset="0.45" stop-color="#fd8d27"/><stop offset="0.475" stop-color="#fe932a"/><stop offset="0.5" stop-color="#fe9e2f"/><stop offset="0.525" stop-color="#fdae35"/><stop offset="0.55" stop-color="#f7c13a"/><stop offset="0.575" stop-color="#ecd13a"/><stop offset="0.6" stop-color="#e1dd37"/><stop offset="0.625" stop-color="#d9e436"/><stop offset="0.65" stop-color="#d4e735"/><stop offset="0.675" stop-color="#d2e935"/><stop offset="0.7" stop-color="#d0ea34"/><stop offset="0.725" stop-color="#cdec34"/><stop offset="0.75" stop-color="#cdec34"/><stop offset="0.775" stop-color="#cdec34"/><stop offset="0.8" stop-color="#d0ea34"/><stop offset="0.825" stop-color="#d2e935"/><stop offset="0.85" stop-color="#d2e935"/><stop offset="0.875" stop-color="#d4e735"/><stop offset="0.9" stop-color="#d7e535"/><stop offset="0.925" stop-color="#d9e436"/><stop offset="0.95" stop-color="#dbe236"/><stop offset="0.975" stop-color="#dde037"/><stop offset="1" stop-color="#dde037"/></linearGradient>
<linearGradient id="g89"><stop offset="0" stop-color="#dc3b07"/><stop offset="0.025" stop-color="#dc3b07"/><stop offset="0.05" stop-color="#da3907"/><stop offset="0.075" stop-color="#d63506"/><stop offset="0.1" stop-color="#d23105"/><stop offset="0.125" stop-color="#d02f05"/><stop offset="0.15" stop-color="#d02f05"/><stop offset="0.175" stop-color="#d23105"/><stop offset="0.2" stop-color="#d23105"/><stop offset="0.225" stop-color="#d43305"/><stop offset="0.25" stop-color="#d63506"/><stop offset="0.275" stop-color="#dd3d08"/><stop offset="0.3" stop-color="#e4450a"/><stop offset="0.325" stop-color="#ec530f"/><stop offset="0.35" stop-color="#f26014"/><stop offset="0.375" stop-color="#f66c19"/><stop offset="0.4" stop-color="#f9781e"/><stop offset="0.425" stop-color="#fb8122"/><stop offset="0.45" stop-color="#fc8725"/><stop offset="0.475" stop-color="#fd8d27"/><stop offset="0.5" stop-color="#fe992c"/><stop offset="0.525" stop-color="#fdac34"/><stop offset="0.55" stop-color="#f8be39"/><stop offset="0.575" stop-color="#efcd3a"/><stop offset="0.6" stop-color="#e5d938"/><stop offset="0.625" stop-color="#dbe236"/><stop offset="0.65" stop-color="#d7e535"/><stop offset="0.675" stop-color="#d2e935"/><stop offset="0.7" stop-color="#d0ea34"/><stop offset="0.725" stop-color="#cdec34"/><stop offset="0.75" stop-color="#cdec34"/><stop offset="0.775" stop-color="#cdec34"/><stop offset="0.8" stop-color="#d0ea34"/><stop offset="0.825" stop-color="#d2e935"/><stop offset="0.85" stop-color="#d2e935"/><stop offset="0.875" stop-color="#d4e735"/><stop offset="0.9" stop-color="#d7e535"/><stop offset="0.925" stop-color="#d9e436"/><stop offset="0.95" stop-color="#dbe236"/><stop offset="0.975" stop-color="#dde037"/><stop offset="1" stop-color="#dde037"/></linearGradient>
<linearGradient id="g90"><stop offset="0" stop-color="#dd3d08"/><stop offset="0.025" stop-color="#dc3b07"/><stop offset="0.05" stop-color="#da3907"/><stop offset="0.075" stop-color="#d63506"/><stop offset="0.1" stop-color="#d43305"/><stop offset="0.125" stop-color="#d02f05"/><stop offset="0.15" stop-color="#d02f05"/><stop offset="0.175" stop-color="#d23105"/><stop offset="0.2" stop-color="#d23105"/><stop offset="0.225" stop-color="#d23105"/><stop offset="0.25" stop-color="#d43305"/><stop offset="0.275" stop-color="#da3907"/><stop offset="0.3" stop-color="#e14109"/><stop offset="0.325" stop-color="#e84b0c"/><stop offset="0.35" stop-color="#ef5811"/><stop offset="0.375" stop-color="#f46617"/><stop offset="0.4" stop-color="#f8721c"/><stop offset="0.425" stop-color="#fa7b1f"/><stop offset="0.45" stop-color="#fc8423"/><stop offset="0.475" stop-color="#fd8a26"/><stop offset="0.5" stop-color="#fe932a"/><stop offset="0.525" stop-color="#fea732"/><stop offset="0.55" stop-color="#faba39"/><stop offset="0.575" stop-color="#f2c93a"/><stop offset="0.6" stop-color="#e7d739"/><stop offset="0.625" stop-color="#dde037"/><stop offset="0.65" stop-color="#d7e535"/><stop offset="0.675" stop-color="#d4e735"/><stop offset="0.7" stop-color="#d0ea34"/><stop offset="0.725" stop-color="#cdec34"/><stop offset="0.75" stop-color="#cdec34"/><stop offset="0.775" stop-color="#cdec34"/><stop offset="0.8" stop-color="#d0ea34"/><stop offset="0.825" stop-color="#d2e935"/><stop offset="0.85" stop-color="#d2e935"/><stop offset="0.875" stop-color="#d4e735"/><stop offset="0.9" stop-color="#d7e535"/><stop offset="0.925" stop-color="#d9e436"/><stop offset="0.95" stop-color="#dbe236"/><stop offset="0.975" stop-color="#dde037"/><stop offset="1" stop-color="#dbe236"/></linearGradient>
<linearGradient id="g91"><stop offset="0" stop-color="#dd3d08"/><stop offset="0.025" stop-color="#dd3d08"/><stop offset="0.05" stop-color="#da3907"/><stop offset="0.075" stop-color="#d63506"/><stop offset="0.1" stop-color="#d43305"/><stop offset="0.125" stop-color="#d23105"/><stop offset="0.15" stop-color="#d02f05"/><stop offset="0.175" stop-color="#d23105"/><stop offset="0.2" stop-color="#d23105"/><stop offset="0.225" stop-color="#d23105"/><stop offset="0.25" stop-color="#d43305"/><stop offset="0.275" stop-color="#d83706"/><stop offset="0.3" stop-color="#dd3d08"/><stop offset="0.325" stop-color="#e4450a"/><stop offset="0.35" stop-color="#eb500e"/><stop offset="0.375" stop-color="#f26014"/><stop offset="0.4" stop-color="#f66c19"/><stop offset="0.425" stop-color="#f9781e"/><stop offset="0.45" stop-color="#fb7e21"/><stop offset="0.475" stop-color="#fc8423"/><stop offset="0.5" stop-color="#fe9029"/><stop offset="0.525" stop-color="#fea130"/><stop offset="0.55" stop-color="#fbb637"/><stop offset="0.575" stop-color="#f4c73a"/><stop offset="0.6" stop-color="#ebd339"/><stop offset="0.625" stop-color="#e1dd37"/><stop offset="0.65" stop-color="#d9e436"/><stop offset="0.675" stop-color="#d4e735"/><stop offset="0.7" stop-color="#d2e935"/><stop offset="0.725" stop-color="#d0ea34"/><stop offset="0.75" stop-color="#cdec34"/><stop offset="0.775" stop-color="#cdec34"/><stop offset="0.8" stop-color="#d0ea34"/><stop offset="0.825" stop-color="#d2e935"/><stop offset="0.85" stop-color="#d2e935"/><stop offset="0.875" stop-color="#d4e735"/><stop offset="0.9" stop-color="#d7e535"/><stop offset="0.925" stop-color="#d9e436"/><stop offset="0.95" stop-color="#dbe236"/><stop offset="0.975" stop-color="#dbe236"/><stop offset="1" stop-color="#dbe236"/></linearGradient>
<linearGradient id="g92"><stop offset="0" stop-color="#df3f08"/><stop offset="0.025" stop-color="#dd3d08"/><stop offset="0.05" stop-color="#dc3b07"/><stop offset="0.075" stop-color="#d83706"/><stop offset="0.1" stop-color="#d43305"/><stop offset="0.125" stop-color="#d23105"/><stop offset="0.15" stop-color="#d23105"/><stop offset="0.175" stop-color="#d23105"/><stop offset="0.2" stop-color="#d23105"/><stop offset="0.225" stop-color="#d23105"/><stop offset="0.25" stop-color="#d43305"/><stop offset="0.275" stop-color="#d63506"/><stop offset="0.3" stop-color="#da3907"/><stop offset="0.325" stop-color="#e14109"/><stop offset="0.35" stop-color="#e84b0c"/><stop offset="0.375" stop-color="#ef5811"/><stop offset="0.4" stop-color="#f46617"/><stop offset="0.425" stop-color="#f8721c"/><stop offset="0.45" stop-color="#fa7b1f"/><stop offset="0.475" stop-color="#fb8122"/><stop offset="0.5" stop-color="#fd8a26"/><stop offset="0.525" stop-color="#fe9b2d"/><stop offset="0.55" stop-color="#fcb136"/><stop offset="0.575" stop-color="#f7c13a"/><stop offset="0.6" stop-color="#eecf3a"/><stop offset="0.625" stop-color="#e3db38"/><stop offset="0.65" stop-color="#dbe236"/><stop offset="0.675" stop-color="#d7e535"/><stop offset="0.7" stop-color="#d2e935"/><stop offset="0.725" stop-color="#d0ea34"/><stop offset="0.75" stop-color="#d0ea34"/><stop offset="0.775" stop-color="#d0ea34"/><stop offset="0.8" stop-color="#d0ea34"/><stop offset="0.825" stop-color="#d2e935"/><stop offset="0.85" stop-color="#d2e935"/><stop offset="0.875" stop-color="#d4e735"/><stop offset="0.9" stop-color="#d7e535"/><stop offset="0.925" stop-color="#d9e436"/><stop offset="0.95" stop-color="#dbe236"/><stop offset="0.975" stop-color="#dbe236"/><stop offset="1" stop-color="#dbe236"/></linearGradient>
<linearGradient id="g93"><stop offset="0" stop-color="#e14109"/><stop offset="0.025" stop-color="#df3f08"/><stop offset="0.05" stop-color="#dc3b07"/><stop offset="0.075" stop-color="#d83706"/><stop offset="0.1" stop-color="#d43305"/><stop offset="0.125" stop-color="#d23105"/><stop offset="0.15" stop-color="#d23105"/><stop offset="0.175" stop-color="#d23105"/><stop offset="0.2" stop-color="#d23105"/><stop offset="0.225" stop-color="#d23105"/><stop offset="0.25" stop-color="#d43305"/><stop offset="0.275" stop-color="#d43305"/><stop offset="0.3" stop-color="#d63506"/><stop offset="0.325" stop-color="#dd3d08"/><stop offset="0.35" stop-color="#e4450a"/><stop offset="0.375" stop-color="#ec530f"/><stop offset="0.4" stop-color="#f26014"/><stop offset="0.425" stop-color="#f66c19"/><stop offset="0.45" stop-color="#f9751d"/><stop offset="0.475" stop-color="#fa7b1f"/><stop offset="0.5" stop-color="#fc8725"/><stop offset="0.525" stop-color="#fe992c"/><stop offset="0.55" stop-color="#fdac34"/><stop offset="0.575" stop-color="#f9bc39"/><stop offset="0.6" stop-color="#f1cb3a"/><stop offset="0.625" stop-color="#e7d739"/><stop offset="0.65" stop-color="#dfdf37"/><stop offset="0.675" stop-color="#d7e535"/><stop offset="0.7" stop-color="#d2e935"/><stop offset="0.725" stop-color="#d0ea34"/><stop offset="0.75" stop-color="#d0ea34"/><stop offset="0.775" stop-color="#d0ea34"/><stop offset="0.8" stop-color="#d2e935"/><stop offset="0.825" stop-color="#d2e935"/><stop offset="0.85" stop-color="#d4e735"/><stop offset="0.875" stop-color="#d4e735"/><stop offset="0.9" stop-color="#d7e535"/><stop offset="0.925" stop-color="#d9e436"/><stop offset="0.95" stop-color="#dbe236"/><stop offset="0.975" stop-color="#dbe236"/><stop offset="1" stop-color="#dbe236"/></linearGradient>
<linearGradient id="g94"><stop offset="0" stop-color="#e14109"/><stop offset="0.025" stop-color="#df3f08"/><stop offset="0.05" stop-color="#dc3b07"/><stop offset="0.075" stop-color="#da3907"/><stop offset="0.1" stop-color="#d63506"/><stop offset="0.125" stop-color="#d43305"/><stop offset="0.15" stop-color="#d23105"/><stop offset="0.175" stop-color="#d23105"/><stop offset="0.2" stop-color="#d23105"/><stop offset="0.225" stop-color="#d43305"/><stop offset="0.25" stop-color="#d43305"/><stop offset="0.275" stop-color="#d43305"/><stop offset="0.3" stop-color="#d43305"/><stop offset="0.325" stop-color="#d83706"/><stop offset="0.35" stop-color="#e14109"/><stop offset="0.375" stop-color="#e84b0c"/><stop offset="0.4" stop-color="#ef5811"/><stop offset="0.425" stop-color="#f46617"/><stop offset="0.45" stop-color="#f76f1a"/><stop offset="0.475" stop-color="#f9781e"/><stop offset="0.5" stop-color="#fc8423"/><stop offset="0.525" stop-color="#fe932a"/><stop offset="0.55" stop-color="#fea732"/><stop offset="0.575" stop-color="#fbb838"/><stop offset="0.6" stop-color="#f4c73a"/><stop offset="0.625" stop-color="#ebd339"/><stop offset="0.65" stop-color="#e1dd37"/><stop offset="0.675" stop-color="#d9e436"/><stop offset="0.7" stop-color="#d4e735"/><stop offset="0.725" stop-color="#d2e935"/><stop offset="0.75" stop-color="#d0ea34"/><stop offset="0.775" stop-color="#d0ea34"/><stop offset="0.8" stop-color="#d2e935"/><stop offset="0.825" stop-color="#d2e935"/><stop offset="0.85" stop-color="#d4e735"/><stop offset="0.875" stop-color="#d4e735"/><stop offset="0.9" stop-color="#d7e535"/><stop offset="0.925" stop-color="#d9e436"/><stop offset="0.95" stop-color="#dbe236"/><stop offset="0.975" stop-color="#dbe236"/><stop offset="1" stop-color="#d9e436"/></linearGradient>
<linearGradient id="g95"><stop offset="0" stop-color="#e2430a"/><stop offset="0.025" stop-color="#e14109"/><stop offset="0.05" stop-color="#dd3d08"/><stop offset="0.075" stop-color="#da3907"/><stop offset="0.1" stop-color="#d63506"/><stop offset="0.125" stop-color="#d43305"/><stop offset="0.15" stop-color="#d23105"/><stop offset="0.175" stop-color="#d23105"/><stop offset="0.2" stop-color="#d23105"/><stop offset="0.225" stop-color="#d43305"/><stop offset="0.25" stop-color="#d43305"/><stop offset="0.275" stop-color="#d23105"/><stop offset="0.3" stop-color="#d23105"/><stop offset="0.325" stop-color="#d43305"/><stop offset="0.35" stop-color="#dc3b07"/><stop offset="0.375" stop-color="#e4450a"/><stop offset="0.4" stop-color="#eb500e"/><stop offset="0.425" stop-color="#f15d13"/><stop offset="0.45" stop-color="#f56918"/><stop offset="0.475" stop-color="#f8721c"/><stop offset="0.5" stop-color="#fb7e21"/><stop offset="0.525" stop-color="#fd8d27"/><stop offset="0.55" stop-color="#fea130"/><stop offset="0.575" stop-color="#fcb336"/><stop offset="0.6" stop-color="#f6c33a"/><stop offset="0.625" stop-color="#ecd13a"/><stop offset="0.65" stop-color="#e3db38"/><stop offset="0.675" stop-color="#dbe236"/><stop offset="0.7" stop-color="#d4e735"/><stop offset="0.725" stop-color="#d2e935"/><stop offset="0.75" stop-color="#d2e935"/><stop offset="0.775" stop-color="#d2e935"/><stop offset="0.8" stop-color="#d2e935"/><stop offset="0.825" stop-color="#d2e935"/><stop offset="0.85" stop-color="#d4e735"/><stop offset="0.875" stop-color="#d4e735"/><stop offset="0.9" stop-color="#d7e535"/><stop offset="0.925" stop-color="#d9e436"/><stop offset="0.95" stop-color="#d9e436"/><stop offset="0.975" stop-color="#dbe236"/><stop offset="1" stop-color="#d9e436"/></linearGradient>
<linearGradient id="g96"><stop offset="0" stop-color="#e4450a"/><stop offset="0.025" stop-color="#e14109"/><stop offset="0.05" stop-color="#dd3d08"/><stop offset="0.075" stop-color="#dc3b07"/><stop offset="0.1" stop-color="#d83706"/><stop offset="0.125" stop-color="#d63506"/><stop offset="0.15" stop-color="#d43305"/><stop offset="0.175" stop-color="#d23105"/><stop offset="0.2" stop-color="#d43305"/><stop offset="0.225" stop-color="#d43305"/><stop offset="0.25" stop-color="#d43305"/><stop offset="0.275" stop-color="#d23105"/><stop offset="0.3" stop-color="#d02f05"/><stop offset="0.325" stop-color="#d23105"/><stop offset="0.35" stop-color="#d83706"/><stop offset="0.375" stop-color="#e14109"/><stop offset="0.4" stop-color="#e84b0c"/><stop offset="0.425" stop-color="#ed5510"/><stop offset="0.45" stop-color="#f36315"/><stop offset="0.475" stop-color="#f66c19"/><stop offset="0.5" stop-color="#f9781e"/><stop offset="0.525" stop-color="#fd8a26"/><stop offset="0.55" stop-color="#fe9b2d"/><stop offset="0.575" stop-color="#fdae35"/><stop offset="0.6" stop-color="#f8be39"/><stop offset="0.625" stop-color="#efcd3a"/><stop offset="0.65" stop-color="#e5d938"/><stop offset="0.675" stop-color="#dde037"/><stop offset="0.7" stop-color="#d7e535"/><stop offset="0.725" stop-color="#d4e735"/><stop offset="0.75" stop-color="#d2e935"/><stop offset="0.775" stop-color="#d2e935"/><stop offset="0.8" stop-color="#d2e935"/><stop offset="0.825" stop-color="#d2e935"/><stop offset="0.85" stop-color="#d4e735"/><stop offset="0.875" stop-color="#d4e735"/><stop offset="0.9" stop-color="#d7e535"/><stop offset="0.925" stop-color="#d9e436"/><stop offset="0.95" stop-color="#d9e436"/><stop offset="0.975" stop-color="#d9e436"/><stop offset="1" stop-color="#d9e436"/></linearGradient>
<linearGradient id="g97"><stop offset="0" stop-color="#e4450a"/><stop offset="0.025" stop-color="#e2430a"/><stop offset="0.05" stop-color="#df3f08"/><stop offset="0.075" stop-color="#dc3b07"/><stop offset="0.1" stop-color="#da3907"/><stop offset="0.125" stop-color="#d63506"/><stop offset="0.15" stop-color="#d43305"/><stop offset="0.175" stop-color="#d43305"/><stop offset="0.2" stop-color="#d43305"/><stop offset="0.225" stop-color="#d43305"/><stop offset="0.25" stop-color="#d43305"/><stop offset="0.275" stop-color="#d02f05"/><stop offset="0.3" stop-color="#ce2d04"/><stop offset="0.325" stop-color="#ce2d04"/><stop offset="0.35" stop-color="#d43305"/><stop offset="0.375" stop-color="#dc3b07"/><stop offset="0.4" stop-color="#e4450a"/><stop offset="0.425" stop-color="#eb500e"/><stop offset="0.45" stop-color="#f05b12"/><stop offset="0.475" stop-color="#f46617"/><stop offset="0.5" stop-color="#f8721c"/><stop offset="0.525" stop-color="#fc8423"/><stop offset="0.55" stop-color="#fe962b"/><stop offset="0.575" stop-color="#fea933"/><stop offset="0.6" stop-color="#faba39"/><stop offset="0.625" stop-color="#f2c93a"/><stop offset="0.65" stop-color="#e7d739"/><stop offset="0.675" stop-color="#dfdf37"/><stop offset="0.7" stop-color="#d9e436"/><stop offset="0.725" stop-color="#d4e735"/><stop offset="0.75" stop-color="#d4e735"/><stop offset="0.775" stop-color="#d2e935"/><stop offset="0.8" stop-color="#d2e935"/><stop offset="0.825" stop-color="#d2e935"/><stop offset="0.85" stop-color="#d4e735"/><stop offset="0.875" stop-color="#d4e735"/><stop offset="0.9" stop-color="#d7e535"/><stop offset="0.925" stop-color="#d9e436"/><stop offset="0.95" stop-color="#d9e436"/><stop offset="0.975" stop-color="#d9e436"/><stop offset="1" stop-color="#d9e436"/></linearGradient>
<linearGradient id="g98"><stop offset="0" stop-color="#e5470b"/><stop offset="0.025" stop-color="#e2430a"/><stop offset="0.05" stop-color="#df3f08"/><stop offset="0.075" stop-color="#dd3d08"/><stop offset="0.1" stop-color="#da3907"/><stop offset="0.125" stop-color="#d83706"/><stop offset="0.15" stop-color="#d63506"/><stop offset="0.175" stop-color="#d43305"/><stop offset="0.2" stop-color="#d43305"/><stop offset="0.225" stop-color="#d43305"/><stop offset="0.25" stop-color="#d23105"/><stop offset="0.275" stop-color="#d02f05"/><stop offset="0.3" stop-color="#cc2b04"/><stop offset="0.325" stop-color="#cc2b04"/><stop offset="0.35" stop-color="#d02f05"/><stop offset="0.375" stop-color="#d83706"/><stop offset="0.4" stop-color="#df3f08"/><stop offset="0.425" stop-color="#e7490c"/><stop offset="0.45" stop-color="#ec530f"/><stop offset="0.475" stop-color="#f15d13"/><stop offset="0.5" stop-color="#f66c19"/><stop offset="0.525" stop-color="#fb7e21"/><stop offset="0.55" stop-color="#fe9029"/><stop offset="0.575" stop-color="#fea431"/><stop offset="0.6" stop-color="#fbb838"/><stop offset="0.625" stop-color="#f4c73a"/><stop offset="0.65" stop-color="#e9d539"/><stop offset="0.675" stop-color="#dfdf37"/><stop offset="0.7" stop-color="#d9e436"/><stop offset="0.725" stop-color="#d7e535"/><stop offset="0.75" stop-color="#d4e735"/><stop offset="0.775" stop-color="#d4e735"/><stop offset="0.8" stop-color="#d2e935"/><stop offset="0.825" stop-color="#d2e935"/><stop offset="0.85" stop-color="#d4e735"/><stop offset="0.875" stop-color="#d4e735"/><stop offset="0.9" stop-color="#d7e535"/><stop offset="0.925" stop-color="#d9e436"/><stop offset="0.95" stop-color="#d9e436"/><stop offset="0.975" stop-color="#d9e436"/><stop offset="1" stop-color="#d7e535"/></linearGradient>
<linearGradient id="g99"><stop offset="0" stop-color="#e7490c"/><stop offset="0.025" stop-color="#e4450a"/><stop offset="0.05" stop-color="#e14109"/><stop offset="0.075" stop-color="#dd3d08"/><stop offset="0.1" stop-color="#dc3b07"/><stop offset="0.125" stop-color="#da3907"/><stop offset="0.15" stop-color="#d83706"/><stop offset="0.175" stop-color="#d63506"/><stop offset="0.2" stop-color="#d43305"/><stop offset="0.225" stop-color="#d43305"/><stop offset="0.25" stop-color="#d23105"/><stop offset="0.275" stop-color="#ce2d04"/><stop offset="0.3" stop-color="#cc2b04"/><stop offset="0.325" stop-color="#ca2a04"/><stop offset="0.35" stop-color="#ce2d04"/><stop offset="0.375" stop-color="#d43305"/><stop offset="0.4" stop-color="#da3907"/><stop offset="0.425" stop-color="#e14109"/><stop offset="0.45" stop-color="#e84b0c"/><stop offset="0.475" stop-color="#ef5811"/><stop offset="0.5" stop-color="#f46617"/><stop offset="0.525" stop-color="#f9751d"/><stop offset="0.55" stop-color="#fc8725"/><stop offset="0.575" stop-color="#fe9e2f"/><stop offset="0.6" stop-color="#fcb336"/><stop offset="0.625" stop-color="#f5c53a"/><stop offset="0.65" stop-color="#ebd339"/><stop offset="0.675" stop-color="#e1dd37"/><stop offset="0.7" stop-color="#dbe236"/><stop offset="0.725" stop-color="#d7e535"/><stop offset="0.75" stop-color="#d4e735"/><stop offset="0.775" stop-color="#d4e735"/><stop offset="0.8" stop-color="#d2e935"/><stop offset="0.825" stop-color="#d2e935"/><stop offset="0.85" stop-color="#d4e735"/><stop offset="0.875" stop-color="#d4e735"/><stop offset="0.9" stop-color="#d7e535"/><stop offset="0.925" stop-color="#d7e535"/><stop offset="0.95" stop-color="#d9e436"/><stop offset="0.975" stop-color="#d9e436"/><stop offset="1" stop-color="#d7e535"/></linearGradient>
<linearGradient id="g100"><stop offset="0" stop-color="#e7490c"/><stop offset="0.025" stop-color="#e5470b"/><stop offset="0.05" stop-color="#e2430a"/><stop offset="0.075" stop-color="#df3f08"/><stop offset="0.1" stop-color="#dd3d08"/><stop offset="0.125" stop-color="#da3907"/><stop offset="0.15" stop-color="#da3907"/><stop offset="0.175" stop-color="#d83706"/><stop offset="0.2" stop-color="#d63506"/><stop offset="0.225" stop-color="#d23105"/><stop offset="0.25" stop-color="#ce2d04"/><stop offset="0.275" stop-color="#cc2b04"/><stop offset="0.3" stop-color="#ca2a04"/><stop offset="0.325" stop-color="#ca2a04"/><stop offset="0.35" stop-color="#cc2b04"/><stop offset="0.375" stop-color="#d02f05"/><stop offset="0.4" stop-color="#d43305"/><stop offset="0.425" stop-color="#da3907"/><stop offset="0.45" stop-color="#e2430a"/><stop offset="0.475" stop-color="#ea4e0d"/><stop offset="0.5" stop-color="#f15d13"/><stop offset="0.525" stop-color="#f76f1a"/><stop offset="0.55" stop-color="#fb8122"/><stop offset="0.575" stop-color="#fe992c"/><stop offset="0.6" stop-color="#fcb136"/><stop offset="0.625" stop-color="#f6c33a"/><stop offset="0.65" stop-color="#ecd13a"/><stop offset="0.675" stop-color="#e3db38"/><stop offset="0.7" stop-color="#dde037"/><stop offset="0.725" stop-color="#d9e436"/><stop offset="0.75" stop-color="#d4e735"/><stop offset="0.775" stop-color="#d2e935"/><stop offset="0.8" stop-color="#d2e935"/><stop offset="0.825" stop-color="#d2e935"/><stop offset="0.85" stop-color="#d2e935"/><stop offset="0.875" stop-color="#d4e735"/><stop offset="0.9" stop-color="#d7e535"/><stop offset="0.925" stop-color="#d7e535"/><stop offset="0.95" stop-color="#d9e436"/><stop offset="0.975" stop-color="#d9e436"/><stop offset="1" stop-color="#d7e535"/></linearGradient>
<linearGradient id="g101"><stop offset="0" stop-color="#e7490c"/><stop offset="0.025" stop-color="#e5470b"/><stop offset="0.05" stop-color="#e2430a"/><stop offset="0.075" stop-color="#e14109"/><stop offset="0.1" stop-color="#dd3d08"/><stop offset="0.125" stop-color="#dc3b07"/><stop offset="0.15" stop-color="#da3907"/><stop offset="0.175" stop-color="#d83706"/><stop offset="0.2" stop-color="#d63506"/><stop offset="0.225" stop-color="#d23105"/><stop offset="0.25" stop-color="#ce2d04"/><stop offset="0.275" stop-color="#cc2b04"/><stop offset="0.3" stop-color="#ca2a04"/><stop offset="0.325" stop-color="#ca2a04"/><stop offset="0.35" stop-color="#cc2b04"/><stop offset="0.375" stop-color="#ce2d04"/><stop offset="0.4" stop-color="#d02f05"/><stop offset="0.425" stop-color="#d83706"/><stop offset="0.45" stop-color="#df3f08"/><stop offset="0.475" stop-color="#e84b0c"/><stop offset="0.5" stop-color="#f05b12"/><stop offset="0.525" stop-color="#f66c19"/><stop offset="0.55" stop-color="#fb7e21"/><stop offset="0.575" stop-color="#fe962b"/><stop offset="0.6" stop-color="#fdae35"/><stop offset="0.625" stop-color="#f6c33a"/><stop offset="0.65" stop-color="#ecd13a"/><stop offset="0.675" stop-color="#e3db38"/><stop offset="0.7" stop-color="#dde037"/><stop offset="0.725" stop-color="#d9e436"/><stop offset="0.75" stop-color="#d4e735"/><stop offset="0.775" stop-color="#d2e935"/><stop offset="0.8" stop-color="#d2e935"/><stop offset="0.825" stop-color="#d0ea34"/><stop offset="0.85" stop-color="#d2e935"/><stop offset="0.875" stop-color="#d4e735"/><stop offset="0.9" stop-color="#d7e535"/><stop offset="0.925" stop-color="#d7e535"/><stop offset="0.95" stop-color="#d9e436"/><stop offset="0.975" stop-color="#d9e436"/><stop offset="1" stop-color="#d9e436"/></linearGradient>
</defs>
<rect width="1100" height="1050" fill="#fff"/>

<!-- titles -->
<text x="500" y="30.9" class="ttl">Mississippi Sound, Gulfport</text>
<text x="500" y="1045.8" class="ttl">Mississippi Sound, Gulfport</text>
<circle cx="120.3" cy="45.2" r="5.8" fill="#fff" stroke="#000" stroke-width="2.2"/>
<text x="130.5" y="50" class="usm">USM Instrumentation</text>

<!-- vector legend -->
<rect x="582.3" y="40" width="312.6" height="39.8" fill="#fff" stroke="#000" stroke-width="2.1"/>
<text x="586" y="54.6" class="kts">0.25 kts</text>
<text x="586" y="64.6" class="kts">0.50 kts</text>
<text x="586" y="74.6" class="kts">0.75 kts</text>
<g stroke="#222" stroke-width="1">
<path d="M803.5 50.2H880M722.5 60.3H880M641.5 70.3H880"/>
</g>
<path d="M878 45.1L892.8 50.1L878 55.1ZM878 55.2L892.8 60.2L878 65.2ZM878 65.2L892.8 70.2L878 75.2Z" fill="#000"/>
<text x="582.5" y="94" class="cur">CURRENTS Vectors</text>
<text x="229" y="115.2" class="sub">Water Temperature at surface FORECAST valid May 19 2025 21:00Z</text>
<text x="811" y="110" class="gom">Gulf of Mexico</text>

<!-- field -->
<g clip-path="url(#mc)">
<g filter="url(#vb)">
<rect x="90" y="142" width="820" height="9" fill="url(#g0)"/>
<rect x="90" y="150" width="820" height="9" fill="url(#g1)"/>
<rect x="90" y="158" width="820" height="9" fill="url(#g2)"/>
<rect x="90" y="166" width="820" height="9" fill="url(#g3)"/>
<rect x="90" y="174" width="820" height="9" fill="url(#g4)"/>
<rect x="90" y="182" width="820" height="9" fill="url(#g5)"/>
<rect x="90" y="190" width="820" height="9" fill="url(#g6)"/>
<rect x="90" y="198" width="820" height="9" fill="url(#g7)"/>
<rect x="90" y="206" width="820" height="9" fill="url(#g8)"/>
<rect x="90" y="214" width="820" height="9" fill="url(#g9)"/>
<rect x="90" y="222" width="820" height="9" fill="url(#g10)"/>
<rect x="90" y="230" width="820" height="9" fill="url(#g11)"/>
<rect x="90" y="238" width="820" height="9" fill="url(#g12)"/>
<rect x="90" y="246" width="820" height="9" fill="url(#g13)"/>
<rect x="90" y="254" width="820" height="9" fill="url(#g14)"/>
<rect x="90" y="262" width="820" height="9" fill="url(#g15)"/>
<rect x="90" y="270" width="820" height="9" fill="url(#g16)"/>
<rect x="90" y="278" width="820" height="9" fill="url(#g17)"/>
<rect x="90" y="286" width="820" height="9" fill="url(#g18)"/>
<rect x="90" y="294" width="820" height="9" fill="url(#g19)"/>
<rect x="90" y="302" width="820" height="9" fill="url(#g20)"/>
<rect x="90" y="310" width="820" height="9" fill="url(#g21)"/>
<rect x="90" y="318" width="820" height="9" fill="url(#g22)"/>
<rect x="90" y="326" width="820" height="9" fill="url(#g23)"/>
<rect x="90" y="334" width="820" height="9" fill="url(#g24)"/>
<rect x="90" y="342" width="820" height="9" fill="url(#g25)"/>
<rect x="90" y="350" width="820" height="9" fill="url(#g26)"/>
<rect x="90" y="358" width="820" height="9" fill="url(#g27)"/>
<rect x="90" y="366" width="820" height="9" fill="url(#g28)"/>
<rect x="90" y="374" width="820" height="9" fill="url(#g29)"/>
<rect x="90" y="382" width="820" height="9" fill="url(#g30)"/>
<rect x="90" y="390" width="820" height="9" fill="url(#g31)"/>
<rect x="90" y="398" width="820" height="9" fill="url(#g32)"/>
<rect x="90" y="406" width="820" height="9" fill="url(#g33)"/>
<rect x="90" y="414" width="820" height="9" fill="url(#g34)"/>
<rect x="90" y="422" width="820" height="9" fill="url(#g35)"/>
<rect x="90" y="430" width="820" height="9" fill="url(#g36)"/>
<rect x="90" y="438" width="820" height="9" fill="url(#g37)"/>
<rect x="90" y="446" width="820" height="9" fill="url(#g38)"/>
<rect x="90" y="454" width="820" height="9" fill="url(#g39)"/>
<rect x="90" y="462" width="820" height="9" fill="url(#g40)"/>
<rect x="90" y="470" width="820" height="9" fill="url(#g41)"/>
<rect x="90" y="478" width="820" height="9" fill="url(#g42)"/>
<rect x="90" y="486" width="820" height="9" fill="url(#g43)"/>
<rect x="90" y="494" width="820" height="9" fill="url(#g44)"/>
<rect x="90" y="502" width="820" height="9" fill="url(#g45)"/>
<rect x="90" y="510" width="820" height="9" fill="url(#g46)"/>
<rect x="90" y="518" width="820" height="9" fill="url(#g47)"/>
<rect x="90" y="526" width="820" height="9" fill="url(#g48)"/>
<rect x="90" y="534" width="820" height="9" fill="url(#g49)"/>
<rect x="90" y="542" width="820" height="9" fill="url(#g50)"/>
<rect x="90" y="550" width="820" height="9" fill="url(#g51)"/>
<rect x="90" y="558" width="820" height="9" fill="url(#g52)"/>
<rect x="90" y="566" width="820" height="9" fill="url(#g53)"/>
<rect x="90" y="574" width="820" height="9" fill="url(#g54)"/>
<rect x="90" y="582" width="820" height="9" fill="url(#g55)"/>
<rect x="90" y="590" width="820" height="9" fill="url(#g56)"/>
<rect x="90" y="598" width="820" height="9" fill="url(#g57)"/>
<rect x="90" y="606" width="820" height="9" fill="url(#g58)"/>
<rect x="90" y="614" width="820" height="9" fill="url(#g59)"/>
<rect x="90" y="622" width="820" height="9" fill="url(#g60)"/>
<rect x="90" y="630" width="820" height="9" fill="url(#g61)"/>
<rect x="90" y="638" width="820" height="9" fill="url(#g62)"/>
<rect x="90" y="646" width="820" height="9" fill="url(#g63)"/>
<rect x="90" y="654" width="820" height="9" fill="url(#g64)"/>
<rect x="90" y="662" width="820" height="9" fill="url(#g65)"/>
<rect x="90" y="670" width="820" height="9" fill="url(#g66)"/>
<rect x="90" y="678" width="820" height="9" fill="url(#g67)"/>
<rect x="90" y="686" width="820" height="9" fill="url(#g68)"/>
<rect x="90" y="694" width="820" height="9" fill="url(#g69)"/>
<rect x="90" y="702" width="820" height="9" fill="url(#g70)"/>
<rect x="90" y="710" width="820" height="9" fill="url(#g71)"/>
<rect x="90" y="718" width="820" height="9" fill="url(#g72)"/>
<rect x="90" y="726" width="820" height="9" fill="url(#g73)"/>
<rect x="90" y="734" width="820" height="9" fill="url(#g74)"/>
<rect x="90" y="742" width="820" height="9" fill="url(#g75)"/>
<rect x="90" y="750" width="820" height="9" fill="url(#g76)"/>
<rect x="90" y="758" width="820" height="9" fill="url(#g77)"/>
<rect x="90" y="766" width="820" height="9" fill="url(#g78)"/>
<rect x="90" y="774" width="820" height="9" fill="url(#g79)"/>
<rect x="90" y="782" width="820" height="9" fill="url(#g80)"/>
<rect x="90" y="790" width="820" height="9" fill="url(#g81)"/>
<rect x="90" y="798" width="820" height="9" fill="url(#g82)"/>
<rect x="90" y="806" width="820" height="9" fill="url(#g83)"/>
<rect x="90" y="814" width="820" height="9" fill="url(#g84)"/>
<rect x="90" y="822" width="820" height="9" fill="url(#g85)"/>
<rect x="90" y="830" width="820" height="9" fill="url(#g86)"/>
<rect x="90" y="838" width="820" height="9" fill="url(#g87)"/>
<rect x="90" y="846" width="820" height="9" fill="url(#g88)"/>
<rect x="90" y="854" width="820" height="9" fill="url(#g89)"/>
<rect x="90" y="862" width="820" height="9" fill="url(#g90)"/>
<rect x="90" y="870" width="820" height="9" fill="url(#g91)"/>
<rect x="90" y="878" width="820" height="9" fill="url(#g92)"/>
<rect x="90" y="886" width="820" height="9" fill="url(#g93)"/>
<rect x="90" y="894" width="820" height="9" fill="url(#g94)"/>
<rect x="90" y="902" width="820" height="9" fill="url(#g95)"/>
<rect x="90" y="910" width="820" height="9" fill="url(#g96)"/>
<rect x="90" y="918" width="820" height="9" fill="url(#g97)"/>
<rect x="90" y="926" width="820" height="9" fill="url(#g98)"/>
<rect x="90" y="934" width="820" height="9" fill="url(#g99)"/>
<rect x="90" y="942" width="820" height="9" fill="url(#g100)"/>
<rect x="90" y="950" width="820" height="9" fill="url(#g101)"/>
</g>
<!-- gridlines -->
<path d="M140.2 150V950M640.2 150V950M100 650H900" stroke="#b8b8b8" stroke-width="1.5" fill="none"/>
<!-- station -->
<circle cx="436.9" cy="710.4" r="6.1" fill="#fff" stroke="#000" stroke-width="1.9"/>
<path d="M295.0 149.3L236.0 152.5" fill="none" stroke="#000" stroke-width="1.5"/><path d="M223.0 153.2L237.2 147.8L237.7 157.0Z" fill="#000"/>
<path d="M495.0 148.3L439.0 151.1" fill="none" stroke="#000" stroke-width="1.5"/><path d="M426.0 151.8L440.2 146.5L440.7 155.7Z" fill="#000"/>
<path d="M294.7 350.6L250.1 356.9" fill="none" stroke="#000" stroke-width="1.5"/><path d="M237.3 358.9L250.9 352.2L252.3 361.2Z" fill="#000"/>
<path d="M494.7 350.6L452.1 354.6" fill="none" stroke="#000" stroke-width="1.5"/><path d="M439.3 355.9L453.1 349.8L454.1 359.0Z" fill="#000"/>
<path d="M695.5 349.7L655.4 350.7" fill="none" stroke="#000" stroke-width="1.5"/><path d="M642.4 351.0L656.8 346.0L657.0 355.2Z" fill="#000"/>
<path d="M895.5 349.7L859.3 348.4" fill="none" stroke="#000" stroke-width="1.5"/><path d="M846.3 348.0L861.0 343.9L860.6 353.1Z" fill="#000"/>
<path d="M295.5 550.5L260.0 557.9" fill="none" stroke="#000" stroke-width="1.5"/><path d="M247.3 560.5L260.6 553.1L262.4 562.1Z" fill="#000"/>
<path d="M495.5 549.6L459.8 552.8" fill="none" stroke="#000" stroke-width="1.5"/><path d="M446.9 554.0L460.9 548.1L461.8 557.3Z" fill="#000"/>
<path d="M696.0 549.3L664.2 543.0" fill="none" stroke="#000" stroke-width="1.5"/><path d="M651.4 540.5L666.5 538.8L664.7 547.8Z" fill="#000"/>
<path d="M896.6 549.0L867.5 541.4" fill="none" stroke="#000" stroke-width="1.5"/><path d="M855.1 537.3L870.4 537.5L867.4 546.3Z" fill="#000"/>
<path d="M297.0 749.5L276.2 749.4" fill="none" stroke="#000" stroke-width="1.5"/><path d="M263.2 749.3L277.7 744.8L277.7 754.0Z" fill="#000"/>
<path d="M497.1 748.6L481.6 741.3" fill="none" stroke="#000" stroke-width="1.5"/><path d="M471.2 733.4L485.6 738.5L480.0 745.9Z" fill="#000"/>
<path d="M698.6 747.4L688.5 724.7" fill="none" stroke="#000" stroke-width="1.5"/><path d="M685.2 712.1L693.3 725.0L684.5 727.4Z" fill="#000"/>
<path d="M900.2 750.0L895.6 719.7" fill="none" stroke="#000" stroke-width="1.5"/><path d="M889.1 708.6L900.4 718.7L892.4 723.3Z" fill="#000"/>
<path d="M299.6 949.5L295.5 937.3" fill="none" stroke="#000" stroke-width="1.5"/><path d="M292.5 924.3L300.3 937.8L291.3 939.8Z" fill="#000"/>
<path d="M500.0 948.5L501.8 926.0" fill="none" stroke="#000" stroke-width="1.5"/><path d="M498.6 913.6L506.7 926.3L497.7 928.7Z" fill="#000"/>
<path d="M701.2 945.1L710.2 909.1" fill="none" stroke="#000" stroke-width="1.5"/><path d="M711.5 896.2L714.7 911.0L705.5 910.2Z" fill="#000"/>
</g>

<!-- frame + ticks -->
<g stroke="#000" stroke-width="1.4" fill="none"><path d="M140 150v-7.8 M140 950v7.8"/><path d="M190 150v-3.8 M190 950v3.8"/><path d="M240 150v-3.8 M240 950v3.8"/><path d="M290 150v-3.8 M290 950v3.8"/><path d="M340 150v-3.8 M340 950v3.8"/><path d="M390 150v-3.8 M390 950v3.8"/><path d="M440 150v-3.8 M440 950v3.8"/><path d="M490 150v-3.8 M490 950v3.8"/><path d="M540 150v-3.8 M540 950v3.8"/><path d="M590 150v-3.8 M590 950v3.8"/><path d="M640 150v-7.8 M640 950v7.8"/><path d="M690 150v-3.8 M690 950v3.8"/><path d="M740 150v-3.8 M740 950v3.8"/><path d="M790 150v-3.8 M790 950v3.8"/><path d="M840 150v-3.8 M840 950v3.8"/><path d="M890 150v-3.8 M890 950v3.8"/><path d="M100 150h-7.8 M900.5 150h7.8"/><path d="M100 200h-3.8 M900.5 200h3.8"/><path d="M100 250h-3.8 M900.5 250h3.8"/><path d="M100 300h-3.8 M900.5 300h3.8"/><path d="M100 350h-3.8 M900.5 350h3.8"/><path d="M100 400h-3.8 M900.5 400h3.8"/><path d="M100 450h-3.8 M900.5 450h3.8"/><path d="M100 500h-3.8 M900.5 500h3.8"/><path d="M100 550h-3.8 M900.5 550h3.8"/><path d="M100 600h-3.8 M900.5 600h3.8"/><path d="M100 650h-7.8 M900.5 650h7.8"/><path d="M100 700h-3.8 M900.5 700h3.8"/><path d="M100 750h-3.8 M900.5 750h3.8"/><path d="M100 800h-3.8 M900.5 800h3.8"/><path d="M100 850h-3.8 M900.5 850h3.8"/><path d="M100 900h-3.8 M900.5 900h3.8"/><path d="M100 950h-3.8 M900.5 950h3.8"/></g>
<rect x="100.2" y="150.3" width="800.3" height="799.7" fill="none" stroke="#000" stroke-width="2.9"/>

<!-- axis labels -->
<g class="ax">
<text x="139.8" y="135.2" text-anchor="middle" class="ax">&#8722;89&#176;05'15"</text>
<text x="639.8" y="135.2" text-anchor="middle" class="ax">&#8722;89&#176;04'30"</text>
<text x="139.8" y="973.4" text-anchor="middle" class="ax">&#8722;89&#176;05'15"</text>
<text x="639.8" y="973.4" text-anchor="middle" class="ax">&#8722;89&#176;04'30"</text>
<text x="86.2" y="153.9" text-anchor="end" class="ax">30&#176;16'30"</text>
<text x="86.2" y="653.9" text-anchor="end" class="ax">30&#176;15'45"</text>
<text x="915" y="153.9" class="ax">30&#176;16'30"</text>
<text x="915" y="653.9" class="ax">30&#176;15'45"</text>
</g>

<!-- colorbar -->
<rect x="980.4" y="400" width="20.1" height="300" fill="url(#cbg)" stroke="#000" stroke-width="2.8"/>
<path d="M1001.5 400h6.5" stroke="#333" stroke-width="1.8"/><path d="M979.3 400h22.2" stroke="#bbb" stroke-width="1.2" stroke-linecap="round"/><text x="1015" y="403.9" class="ax">84.0</text><path d="M1001.5 430h6.5" stroke="#333" stroke-width="1.8"/><path d="M981.8 430h17.3" stroke="#b8b8b8" stroke-width="1.2"/><text x="1015" y="433.9" class="ax">83.6</text><path d="M1001.5 460h6.5" stroke="#333" stroke-width="1.8"/><path d="M981.8 460h17.3" stroke="#b8b8b8" stroke-width="1.2"/><text x="1015" y="463.9" class="ax">83.2</text><path d="M1001.5 490h6.5" stroke="#333" stroke-width="1.8"/><path d="M981.8 490h17.3" stroke="#b8b8b8" stroke-width="1.2"/><text x="1015" y="493.9" class="ax">82.8</text><path d="M1001.5 520h6.5" stroke="#333" stroke-width="1.8"/><path d="M981.8 520h17.3" stroke="#b8b8b8" stroke-width="1.2"/><text x="1015" y="523.9" class="ax">82.4</text><path d="M1001.5 550h6.5" stroke="#333" stroke-width="1.8"/><path d="M981.8 550h17.3" stroke="#b8b8b8" stroke-width="1.2"/><text x="1015" y="553.9" class="ax">82.0</text><path d="M1001.5 580h6.5" stroke="#333" stroke-width="1.8"/><path d="M981.8 580h17.3" stroke="#b8b8b8" stroke-width="1.2"/><text x="1015" y="583.9" class="ax">81.6</text><path d="M1001.5 610h6.5" stroke="#333" stroke-width="1.8"/><path d="M981.8 610h17.3" stroke="#b8b8b8" stroke-width="1.2"/><text x="1015" y="613.9" class="ax">81.2</text><path d="M1001.5 640h6.5" stroke="#333" stroke-width="1.8"/><path d="M981.8 640h17.3" stroke="#b8b8b8" stroke-width="1.2"/><text x="1015" y="643.9" class="ax">80.8</text><path d="M1001.5 670h6.5" stroke="#333" stroke-width="1.8"/><path d="M981.8 670h17.3" stroke="#b8b8b8" stroke-width="1.2"/><text x="1015" y="673.9" class="ax">80.4</text><path d="M1001.5 700h6.5" stroke="#333" stroke-width="1.8"/><path d="M979.3 700h22.2" stroke="#bbb" stroke-width="1.2" stroke-linecap="round"/><text x="1015" y="703.9" class="ax">80.0</text>
<text transform="translate(1055.3 550) rotate(-90)" class="tmp">Temp (F)</text>
</svg>
</body></html>
